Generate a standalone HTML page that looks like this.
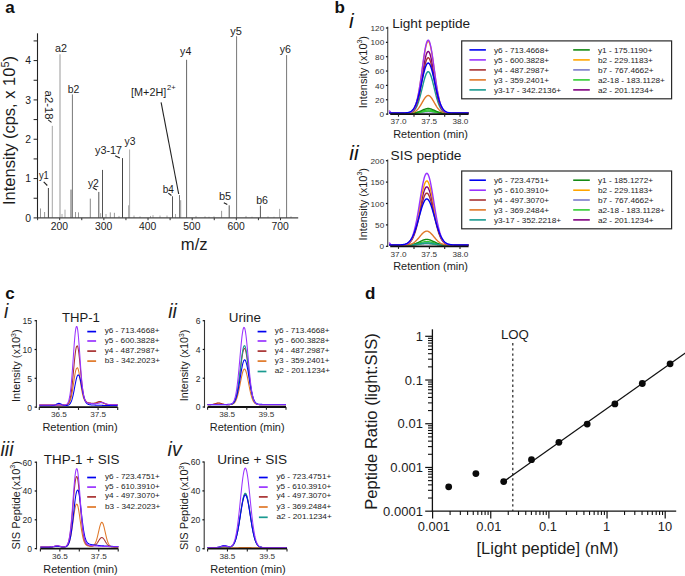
<!DOCTYPE html>
<html><head><meta charset="utf-8"><style>
html,body{margin:0;padding:0;background:#fff;}
svg{display:block;}
text{font-family:"Liberation Sans", sans-serif;}
</style></head><body>
<svg width="685" height="576" viewBox="0 0 685 576">
<rect width="685" height="576" fill="#fff"/>
<text x="5.20" y="12.70" font-size="17" font-weight="bold" fill="#111">a</text>
<line x1="48.40" y1="217.90" x2="48.40" y2="188.01" stroke="#444" stroke-width="1"/>
<line x1="52.30" y1="217.90" x2="52.30" y2="125.87" stroke="#a5a5a5" stroke-width="1"/>
<line x1="60.00" y1="217.90" x2="60.00" y2="54.29" stroke="#999" stroke-width="1"/>
<line x1="72.40" y1="217.90" x2="72.40" y2="94.40" stroke="#777" stroke-width="1"/>
<line x1="40.50" y1="217.90" x2="40.50" y2="208.46" stroke="#999" stroke-width="1"/>
<line x1="44.60" y1="217.90" x2="44.60" y2="212.00" stroke="#999" stroke-width="1"/>
<line x1="65.00" y1="217.90" x2="65.00" y2="209.64" stroke="#aaa" stroke-width="1"/>
<line x1="75.50" y1="217.90" x2="75.50" y2="212.00" stroke="#999" stroke-width="1"/>
<line x1="78.50" y1="217.90" x2="78.50" y2="212.39" stroke="#999" stroke-width="1"/>
<line x1="90.30" y1="217.90" x2="90.30" y2="198.63" stroke="#888" stroke-width="1"/>
<line x1="98.80" y1="217.90" x2="98.80" y2="191.94" stroke="#555" stroke-width="1"/>
<line x1="102.50" y1="217.90" x2="102.50" y2="169.92" stroke="#555" stroke-width="1"/>
<line x1="110.30" y1="217.90" x2="110.30" y2="212.39" stroke="#999" stroke-width="1"/>
<line x1="114.40" y1="217.90" x2="114.40" y2="212.79" stroke="#999" stroke-width="1"/>
<line x1="122.50" y1="217.90" x2="122.50" y2="158.12" stroke="#444" stroke-width="1"/>
<line x1="129.60" y1="217.90" x2="129.60" y2="149.47" stroke="#aaa" stroke-width="1"/>
<line x1="172.50" y1="217.90" x2="172.50" y2="196.27" stroke="#555" stroke-width="1"/>
<line x1="179.50" y1="217.90" x2="179.50" y2="195.09" stroke="#777" stroke-width="1"/>
<line x1="180.70" y1="217.90" x2="180.70" y2="200.20" stroke="#999" stroke-width="1"/>
<line x1="186.60" y1="217.90" x2="186.60" y2="59.79" stroke="#666" stroke-width="1"/>
<line x1="221.60" y1="217.90" x2="221.60" y2="210.82" stroke="#999" stroke-width="1"/>
<line x1="229.20" y1="217.90" x2="229.20" y2="205.31" stroke="#555" stroke-width="1"/>
<line x1="236.60" y1="217.90" x2="236.60" y2="36.20" stroke="#777" stroke-width="1"/>
<line x1="260.40" y1="217.90" x2="260.40" y2="205.71" stroke="#555" stroke-width="1"/>
<line x1="279.60" y1="217.90" x2="279.60" y2="208.85" stroke="#aaa" stroke-width="1"/>
<line x1="286.60" y1="217.90" x2="286.60" y2="55.07" stroke="#777" stroke-width="1"/>
<line x1="128.60" y1="217.90" x2="128.60" y2="205.31" stroke="#aaa" stroke-width="1"/>
<line x1="71.00" y1="217.90" x2="71.00" y2="189.58" stroke="#666" stroke-width="1"/>
<line x1="70.80" y1="217.90" x2="70.80" y2="210.03" stroke="#aaa" stroke-width="1"/>
<line x1="100.60" y1="217.90" x2="100.60" y2="213.18" stroke="#aaa" stroke-width="1"/>
<line x1="106.00" y1="217.90" x2="106.00" y2="213.97" stroke="#aaa" stroke-width="1"/>
<line x1="160.00" y1="217.90" x2="160.00" y2="215.54" stroke="#aaa" stroke-width="1"/>
<line x1="150.50" y1="217.90" x2="150.50" y2="215.93" stroke="#aaa" stroke-width="1"/>
<line x1="153.00" y1="217.90" x2="153.00" y2="215.15" stroke="#aaa" stroke-width="1"/>
<line x1="175.50" y1="217.90" x2="175.50" y2="213.97" stroke="#aaa" stroke-width="1"/>
<line x1="196.00" y1="217.90" x2="196.00" y2="215.93" stroke="#aaa" stroke-width="1"/>
<line x1="205.00" y1="217.90" x2="205.00" y2="216.33" stroke="#aaa" stroke-width="1"/>
<line x1="246.00" y1="217.90" x2="246.00" y2="215.93" stroke="#aaa" stroke-width="1"/>
<line x1="167.00" y1="217.90" x2="167.00" y2="215.54" stroke="#aaa" stroke-width="1"/>
<line x1="140.00" y1="217.90" x2="140.00" y2="216.33" stroke="#aaa" stroke-width="1"/>
<line x1="134.00" y1="217.90" x2="134.00" y2="215.54" stroke="#aaa" stroke-width="1"/>
<line x1="119.00" y1="217.90" x2="119.00" y2="215.93" stroke="#aaa" stroke-width="1"/>
<line x1="62.00" y1="217.90" x2="62.00" y2="213.97" stroke="#aaa" stroke-width="1"/>
<line x1="209.00" y1="217.90" x2="209.00" y2="216.72" stroke="#aaa" stroke-width="1"/>
<line x1="214.00" y1="217.90" x2="214.00" y2="216.33" stroke="#aaa" stroke-width="1"/>
<line x1="252.00" y1="217.90" x2="252.00" y2="216.72" stroke="#aaa" stroke-width="1"/>
<line x1="268.00" y1="217.90" x2="268.00" y2="216.33" stroke="#aaa" stroke-width="1"/>
<line x1="274.00" y1="217.90" x2="274.00" y2="216.72" stroke="#aaa" stroke-width="1"/>
<line x1="291.00" y1="217.90" x2="291.00" y2="216.33" stroke="#aaa" stroke-width="1"/>
<line x1="37.50" y1="33.30" x2="37.50" y2="218.40" stroke="#222" stroke-width="1.1"/>
<line x1="37.00" y1="217.90" x2="298.20" y2="217.90" stroke="#444" stroke-width="1.1"/>
<line x1="33.60" y1="217.90" x2="37.50" y2="217.90" stroke="#222" stroke-width="1"/>
<line x1="33.60" y1="198.24" x2="37.50" y2="198.24" stroke="#222" stroke-width="1"/>
<line x1="33.60" y1="178.57" x2="37.50" y2="178.57" stroke="#222" stroke-width="1"/>
<line x1="33.60" y1="158.91" x2="37.50" y2="158.91" stroke="#222" stroke-width="1"/>
<line x1="33.60" y1="139.24" x2="37.50" y2="139.24" stroke="#222" stroke-width="1"/>
<line x1="33.60" y1="119.58" x2="37.50" y2="119.58" stroke="#222" stroke-width="1"/>
<line x1="33.60" y1="99.91" x2="37.50" y2="99.91" stroke="#222" stroke-width="1"/>
<line x1="33.60" y1="80.25" x2="37.50" y2="80.25" stroke="#222" stroke-width="1"/>
<line x1="33.60" y1="60.58" x2="37.50" y2="60.58" stroke="#222" stroke-width="1"/>
<line x1="33.60" y1="40.92" x2="37.50" y2="40.92" stroke="#222" stroke-width="1"/>
<line x1="37.62" y1="217.90" x2="37.62" y2="220.20" stroke="#333" stroke-width="1"/>
<line x1="59.70" y1="217.90" x2="59.70" y2="220.20" stroke="#333" stroke-width="1"/>
<line x1="81.78" y1="217.90" x2="81.78" y2="220.20" stroke="#333" stroke-width="1"/>
<line x1="103.86" y1="217.90" x2="103.86" y2="220.20" stroke="#333" stroke-width="1"/>
<line x1="125.94" y1="217.90" x2="125.94" y2="220.20" stroke="#333" stroke-width="1"/>
<line x1="148.02" y1="217.90" x2="148.02" y2="220.20" stroke="#333" stroke-width="1"/>
<line x1="170.10" y1="217.90" x2="170.10" y2="220.20" stroke="#333" stroke-width="1"/>
<line x1="192.18" y1="217.90" x2="192.18" y2="220.20" stroke="#333" stroke-width="1"/>
<line x1="214.26" y1="217.90" x2="214.26" y2="220.20" stroke="#333" stroke-width="1"/>
<line x1="236.34" y1="217.90" x2="236.34" y2="220.20" stroke="#333" stroke-width="1"/>
<line x1="258.42" y1="217.90" x2="258.42" y2="220.20" stroke="#333" stroke-width="1"/>
<line x1="280.50" y1="217.90" x2="280.50" y2="220.20" stroke="#333" stroke-width="1"/>
<text x="31.00" y="221.70" font-size="10.4" text-anchor="end" fill="#1c1c1c">0</text>
<text x="31.00" y="182.37" font-size="10.4" text-anchor="end" fill="#1c1c1c">1</text>
<text x="31.00" y="143.04" font-size="10.4" text-anchor="end" fill="#1c1c1c">2</text>
<text x="31.00" y="103.71" font-size="10.4" text-anchor="end" fill="#1c1c1c">3</text>
<text x="31.00" y="64.38" font-size="10.4" text-anchor="end" fill="#1c1c1c">4</text>
<text x="59.40" y="229.70" font-size="10.5" text-anchor="middle" fill="#1c1c1c" textLength="17.30" lengthAdjust="spacingAndGlyphs">200</text>
<text x="103.56" y="229.70" font-size="10.5" text-anchor="middle" fill="#1c1c1c" textLength="17.30" lengthAdjust="spacingAndGlyphs">300</text>
<text x="147.72" y="229.70" font-size="10.5" text-anchor="middle" fill="#1c1c1c" textLength="17.30" lengthAdjust="spacingAndGlyphs">400</text>
<text x="191.88" y="229.70" font-size="10.5" text-anchor="middle" fill="#1c1c1c" textLength="17.30" lengthAdjust="spacingAndGlyphs">500</text>
<text x="236.04" y="229.70" font-size="10.5" text-anchor="middle" fill="#1c1c1c" textLength="17.30" lengthAdjust="spacingAndGlyphs">600</text>
<text x="280.20" y="229.70" font-size="10.5" text-anchor="middle" fill="#1c1c1c" textLength="17.30" lengthAdjust="spacingAndGlyphs">700</text>
<text x="194.20" y="249.70" font-size="16.6" text-anchor="middle" fill="#1c1c1c">m/z</text>
<text transform="translate(14.90,205.00) rotate(-90)" font-size="16.6" fill="#1c1c1c" textLength="149.00" lengthAdjust="spacingAndGlyphs">Intensity (cps, x 10<tspan font-size="11" dy="-5.8">5</tspan><tspan dy="5.8">)</tspan></text>
<text x="55.00" y="51.70" font-size="10.4" fill="#1c1c1c" textLength="12.00" lengthAdjust="spacingAndGlyphs">a2</text>
<text x="67.70" y="92.70" font-size="10.4" fill="#1c1c1c" textLength="11.60" lengthAdjust="spacingAndGlyphs">b2</text>
<text x="180.10" y="55.40" font-size="10.4" fill="#1c1c1c" textLength="11.20" lengthAdjust="spacingAndGlyphs">y4</text>
<text x="230.30" y="34.80" font-size="10.4" fill="#1c1c1c" textLength="11.60" lengthAdjust="spacingAndGlyphs">y5</text>
<text x="279.70" y="52.70" font-size="10.4" fill="#1c1c1c" textLength="11.20" lengthAdjust="spacingAndGlyphs">y6</text>
<text x="38.90" y="179.20" font-size="10.4" fill="#1c1c1c" textLength="9.90" lengthAdjust="spacingAndGlyphs">y1</text>
<text x="87.90" y="186.90" font-size="10.4" fill="#1c1c1c" textLength="11.00" lengthAdjust="spacingAndGlyphs">y2</text>
<text x="95.00" y="153.80" font-size="10.4" fill="#1c1c1c" textLength="27.10" lengthAdjust="spacingAndGlyphs">y3-17</text>
<text x="124.50" y="144.80" font-size="10.4" fill="#1c1c1c" textLength="10.90" lengthAdjust="spacingAndGlyphs">y3</text>
<text x="162.70" y="192.50" font-size="10.4" fill="#1c1c1c" textLength="11.20" lengthAdjust="spacingAndGlyphs">b4</text>
<text x="218.90" y="200.30" font-size="10.4" fill="#1c1c1c" textLength="12.20" lengthAdjust="spacingAndGlyphs">b5</text>
<text x="256.20" y="203.80" font-size="10.4" fill="#1c1c1c" textLength="11.80" lengthAdjust="spacingAndGlyphs">b6</text>
<text transform="translate(44.70,90.60) rotate(90)" font-size="10.4" fill="#1c1c1c" textLength="29.00" lengthAdjust="spacingAndGlyphs">a2-18</text>
<line x1="43.70" y1="181.90" x2="47.30" y2="185.50" stroke="#222" stroke-width="1.1"/>
<line x1="92.70" y1="187.60" x2="96.80" y2="189.90" stroke="#222" stroke-width="1.1"/>
<line x1="115.20" y1="155.70" x2="119.90" y2="157.90" stroke="#222" stroke-width="1.1"/>
<line x1="48.20" y1="119.90" x2="51.50" y2="122.40" stroke="#222" stroke-width="1.1"/>
<line x1="168.30" y1="193.10" x2="171.40" y2="195.50" stroke="#222" stroke-width="1.1"/>
<line x1="223.80" y1="202.70" x2="227.30" y2="204.60" stroke="#222" stroke-width="1.1"/>
<text x="131.10" y="95.90" font-size="11.0" fill="#1c1c1c" textLength="35.10" lengthAdjust="spacingAndGlyphs">[M+2H]</text>
<text x="167.00" y="90.20" font-size="7.6" fill="#1c1c1c" textLength="8.60" lengthAdjust="spacingAndGlyphs">2+</text>
<line x1="161.10" y1="102.40" x2="178.70" y2="194.00" stroke="#222" stroke-width="1.1"/>
<text x="334.60" y="12.80" font-size="17" font-weight="bold" fill="#111">b</text>
<text x="349.00" y="28.30" font-size="21" font-style="italic" fill="#111">i</text>
<text x="392.20" y="27.50" font-size="13.2" fill="#1c1c1c" textLength="78.00" lengthAdjust="spacingAndGlyphs">Light peptide</text>
<path d="M389.00,113.11 L389.50,113.11 L390.00,113.11 L390.50,113.11 L391.00,113.11 L391.50,113.11 L392.00,113.11 L392.50,113.11 L393.00,113.11 L393.50,113.11 L394.00,113.11 L394.50,113.11 L395.00,113.11 L395.50,113.11 L396.00,113.11 L396.50,113.11 L397.00,113.11 L397.50,113.11 L398.00,113.11 L398.50,113.11 L399.00,113.11 L399.50,113.11 L400.00,113.11 L400.50,113.11 L401.00,113.11 L401.50,113.11 L402.00,113.11 L402.50,113.11 L403.00,113.11 L403.50,113.11 L404.00,113.10 L404.50,113.10 L405.00,113.10 L405.50,113.10 L406.00,113.10 L406.50,113.10 L407.00,113.10 L407.50,113.10 L408.00,113.10 L408.50,113.10 L409.00,113.10 L409.50,113.09 L410.00,113.09 L410.50,113.09 L411.00,113.08 L411.50,113.08 L412.00,113.07 L412.50,113.06 L413.00,113.05 L413.50,113.03 L414.00,113.02 L414.50,113.00 L415.00,112.98 L415.50,112.95 L416.00,112.92 L416.50,112.89 L417.00,112.85 L417.50,112.81 L418.00,112.77 L418.50,112.72 L419.00,112.66 L419.50,112.60 L420.00,112.54 L420.50,112.48 L421.00,112.41 L421.50,112.34 L422.00,112.26 L422.50,112.19 L423.00,112.12 L423.50,112.05 L424.00,111.98 L424.50,111.92 L425.00,111.86 L425.50,111.81 L426.00,111.76 L426.50,111.73 L427.00,111.70 L427.50,111.68 L428.00,111.67 L428.50,111.67 L429.00,111.68 L429.50,111.70 L430.00,111.73 L430.50,111.77 L431.00,111.82 L431.50,111.87 L432.00,111.93 L432.50,112.00 L433.00,112.06 L433.50,112.13 L434.00,112.21 L434.50,112.28 L435.00,112.35 L435.50,112.42 L436.00,112.49 L436.50,112.55 L437.00,112.62 L437.50,112.67 L438.00,112.73 L438.50,112.78 L439.00,112.82 L439.50,112.86 L440.00,112.90 L440.50,112.93 L441.00,112.96 L441.50,112.98 L442.00,113.00 L442.50,113.02 L443.00,113.04 L443.50,113.05 L444.00,113.06 L444.50,113.07 L445.00,113.08 L445.50,113.08 L446.00,113.09 L446.50,113.09 L447.00,113.09 L447.50,113.10 L448.00,113.10 L448.50,113.10 L449.00,113.10 L449.50,113.10 L450.00,113.10 L450.50,113.10 L451.00,113.10 L451.50,113.10 L452.00,113.10 L452.50,113.10 L453.00,113.11 L453.50,113.11 L454.00,113.11 L454.50,113.11 L455.00,113.11 L455.50,113.11 L456.00,113.11 L456.50,113.11 L457.00,113.11 L457.50,113.11 L458.00,113.11 L458.50,113.11 L459.00,113.11 L459.50,113.11 L460.00,113.11 L460.50,113.11 L461.00,113.11 L461.50,113.11 L462.00,113.11 L462.50,113.11 L463.00,113.11 L463.50,113.11 L464.00,113.11 L464.50,113.11 L465.00,113.11 L465.50,113.11 L466.00,113.11 L466.50,113.11 L467.00,113.11 L467.50,113.11 L468.00,113.11 L468.50,113.11" fill="none" stroke="#7b7bc8" stroke-width="1.4" stroke-linejoin="round"/>
<path d="M389.00,113.11 L389.50,113.11 L390.00,113.11 L390.50,113.11 L391.00,113.11 L391.50,113.11 L392.00,113.11 L392.50,113.11 L393.00,113.11 L393.50,113.11 L394.00,113.11 L394.50,113.11 L395.00,113.11 L395.50,113.11 L396.00,113.11 L396.50,113.11 L397.00,113.11 L397.50,113.11 L398.00,113.11 L398.50,113.11 L399.00,113.11 L399.50,113.11 L400.00,113.11 L400.50,113.11 L401.00,113.11 L401.50,113.11 L402.00,113.11 L402.50,113.11 L403.00,113.11 L403.50,113.10 L404.00,113.10 L404.50,113.10 L405.00,113.10 L405.50,113.10 L406.00,113.10 L406.50,113.10 L407.00,113.10 L407.50,113.10 L408.00,113.10 L408.50,113.10 L409.00,113.09 L409.50,113.09 L410.00,113.09 L410.50,113.08 L411.00,113.07 L411.50,113.06 L412.00,113.05 L412.50,113.04 L413.00,113.02 L413.50,113.01 L414.00,112.98 L414.50,112.96 L415.00,112.93 L415.50,112.89 L416.00,112.85 L416.50,112.81 L417.00,112.75 L417.50,112.70 L418.00,112.63 L418.50,112.56 L419.00,112.49 L419.50,112.40 L420.00,112.32 L420.50,112.22 L421.00,112.13 L421.50,112.03 L422.00,111.93 L422.50,111.83 L423.00,111.73 L423.50,111.63 L424.00,111.53 L424.50,111.44 L425.00,111.36 L425.50,111.29 L426.00,111.23 L426.50,111.18 L427.00,111.14 L427.50,111.11 L428.00,111.10 L428.50,111.10 L429.00,111.11 L429.50,111.14 L430.00,111.18 L430.50,111.24 L431.00,111.30 L431.50,111.38 L432.00,111.46 L432.50,111.55 L433.00,111.65 L433.50,111.75 L434.00,111.85 L434.50,111.95 L435.00,112.05 L435.50,112.15 L436.00,112.24 L436.50,112.33 L437.00,112.42 L437.50,112.50 L438.00,112.58 L438.50,112.65 L439.00,112.71 L439.50,112.76 L440.00,112.81 L440.50,112.86 L441.00,112.90 L441.50,112.93 L442.00,112.96 L442.50,112.99 L443.00,113.01 L443.50,113.03 L444.00,113.04 L444.50,113.06 L445.00,113.07 L445.50,113.07 L446.00,113.08 L446.50,113.09 L447.00,113.09 L447.50,113.09 L448.00,113.10 L448.50,113.10 L449.00,113.10 L449.50,113.10 L450.00,113.10 L450.50,113.10 L451.00,113.10 L451.50,113.10 L452.00,113.10 L452.50,113.10 L453.00,113.10 L453.50,113.11 L454.00,113.11 L454.50,113.11 L455.00,113.11 L455.50,113.11 L456.00,113.11 L456.50,113.11 L457.00,113.11 L457.50,113.11 L458.00,113.11 L458.50,113.11 L459.00,113.11 L459.50,113.11 L460.00,113.11 L460.50,113.11 L461.00,113.11 L461.50,113.11 L462.00,113.11 L462.50,113.11 L463.00,113.11 L463.50,113.11 L464.00,113.11 L464.50,113.11 L465.00,113.11 L465.50,113.11 L466.00,113.11 L466.50,113.11 L467.00,113.11 L467.50,113.11 L468.00,113.11 L468.50,113.11" fill="none" stroke="#33cc33" stroke-width="1.4" stroke-linejoin="round"/>
<path d="M389.00,113.11 L389.50,113.11 L390.00,113.11 L390.50,113.11 L391.00,113.11 L391.50,113.11 L392.00,113.11 L392.50,113.11 L393.00,113.11 L393.50,113.11 L394.00,113.11 L394.50,113.11 L395.00,113.11 L395.50,113.11 L396.00,113.11 L396.50,113.11 L397.00,113.11 L397.50,113.11 L398.00,113.11 L398.50,113.11 L399.00,113.11 L399.50,113.11 L400.00,113.11 L400.50,113.11 L401.00,113.11 L401.50,113.11 L402.00,113.11 L402.50,113.11 L403.00,113.10 L403.50,113.10 L404.00,113.10 L404.50,113.10 L405.00,113.10 L405.50,113.10 L406.00,113.10 L406.50,113.10 L407.00,113.10 L407.50,113.10 L408.00,113.09 L408.50,113.09 L409.00,113.09 L409.50,113.08 L410.00,113.07 L410.50,113.07 L411.00,113.05 L411.50,113.04 L412.00,113.02 L412.50,113.00 L413.00,112.98 L413.50,112.95 L414.00,112.92 L414.50,112.88 L415.00,112.83 L415.50,112.78 L416.00,112.71 L416.50,112.64 L417.00,112.57 L417.50,112.48 L418.00,112.38 L418.50,112.27 L419.00,112.15 L419.50,112.03 L420.00,111.89 L420.50,111.75 L421.00,111.60 L421.50,111.45 L422.00,111.30 L422.50,111.14 L423.00,110.99 L423.50,110.84 L424.00,110.69 L424.50,110.55 L425.00,110.43 L425.50,110.32 L426.00,110.22 L426.50,110.14 L427.00,110.08 L427.50,110.04 L428.00,110.02 L428.50,110.02 L429.00,110.05 L429.50,110.09 L430.00,110.16 L430.50,110.24 L431.00,110.34 L431.50,110.45 L432.00,110.58 L432.50,110.72 L433.00,110.87 L433.50,111.02 L434.00,111.17 L434.50,111.33 L435.00,111.48 L435.50,111.63 L436.00,111.78 L436.50,111.92 L437.00,112.05 L437.50,112.18 L438.00,112.29 L438.50,112.40 L439.00,112.49 L439.50,112.58 L440.00,112.66 L440.50,112.73 L441.00,112.79 L441.50,112.84 L442.00,112.89 L442.50,112.93 L443.00,112.96 L443.50,112.99 L444.00,113.01 L444.50,113.03 L445.00,113.04 L445.50,113.06 L446.00,113.07 L446.50,113.08 L447.00,113.08 L447.50,113.09 L448.00,113.09 L448.50,113.10 L449.00,113.10 L449.50,113.10 L450.00,113.10 L450.50,113.10 L451.00,113.10 L451.50,113.10 L452.00,113.10 L452.50,113.10 L453.00,113.10 L453.50,113.10 L454.00,113.11 L454.50,113.11 L455.00,113.11 L455.50,113.11 L456.00,113.11 L456.50,113.11 L457.00,113.11 L457.50,113.11 L458.00,113.11 L458.50,113.11 L459.00,113.11 L459.50,113.11 L460.00,113.11 L460.50,113.11 L461.00,113.11 L461.50,113.11 L462.00,113.11 L462.50,113.11 L463.00,113.11 L463.50,113.11 L464.00,113.11 L464.50,113.11 L465.00,113.11 L465.50,113.11 L466.00,113.11 L466.50,113.11 L467.00,113.11 L467.50,113.11 L468.00,113.11 L468.50,113.11" fill="none" stroke="#33cc33" stroke-width="1.4" stroke-linejoin="round"/>
<path d="M389.00,113.11 L389.50,113.11 L390.00,113.11 L390.50,113.11 L391.00,113.11 L391.50,113.11 L392.00,113.11 L392.50,113.11 L393.00,113.11 L393.50,113.11 L394.00,113.11 L394.50,113.11 L395.00,113.11 L395.50,113.11 L396.00,113.11 L396.50,113.11 L397.00,113.11 L397.50,113.11 L398.00,113.11 L398.50,113.11 L399.00,113.11 L399.50,113.11 L400.00,113.11 L400.50,113.11 L401.00,113.11 L401.50,113.11 L402.00,113.11 L402.50,113.10 L403.00,113.10 L403.50,113.10 L404.00,113.10 L404.50,113.10 L405.00,113.10 L405.50,113.10 L406.00,113.10 L406.50,113.10 L407.00,113.10 L407.50,113.09 L408.00,113.09 L408.50,113.08 L409.00,113.08 L409.50,113.07 L410.00,113.06 L410.50,113.05 L411.00,113.03 L411.50,113.01 L412.00,112.99 L412.50,112.96 L413.00,112.92 L413.50,112.88 L414.00,112.83 L414.50,112.77 L415.00,112.70 L415.50,112.62 L416.00,112.52 L416.50,112.42 L417.00,112.30 L417.50,112.17 L418.00,112.02 L418.50,111.86 L419.00,111.69 L419.50,111.50 L420.00,111.30 L420.50,111.09 L421.00,110.87 L421.50,110.64 L422.00,110.41 L422.50,110.18 L423.00,109.95 L423.50,109.73 L424.00,109.51 L424.50,109.31 L425.00,109.12 L425.50,108.96 L426.00,108.81 L426.50,108.69 L427.00,108.60 L427.50,108.54 L428.00,108.52 L428.50,108.52 L429.00,108.55 L429.50,108.62 L430.00,108.72 L430.50,108.84 L431.00,108.99 L431.50,109.16 L432.00,109.35 L432.50,109.55 L433.00,109.77 L433.50,110.00 L434.00,110.23 L434.50,110.46 L435.00,110.69 L435.50,110.91 L436.00,111.13 L436.50,111.34 L437.00,111.54 L437.50,111.72 L438.00,111.90 L438.50,112.05 L439.00,112.20 L439.50,112.33 L440.00,112.44 L440.50,112.54 L441.00,112.63 L441.50,112.71 L442.00,112.78 L442.50,112.84 L443.00,112.89 L443.50,112.93 L444.00,112.96 L444.50,112.99 L445.00,113.01 L445.50,113.03 L446.00,113.05 L446.50,113.06 L447.00,113.07 L447.50,113.08 L448.00,113.09 L448.50,113.09 L449.00,113.09 L449.50,113.10 L450.00,113.10 L450.50,113.10 L451.00,113.10 L451.50,113.10 L452.00,113.10 L452.50,113.10 L453.00,113.10 L453.50,113.10 L454.00,113.10 L454.50,113.11 L455.00,113.11 L455.50,113.11 L456.00,113.11 L456.50,113.11 L457.00,113.11 L457.50,113.11 L458.00,113.11 L458.50,113.11 L459.00,113.11 L459.50,113.11 L460.00,113.11 L460.50,113.11 L461.00,113.11 L461.50,113.11 L462.00,113.11 L462.50,113.11 L463.00,113.11 L463.50,113.11 L464.00,113.11 L464.50,113.11 L465.00,113.11 L465.50,113.11 L466.00,113.11 L466.50,113.11 L467.00,113.11 L467.50,113.11 L468.00,113.11 L468.50,113.11" fill="none" stroke="#148a14" stroke-width="1.4" stroke-linejoin="round"/>
<path d="M389.00,113.11 L389.50,113.11 L390.00,113.11 L390.50,113.11 L391.00,113.11 L391.50,113.11 L392.00,113.11 L392.50,113.11 L393.00,113.11 L393.50,113.11 L394.00,113.11 L394.50,113.11 L395.00,113.11 L395.50,113.11 L396.00,113.11 L396.50,113.11 L397.00,113.11 L397.50,113.11 L398.00,113.11 L398.50,113.11 L399.00,113.11 L399.50,113.11 L400.00,113.11 L400.50,113.10 L401.00,113.10 L401.50,113.10 L402.00,113.10 L402.50,113.10 L403.00,113.10 L403.50,113.10 L404.00,113.10 L404.50,113.10 L405.00,113.10 L405.50,113.09 L406.00,113.09 L406.50,113.08 L407.00,113.07 L407.50,113.06 L408.00,113.04 L408.50,113.03 L409.00,113.00 L409.50,112.97 L410.00,112.93 L410.50,112.88 L411.00,112.82 L411.50,112.74 L412.00,112.65 L412.50,112.53 L413.00,112.40 L413.50,112.23 L414.00,112.04 L414.50,111.81 L415.00,111.54 L415.50,111.23 L416.00,110.88 L416.50,110.48 L417.00,110.03 L417.50,109.52 L418.00,108.96 L418.50,108.35 L419.00,107.68 L419.50,106.96 L420.00,106.20 L420.50,105.39 L421.00,104.55 L421.50,103.68 L422.00,102.80 L422.50,101.91 L423.00,101.03 L423.50,100.17 L424.00,99.35 L424.50,98.57 L425.00,97.86 L425.50,97.22 L426.00,96.67 L426.50,96.22 L427.00,95.87 L427.50,95.65 L428.00,95.54 L428.50,95.55 L429.00,95.68 L429.50,95.93 L430.00,96.30 L430.50,96.77 L431.00,97.34 L431.50,97.99 L432.00,98.72 L432.50,99.51 L433.00,100.34 L433.50,101.21 L434.00,102.09 L434.50,102.98 L435.00,103.86 L435.50,104.72 L436.00,105.55 L436.50,106.35 L437.00,107.11 L437.50,107.82 L438.00,108.47 L438.50,109.08 L439.00,109.63 L439.50,110.12 L440.00,110.56 L440.50,110.96 L441.00,111.30 L441.50,111.60 L442.00,111.86 L442.50,112.08 L443.00,112.27 L443.50,112.42 L444.00,112.56 L444.50,112.67 L445.00,112.76 L445.50,112.83 L446.00,112.89 L446.50,112.94 L447.00,112.98 L447.50,113.01 L448.00,113.03 L448.50,113.05 L449.00,113.06 L449.50,113.07 L450.00,113.08 L450.50,113.09 L451.00,113.09 L451.50,113.10 L452.00,113.10 L452.50,113.10 L453.00,113.10 L453.50,113.10 L454.00,113.10 L454.50,113.10 L455.00,113.10 L455.50,113.10 L456.00,113.10 L456.50,113.11 L457.00,113.11 L457.50,113.11 L458.00,113.11 L458.50,113.11 L459.00,113.11 L459.50,113.11 L460.00,113.11 L460.50,113.11 L461.00,113.11 L461.50,113.11 L462.00,113.11 L462.50,113.11 L463.00,113.11 L463.50,113.11 L464.00,113.11 L464.50,113.11 L465.00,113.11 L465.50,113.11 L466.00,113.11 L466.50,113.11 L467.00,113.11 L467.50,113.11 L468.00,113.11 L468.50,113.11" fill="none" stroke="#e07828" stroke-width="1.4" stroke-linejoin="round"/>
<path d="M389.00,113.11 L389.50,113.11 L390.00,113.11 L390.50,113.11 L391.00,113.11 L391.50,113.11 L392.00,113.11 L392.50,113.11 L393.00,113.11 L393.50,113.11 L394.00,113.11 L394.50,113.11 L395.00,113.11 L395.50,113.11 L396.00,113.11 L396.50,113.11 L397.00,113.11 L397.50,113.11 L398.00,113.11 L398.50,113.11 L399.00,113.11 L399.50,113.10 L400.00,113.10 L400.50,113.10 L401.00,113.10 L401.50,113.10 L402.00,113.10 L402.50,113.10 L403.00,113.10 L403.50,113.10 L404.00,113.09 L404.50,113.09 L405.00,113.08 L405.50,113.07 L406.00,113.06 L406.50,113.05 L407.00,113.02 L407.50,113.00 L408.00,112.96 L408.50,112.92 L409.00,112.86 L409.50,112.78 L410.00,112.69 L410.50,112.57 L411.00,112.43 L411.50,112.24 L412.00,112.02 L412.50,111.76 L413.00,111.43 L413.50,111.05 L414.00,110.59 L414.50,110.05 L415.00,109.42 L415.50,108.70 L416.00,107.87 L416.50,106.92 L417.00,105.86 L417.50,104.66 L418.00,103.35 L418.50,101.90 L419.00,100.33 L419.50,98.64 L420.00,96.83 L420.50,94.93 L421.00,92.95 L421.50,90.91 L422.00,88.83 L422.50,86.74 L423.00,84.67 L423.50,82.64 L424.00,80.70 L424.50,78.87 L425.00,77.19 L425.50,75.69 L426.00,74.40 L426.50,73.33 L427.00,72.53 L427.50,71.99 L428.00,71.73 L428.50,71.76 L429.00,72.07 L429.50,72.67 L430.00,73.53 L430.50,74.64 L431.00,75.98 L431.50,77.52 L432.00,79.23 L432.50,81.08 L433.00,83.04 L433.50,85.08 L434.00,87.16 L434.50,89.25 L435.00,91.32 L435.50,93.36 L436.00,95.32 L436.50,97.20 L437.00,98.98 L437.50,100.65 L438.00,102.20 L438.50,103.62 L439.00,104.91 L439.50,106.08 L440.00,107.12 L440.50,108.04 L441.00,108.85 L441.50,109.56 L442.00,110.17 L442.50,110.69 L443.00,111.13 L443.50,111.50 L444.00,111.81 L444.50,112.07 L445.00,112.28 L445.50,112.46 L446.00,112.60 L446.50,112.71 L447.00,112.80 L447.50,112.87 L448.00,112.93 L448.50,112.97 L449.00,113.00 L449.50,113.03 L450.00,113.05 L450.50,113.06 L451.00,113.08 L451.50,113.08 L452.00,113.09 L452.50,113.09 L453.00,113.10 L453.50,113.10 L454.00,113.10 L454.50,113.10 L455.00,113.10 L455.50,113.10 L456.00,113.10 L456.50,113.10 L457.00,113.10 L457.50,113.11 L458.00,113.11 L458.50,113.11 L459.00,113.11 L459.50,113.11 L460.00,113.11 L460.50,113.11 L461.00,113.11 L461.50,113.11 L462.00,113.11 L462.50,113.11 L463.00,113.11 L463.50,113.11 L464.00,113.11 L464.50,113.11 L465.00,113.11 L465.50,113.11 L466.00,113.11 L466.50,113.11 L467.00,113.11 L467.50,113.11 L468.00,113.11 L468.50,113.11" fill="none" stroke="#1a9a90" stroke-width="1.4" stroke-linejoin="round"/>
<path d="M389.00,113.11 L389.50,113.11 L390.00,113.11 L390.50,113.11 L391.00,113.11 L391.50,113.11 L392.00,113.11 L392.50,113.11 L393.00,113.11 L393.50,113.11 L394.00,113.11 L394.50,113.11 L395.00,113.11 L395.50,113.11 L396.00,113.11 L396.50,113.11 L397.00,113.11 L397.50,113.11 L398.00,113.11 L398.50,113.11 L399.00,113.10 L399.50,113.10 L400.00,113.10 L400.50,113.10 L401.00,113.10 L401.50,113.10 L402.00,113.10 L402.50,113.10 L403.00,113.10 L403.50,113.09 L404.00,113.09 L404.50,113.08 L405.00,113.07 L405.50,113.06 L406.00,113.05 L406.50,113.03 L407.00,113.00 L407.50,112.96 L408.00,112.91 L408.50,112.85 L409.00,112.77 L409.50,112.67 L410.00,112.55 L410.50,112.39 L411.00,112.20 L411.50,111.95 L412.00,111.66 L412.50,111.30 L413.00,110.87 L413.50,110.35 L414.00,109.74 L414.50,109.02 L415.00,108.18 L415.50,107.21 L416.00,106.10 L416.50,104.83 L417.00,103.40 L417.50,101.81 L418.00,100.05 L418.50,98.11 L419.00,96.01 L419.50,93.75 L420.00,91.34 L420.50,88.79 L421.00,86.14 L421.50,83.41 L422.00,80.63 L422.50,77.83 L423.00,75.06 L423.50,72.35 L424.00,69.75 L424.50,67.31 L425.00,65.06 L425.50,63.05 L426.00,61.32 L426.50,59.89 L427.00,58.81 L427.50,58.09 L428.00,57.75 L428.50,57.78 L429.00,58.20 L429.50,59.00 L430.00,60.15 L430.50,61.64 L431.00,63.43 L431.50,65.49 L432.00,67.78 L432.50,70.26 L433.00,72.88 L433.50,75.61 L434.00,78.39 L434.50,81.19 L435.00,83.96 L435.50,86.68 L436.00,89.31 L436.50,91.83 L437.00,94.21 L437.50,96.44 L438.00,98.51 L438.50,100.41 L439.00,102.14 L439.50,103.70 L440.00,105.10 L440.50,106.33 L441.00,107.41 L441.50,108.36 L442.00,109.17 L442.50,109.87 L443.00,110.46 L443.50,110.96 L444.00,111.38 L444.50,111.72 L445.00,112.01 L445.50,112.24 L446.00,112.43 L446.50,112.58 L447.00,112.70 L447.50,112.79 L448.00,112.87 L448.50,112.92 L449.00,112.97 L449.50,113.00 L450.00,113.03 L450.50,113.05 L451.00,113.06 L451.50,113.08 L452.00,113.08 L452.50,113.09 L453.00,113.09 L453.50,113.10 L454.00,113.10 L454.50,113.10 L455.00,113.10 L455.50,113.10 L456.00,113.10 L456.50,113.10 L457.00,113.10 L457.50,113.11 L458.00,113.11 L458.50,113.11 L459.00,113.11 L459.50,113.11 L460.00,113.11 L460.50,113.11 L461.00,113.11 L461.50,113.11 L462.00,113.11 L462.50,113.11 L463.00,113.11 L463.50,113.11 L464.00,113.11 L464.50,113.11 L465.00,113.11 L465.50,113.11 L466.00,113.11 L466.50,113.11 L467.00,113.11 L467.50,113.11 L468.00,113.11 L468.50,113.11" fill="none" stroke="#a83232" stroke-width="1.4" stroke-linejoin="round"/>
<path d="M389.00,113.11 L389.50,113.11 L390.00,113.11 L390.50,113.11 L391.00,113.11 L391.50,113.11 L392.00,113.11 L392.50,113.11 L393.00,113.11 L393.50,113.11 L394.00,113.11 L394.50,113.11 L395.00,113.11 L395.50,113.11 L396.00,113.11 L396.50,113.11 L397.00,113.11 L397.50,113.11 L398.00,113.11 L398.50,113.11 L399.00,113.10 L399.50,113.10 L400.00,113.10 L400.50,113.10 L401.00,113.10 L401.50,113.10 L402.00,113.10 L402.50,113.10 L403.00,113.10 L403.50,113.09 L404.00,113.09 L404.50,113.08 L405.00,113.07 L405.50,113.06 L406.00,113.04 L406.50,113.02 L407.00,112.99 L407.50,112.94 L408.00,112.89 L408.50,112.82 L409.00,112.74 L409.50,112.63 L410.00,112.49 L410.50,112.31 L411.00,112.09 L411.50,111.82 L412.00,111.49 L412.50,111.09 L413.00,110.61 L413.50,110.04 L414.00,109.36 L414.50,108.55 L415.00,107.62 L415.50,106.54 L416.00,105.30 L416.50,103.89 L417.00,102.30 L417.50,100.52 L418.00,98.56 L418.50,96.40 L419.00,94.06 L419.50,91.54 L420.00,88.85 L420.50,86.02 L421.00,83.07 L421.50,80.03 L422.00,76.93 L422.50,73.81 L423.00,70.72 L423.50,67.70 L424.00,64.81 L424.50,62.08 L425.00,59.58 L425.50,57.34 L426.00,55.41 L426.50,53.83 L427.00,52.62 L427.50,51.82 L428.00,51.43 L428.50,51.48 L429.00,51.95 L429.50,52.83 L430.00,54.12 L430.50,55.77 L431.00,57.77 L431.50,60.06 L432.00,62.61 L432.50,65.38 L433.00,68.30 L433.50,71.33 L434.00,74.43 L434.50,77.55 L435.00,80.64 L435.50,83.67 L436.00,86.60 L436.50,89.40 L437.00,92.06 L437.50,94.54 L438.00,96.85 L438.50,98.97 L439.00,100.89 L439.50,102.63 L440.00,104.18 L440.50,105.56 L441.00,106.77 L441.50,107.82 L442.00,108.72 L442.50,109.50 L443.00,110.16 L443.50,110.72 L444.00,111.18 L444.50,111.56 L445.00,111.88 L445.50,112.14 L446.00,112.35 L446.50,112.52 L447.00,112.65 L447.50,112.76 L448.00,112.84 L448.50,112.90 L449.00,112.95 L449.50,112.99 L450.00,113.02 L450.50,113.04 L451.00,113.06 L451.50,113.07 L452.00,113.08 L452.50,113.09 L453.00,113.09 L453.50,113.10 L454.00,113.10 L454.50,113.10 L455.00,113.10 L455.50,113.10 L456.00,113.10 L456.50,113.10 L457.00,113.10 L457.50,113.10 L458.00,113.11 L458.50,113.11 L459.00,113.11 L459.50,113.11 L460.00,113.11 L460.50,113.11 L461.00,113.11 L461.50,113.11 L462.00,113.11 L462.50,113.11 L463.00,113.11 L463.50,113.11 L464.00,113.11 L464.50,113.11 L465.00,113.11 L465.50,113.11 L466.00,113.11 L466.50,113.11 L467.00,113.11 L467.50,113.11 L468.00,113.11 L468.50,113.11" fill="none" stroke="#800080" stroke-width="1.4" stroke-linejoin="round"/>
<path d="M389.00,113.11 L389.50,113.11 L390.00,113.11 L390.50,113.11 L391.00,113.11 L391.50,113.11 L392.00,113.11 L392.50,113.11 L393.00,113.11 L393.50,113.11 L394.00,113.11 L394.50,113.11 L395.00,113.11 L395.50,113.11 L396.00,113.11 L396.50,113.11 L397.00,113.11 L397.50,113.11 L398.00,113.11 L398.50,113.11 L399.00,113.10 L399.50,113.10 L400.00,113.10 L400.50,113.10 L401.00,113.10 L401.50,113.10 L402.00,113.10 L402.50,113.10 L403.00,113.09 L403.50,113.09 L404.00,113.08 L404.50,113.08 L405.00,113.06 L405.50,113.05 L406.00,113.03 L406.50,113.00 L407.00,112.97 L407.50,112.92 L408.00,112.86 L408.50,112.78 L409.00,112.68 L409.50,112.55 L410.00,112.38 L410.50,112.18 L411.00,111.93 L411.50,111.61 L412.00,111.23 L412.50,110.76 L413.00,110.20 L413.50,109.53 L414.00,108.74 L414.50,107.81 L415.00,106.72 L415.50,105.46 L416.00,104.02 L416.50,102.38 L417.00,100.53 L417.50,98.46 L418.00,96.17 L418.50,93.66 L419.00,90.94 L419.50,88.00 L420.00,84.88 L420.50,81.58 L421.00,78.15 L421.50,74.60 L422.00,70.99 L422.50,67.37 L423.00,63.77 L423.50,60.26 L424.00,56.89 L424.50,53.72 L425.00,50.81 L425.50,48.20 L426.00,45.95 L426.50,44.11 L427.00,42.71 L427.50,41.77 L428.00,41.32 L428.50,41.37 L429.00,41.92 L429.50,42.95 L430.00,44.44 L430.50,46.37 L431.00,48.69 L431.50,51.37 L432.00,54.34 L432.50,57.55 L433.00,60.95 L433.50,64.48 L434.00,68.09 L434.50,71.72 L435.00,75.32 L435.50,78.84 L436.00,82.25 L436.50,85.52 L437.00,88.61 L437.50,91.50 L438.00,94.18 L438.50,96.65 L439.00,98.89 L439.50,100.91 L440.00,102.72 L440.50,104.32 L441.00,105.73 L441.50,106.95 L442.00,108.01 L442.50,108.91 L443.00,109.68 L443.50,110.32 L444.00,110.86 L444.50,111.31 L445.00,111.68 L445.50,111.98 L446.00,112.22 L446.50,112.42 L447.00,112.58 L447.50,112.70 L448.00,112.80 L448.50,112.87 L449.00,112.93 L449.50,112.97 L450.00,113.01 L450.50,113.03 L451.00,113.05 L451.50,113.07 L452.00,113.08 L452.50,113.09 L453.00,113.09 L453.50,113.10 L454.00,113.10 L454.50,113.10 L455.00,113.10 L455.50,113.10 L456.00,113.10 L456.50,113.10 L457.00,113.10 L457.50,113.10 L458.00,113.11 L458.50,113.11 L459.00,113.11 L459.50,113.11 L460.00,113.11 L460.50,113.11 L461.00,113.11 L461.50,113.11 L462.00,113.11 L462.50,113.11 L463.00,113.11 L463.50,113.11 L464.00,113.11 L464.50,113.11 L465.00,113.11 L465.50,113.11 L466.00,113.11 L466.50,113.11 L467.00,113.11 L467.50,113.11 L468.00,113.11 L468.50,113.11" fill="none" stroke="#ffa500" stroke-width="1.4" stroke-linejoin="round"/>
<path d="M389.00,111.44 L389.50,110.95 L390.00,111.44 L390.50,112.33 L391.00,112.89 L391.50,113.07 L392.00,113.10 L392.50,113.11 L393.00,113.11 L393.50,113.11 L394.00,113.11 L394.50,113.11 L395.00,113.11 L395.50,113.11 L396.00,113.11 L396.50,113.11 L397.00,113.11 L397.50,113.11 L398.00,113.11 L398.50,113.11 L399.00,113.10 L399.50,113.10 L400.00,113.10 L400.50,113.10 L401.00,113.10 L401.50,113.10 L402.00,113.10 L402.50,113.10 L403.00,113.09 L403.50,113.09 L404.00,113.08 L404.50,113.08 L405.00,113.06 L405.50,113.05 L406.00,113.03 L406.50,113.00 L407.00,112.96 L407.50,112.92 L408.00,112.85 L408.50,112.77 L409.00,112.67 L409.50,112.54 L410.00,112.37 L410.50,112.16 L411.00,111.91 L411.50,111.59 L412.00,111.20 L412.50,110.73 L413.00,110.16 L413.50,109.48 L414.00,108.67 L414.50,107.72 L415.00,106.62 L415.50,105.34 L416.00,103.87 L416.50,102.21 L417.00,100.33 L417.50,98.23 L418.00,95.90 L418.50,93.35 L419.00,90.58 L419.50,87.60 L420.00,84.43 L420.50,81.08 L421.00,77.59 L421.50,73.99 L422.00,70.32 L422.50,66.64 L423.00,62.98 L423.50,59.41 L424.00,55.99 L424.50,52.77 L425.00,49.81 L425.50,47.16 L426.00,44.88 L426.50,43.01 L427.00,41.58 L427.50,40.63 L428.00,40.18 L428.50,40.23 L429.00,40.78 L429.50,41.83 L430.00,43.35 L430.50,45.30 L431.00,47.66 L431.50,50.38 L432.00,53.40 L432.50,56.66 L433.00,60.12 L433.50,63.71 L434.00,67.37 L434.50,71.06 L435.00,74.71 L435.50,78.30 L436.00,81.76 L436.50,85.08 L437.00,88.21 L437.50,91.15 L438.00,93.88 L438.50,96.39 L439.00,98.66 L439.50,100.72 L440.00,102.56 L440.50,104.18 L441.00,105.61 L441.50,106.85 L442.00,107.92 L442.50,108.84 L443.00,109.62 L443.50,110.28 L444.00,110.83 L444.50,111.28 L445.00,111.66 L445.50,111.96 L446.00,112.21 L446.50,112.41 L447.00,112.57 L447.50,112.69 L448.00,112.79 L448.50,112.87 L449.00,112.93 L449.50,112.97 L450.00,113.01 L450.50,113.03 L451.00,113.05 L451.50,113.07 L452.00,113.08 L452.50,113.09 L453.00,113.09 L453.50,113.10 L454.00,113.10 L454.50,113.10 L455.00,113.10 L455.50,113.10 L456.00,113.10 L456.50,113.10 L457.00,113.10 L457.50,113.10 L458.00,113.11 L458.50,113.11 L459.00,113.11 L459.50,113.11 L460.00,113.11 L460.50,113.11 L461.00,113.11 L461.50,113.11 L462.00,113.11 L462.50,113.11 L463.00,113.11 L463.50,113.11 L464.00,113.11 L464.50,113.11 L465.00,113.11 L465.50,113.11 L466.00,113.11 L466.50,113.11 L467.00,113.11 L467.50,113.11 L468.00,113.11 L468.50,113.11" fill="none" stroke="#9933ff" stroke-width="1.4" stroke-linejoin="round"/>
<path d="M389.00,113.00 L389.50,113.00 L390.00,113.00 L390.50,113.00 L391.00,113.00 L391.50,113.00 L392.00,113.00 L392.50,113.00 L393.00,113.00 L393.50,113.00 L394.00,113.00 L394.50,113.00 L395.00,113.00 L395.50,113.00 L396.00,113.00 L396.50,113.00 L397.00,113.00 L397.50,113.00 L398.00,113.00 L398.50,113.00 L399.00,112.99 L399.50,112.99 L400.00,112.99 L400.50,112.99 L401.00,112.99 L401.50,112.98 L402.00,112.98 L402.50,112.97 L403.00,112.96 L403.50,112.95 L404.00,112.94 L404.50,112.92 L405.00,112.89 L405.50,112.86 L406.00,112.82 L406.50,112.77 L407.00,112.71 L407.50,112.63 L408.00,112.54 L408.50,112.42 L409.00,112.27 L409.50,112.09 L410.00,111.88 L410.50,111.63 L411.00,111.32 L411.50,110.96 L412.00,110.54 L412.50,110.04 L413.00,109.47 L413.50,108.81 L414.00,108.06 L414.50,107.20 L415.00,106.23 L415.50,105.15 L416.00,103.94 L416.50,102.61 L417.00,101.15 L417.50,99.56 L418.00,97.85 L418.50,96.01 L419.00,94.07 L419.50,92.02 L420.00,89.88 L420.50,87.68 L421.00,85.42 L421.50,83.12 L422.00,80.83 L422.50,78.56 L423.00,76.33 L423.50,74.19 L424.00,72.15 L424.50,70.26 L425.00,68.53 L425.50,67.00 L426.00,65.69 L426.50,64.62 L427.00,63.81 L427.50,63.27 L428.00,63.01 L428.50,63.04 L429.00,63.35 L429.50,63.95 L430.00,64.81 L430.50,65.93 L431.00,67.29 L431.50,68.86 L432.00,70.63 L432.50,72.55 L433.00,74.61 L433.50,76.77 L434.00,79.01 L434.50,81.29 L435.00,83.58 L435.50,85.87 L436.00,88.12 L436.50,90.32 L437.00,92.44 L437.50,94.47 L438.00,96.39 L438.50,98.20 L439.00,99.89 L439.50,101.45 L440.00,102.88 L440.50,104.19 L441.00,105.37 L441.50,106.43 L442.00,107.38 L442.50,108.22 L443.00,108.95 L443.50,109.59 L444.00,110.15 L444.50,110.63 L445.00,111.04 L445.50,111.39 L446.00,111.68 L446.50,111.93 L447.00,112.13 L447.50,112.30 L448.00,112.44 L448.50,112.56 L449.00,112.65 L449.50,112.72 L450.00,112.78 L450.50,112.83 L451.00,112.87 L451.50,112.90 L452.00,112.92 L452.50,112.94 L453.00,112.95 L453.50,112.97 L454.00,112.97 L454.50,112.98 L455.00,112.98 L455.50,112.99 L456.00,112.99 L456.50,112.99 L457.00,112.99 L457.50,113.00 L458.00,113.00 L458.50,113.00 L459.00,113.00 L459.50,113.00 L460.00,113.00 L460.50,113.00 L461.00,113.00 L461.50,113.00 L462.00,113.00 L462.50,113.00 L463.00,113.00 L463.50,113.00 L464.00,113.00 L464.50,113.00 L465.00,113.00 L465.50,113.00 L466.00,113.00 L466.50,113.00 L467.00,113.00 L467.50,113.00 L468.00,113.00 L468.50,113.00" fill="none" stroke="#0000f0" stroke-width="1.4" stroke-linejoin="round"/>
<line x1="387.70" y1="26.80" x2="387.70" y2="114.90" stroke="#555" stroke-width="1.2"/>
<line x1="390.20" y1="114.20" x2="468.60" y2="114.20" stroke="#111" stroke-width="1.8"/>
<line x1="385.90" y1="114.10" x2="387.70" y2="114.10" stroke="#111" stroke-width="1.2"/>
<text x="384.20" y="117.20" font-size="8.1" text-anchor="end" fill="#333" textLength="4.56" lengthAdjust="spacingAndGlyphs">0</text>
<line x1="385.90" y1="99.75" x2="387.70" y2="99.75" stroke="#111" stroke-width="1.2"/>
<text x="384.20" y="102.85" font-size="8.1" text-anchor="end" fill="#333" textLength="9.12" lengthAdjust="spacingAndGlyphs">20</text>
<line x1="385.90" y1="85.40" x2="387.70" y2="85.40" stroke="#111" stroke-width="1.2"/>
<text x="384.20" y="88.50" font-size="8.1" text-anchor="end" fill="#333" textLength="9.12" lengthAdjust="spacingAndGlyphs">40</text>
<line x1="385.90" y1="71.05" x2="387.70" y2="71.05" stroke="#111" stroke-width="1.2"/>
<text x="384.20" y="74.15" font-size="8.1" text-anchor="end" fill="#333" textLength="9.12" lengthAdjust="spacingAndGlyphs">60</text>
<line x1="385.90" y1="56.70" x2="387.70" y2="56.70" stroke="#111" stroke-width="1.2"/>
<text x="384.20" y="59.80" font-size="8.1" text-anchor="end" fill="#333" textLength="9.12" lengthAdjust="spacingAndGlyphs">80</text>
<line x1="385.90" y1="42.35" x2="387.70" y2="42.35" stroke="#111" stroke-width="1.2"/>
<text x="384.20" y="45.45" font-size="8.1" text-anchor="end" fill="#333" textLength="13.68" lengthAdjust="spacingAndGlyphs">100</text>
<line x1="385.90" y1="28.00" x2="387.70" y2="28.00" stroke="#111" stroke-width="1.2"/>
<text x="384.20" y="31.10" font-size="8.1" text-anchor="end" fill="#333" textLength="13.68" lengthAdjust="spacingAndGlyphs">120</text>
<line x1="398.50" y1="114.10" x2="398.50" y2="116.70" stroke="#222" stroke-width="1.1"/>
<line x1="414.00" y1="114.10" x2="414.00" y2="116.70" stroke="#222" stroke-width="1.1"/>
<line x1="429.40" y1="114.10" x2="429.40" y2="116.70" stroke="#222" stroke-width="1.1"/>
<line x1="444.70" y1="114.10" x2="444.70" y2="116.70" stroke="#222" stroke-width="1.1"/>
<line x1="460.00" y1="114.10" x2="460.00" y2="116.70" stroke="#222" stroke-width="1.1"/>
<text x="398.50" y="124.30" font-size="8.0" text-anchor="middle" fill="#333" textLength="15.90" lengthAdjust="spacingAndGlyphs">37.0</text>
<text x="429.20" y="124.30" font-size="8.0" text-anchor="middle" fill="#333" textLength="15.90" lengthAdjust="spacingAndGlyphs">37.5</text>
<text x="460.40" y="124.30" font-size="8.0" text-anchor="middle" fill="#333" textLength="15.90" lengthAdjust="spacingAndGlyphs">38.0</text>
<text x="430.60" y="138.10" font-size="10.9" text-anchor="middle" fill="#1c1c1c" textLength="74.80" lengthAdjust="spacingAndGlyphs">Retention (min)</text>
<rect x="461.7" y="40.9" width="209.9" height="57.9" fill="none" stroke="#2a2a2a" stroke-width="1.2"/>
<line x1="469.40" y1="49.90" x2="485.90" y2="49.90" stroke="#0000f0" stroke-width="1.6"/>
<line x1="573.20" y1="49.90" x2="589.80" y2="49.90" stroke="#148a14" stroke-width="1.6"/>
<text x="493.90" y="52.65" font-size="7.6" fill="#222" textLength="55.20" lengthAdjust="spacingAndGlyphs">y6 - 713.4668+</text>
<text x="597.90" y="52.65" font-size="7.6" fill="#222" textLength="54.59" lengthAdjust="spacingAndGlyphs">y1 - 175.1190+</text>
<line x1="469.40" y1="59.90" x2="485.90" y2="59.90" stroke="#9933ff" stroke-width="1.6"/>
<line x1="573.20" y1="59.90" x2="589.80" y2="59.90" stroke="#ffa500" stroke-width="1.6"/>
<text x="493.90" y="62.65" font-size="7.6" fill="#222" textLength="55.20" lengthAdjust="spacingAndGlyphs">y5 - 600.3828+</text>
<text x="597.90" y="62.65" font-size="7.6" fill="#222" textLength="55.05" lengthAdjust="spacingAndGlyphs">b2 - 229.1183+</text>
<line x1="469.40" y1="69.90" x2="485.90" y2="69.90" stroke="#a83232" stroke-width="1.6"/>
<line x1="573.20" y1="69.90" x2="589.80" y2="69.90" stroke="#7b7bc8" stroke-width="1.6"/>
<text x="493.90" y="72.65" font-size="7.6" fill="#222" textLength="55.20" lengthAdjust="spacingAndGlyphs">y4 - 487.2987+</text>
<text x="597.90" y="72.65" font-size="7.6" fill="#222" textLength="55.67" lengthAdjust="spacingAndGlyphs">b7 - 767.4662+</text>
<line x1="469.40" y1="79.90" x2="485.90" y2="79.90" stroke="#e07828" stroke-width="1.6"/>
<line x1="573.20" y1="79.90" x2="589.80" y2="79.90" stroke="#33cc33" stroke-width="1.6"/>
<text x="493.90" y="82.65" font-size="7.6" fill="#222" textLength="55.20" lengthAdjust="spacingAndGlyphs">y3 - 359.2401+</text>
<text x="597.90" y="82.65" font-size="7.6" fill="#222" textLength="67.05" lengthAdjust="spacingAndGlyphs">a2-18 - 183.1128+</text>
<line x1="469.40" y1="89.90" x2="485.90" y2="89.90" stroke="#1a9a90" stroke-width="1.6"/>
<line x1="573.20" y1="89.90" x2="589.80" y2="89.90" stroke="#800080" stroke-width="1.6"/>
<text x="493.90" y="92.65" font-size="7.6" fill="#222" textLength="67.20" lengthAdjust="spacingAndGlyphs">y3-17 - 342.2136+</text>
<text x="597.90" y="92.65" font-size="7.6" fill="#222" textLength="55.67" lengthAdjust="spacingAndGlyphs">a2 - 201.1234+</text>
<text x="349.30" y="159.60" font-size="21" font-style="italic" fill="#111">ii</text>
<text x="390.50" y="159.50" font-size="13.2" fill="#1c1c1c" textLength="71.00" lengthAdjust="spacingAndGlyphs">SIS peptide</text>
<path d="M389.00,245.10 L389.50,245.10 L390.00,245.10 L390.50,245.10 L391.00,245.10 L391.50,245.10 L392.00,245.10 L392.50,245.10 L393.00,245.10 L393.50,245.10 L394.00,245.10 L394.50,245.10 L395.00,245.10 L395.50,245.10 L396.00,245.10 L396.50,245.10 L397.00,245.10 L397.50,245.10 L398.00,245.10 L398.50,245.10 L399.00,245.10 L399.50,245.10 L400.00,245.10 L400.50,245.10 L401.00,245.10 L401.50,245.10 L402.00,245.10 L402.50,245.10 L403.00,245.10 L403.50,245.10 L404.00,245.09 L404.50,245.09 L405.00,245.09 L405.50,245.09 L406.00,245.09 L406.50,245.08 L407.00,245.08 L407.50,245.07 L408.00,245.07 L408.50,245.06 L409.00,245.05 L409.50,245.04 L410.00,245.03 L410.50,245.02 L411.00,245.00 L411.50,244.98 L412.00,244.96 L412.50,244.94 L413.00,244.92 L413.50,244.89 L414.00,244.86 L414.50,244.83 L415.00,244.79 L415.50,244.75 L416.00,244.71 L416.50,244.67 L417.00,244.62 L417.50,244.57 L418.00,244.52 L418.50,244.47 L419.00,244.41 L419.50,244.36 L420.00,244.30 L420.50,244.24 L421.00,244.19 L421.50,244.14 L422.00,244.09 L422.50,244.04 L423.00,243.99 L423.50,243.95 L424.00,243.92 L424.50,243.88 L425.00,243.86 L425.50,243.84 L426.00,243.83 L426.50,243.82 L427.00,243.82 L427.50,243.82 L428.00,243.84 L428.50,243.85 L429.00,243.88 L429.50,243.91 L430.00,243.94 L430.50,243.98 L431.00,244.03 L431.50,244.08 L432.00,244.13 L432.50,244.18 L433.00,244.23 L433.50,244.29 L434.00,244.34 L434.50,244.40 L435.00,244.45 L435.50,244.51 L436.00,244.56 L436.50,244.61 L437.00,244.66 L437.50,244.70 L438.00,244.74 L438.50,244.78 L439.00,244.82 L439.50,244.85 L440.00,244.88 L440.50,244.91 L441.00,244.94 L441.50,244.96 L442.00,244.98 L442.50,245.00 L443.00,245.01 L443.50,245.03 L444.00,245.04 L444.50,245.05 L445.00,245.06 L445.50,245.06 L446.00,245.07 L446.50,245.08 L447.00,245.08 L447.50,245.08 L448.00,245.09 L448.50,245.09 L449.00,245.09 L449.50,245.09 L450.00,245.10 L450.50,245.10 L451.00,245.10 L451.50,245.10 L452.00,245.10 L452.50,245.10 L453.00,245.10 L453.50,245.10 L454.00,245.10 L454.50,245.10 L455.00,245.10 L455.50,245.10 L456.00,245.10 L456.50,245.10 L457.00,245.10 L457.50,245.10 L458.00,245.10 L458.50,245.10 L459.00,245.10 L459.50,245.10 L460.00,245.10 L460.50,245.10 L461.00,245.10 L461.50,245.10 L462.00,245.10 L462.50,245.10 L463.00,245.10 L463.50,245.10 L464.00,245.10 L464.50,245.10 L465.00,245.10 L465.50,245.10 L466.00,245.10 L466.50,245.10 L467.00,245.10 L467.50,245.10 L468.00,245.10 L468.50,245.10" fill="none" stroke="#7b7bc8" stroke-width="1.4" stroke-linejoin="round"/>
<path d="M389.00,245.10 L389.50,245.10 L390.00,245.10 L390.50,245.10 L391.00,245.10 L391.50,245.10 L392.00,245.10 L392.50,245.10 L393.00,245.10 L393.50,245.10 L394.00,245.10 L394.50,245.10 L395.00,245.10 L395.50,245.10 L396.00,245.10 L396.50,245.10 L397.00,245.10 L397.50,245.10 L398.00,245.10 L398.50,245.10 L399.00,245.10 L399.50,245.10 L400.00,245.10 L400.50,245.10 L401.00,245.10 L401.50,245.10 L402.00,245.10 L402.50,245.10 L403.00,245.10 L403.50,245.09 L404.00,245.09 L404.50,245.09 L405.00,245.09 L405.50,245.08 L406.00,245.08 L406.50,245.07 L407.00,245.07 L407.50,245.06 L408.00,245.05 L408.50,245.04 L409.00,245.03 L409.50,245.02 L410.00,245.00 L410.50,244.98 L411.00,244.96 L411.50,244.94 L412.00,244.91 L412.50,244.88 L413.00,244.84 L413.50,244.81 L414.00,244.76 L414.50,244.72 L415.00,244.67 L415.50,244.61 L416.00,244.55 L416.50,244.49 L417.00,244.43 L417.50,244.36 L418.00,244.29 L418.50,244.21 L419.00,244.13 L419.50,244.06 L420.00,243.98 L420.50,243.90 L421.00,243.83 L421.50,243.75 L422.00,243.68 L422.50,243.61 L423.00,243.55 L423.50,243.49 L424.00,243.44 L424.50,243.40 L425.00,243.36 L425.50,243.33 L426.00,243.31 L426.50,243.30 L427.00,243.30 L427.50,243.31 L428.00,243.33 L428.50,243.36 L429.00,243.39 L429.50,243.43 L430.00,243.48 L430.50,243.54 L431.00,243.60 L431.50,243.67 L432.00,243.74 L432.50,243.81 L433.00,243.89 L433.50,243.96 L434.00,244.04 L434.50,244.12 L435.00,244.20 L435.50,244.27 L436.00,244.34 L436.50,244.41 L437.00,244.48 L437.50,244.54 L438.00,244.60 L438.50,244.66 L439.00,244.71 L439.50,244.75 L440.00,244.80 L440.50,244.84 L441.00,244.87 L441.50,244.90 L442.00,244.93 L442.50,244.96 L443.00,244.98 L443.50,245.00 L444.00,245.01 L444.50,245.03 L445.00,245.04 L445.50,245.05 L446.00,245.06 L446.50,245.07 L447.00,245.07 L447.50,245.08 L448.00,245.08 L448.50,245.09 L449.00,245.09 L449.50,245.09 L450.00,245.09 L450.50,245.09 L451.00,245.10 L451.50,245.10 L452.00,245.10 L452.50,245.10 L453.00,245.10 L453.50,245.10 L454.00,245.10 L454.50,245.10 L455.00,245.10 L455.50,245.10 L456.00,245.10 L456.50,245.10 L457.00,245.10 L457.50,245.10 L458.00,245.10 L458.50,245.10 L459.00,245.10 L459.50,245.10 L460.00,245.10 L460.50,245.10 L461.00,245.10 L461.50,245.10 L462.00,245.10 L462.50,245.10 L463.00,245.10 L463.50,245.10 L464.00,245.10 L464.50,245.10 L465.00,245.10 L465.50,245.10 L466.00,245.10 L466.50,245.10 L467.00,245.10 L467.50,245.10 L468.00,245.10 L468.50,245.10" fill="none" stroke="#33cc33" stroke-width="1.4" stroke-linejoin="round"/>
<path d="M389.00,245.10 L389.50,245.10 L390.00,245.10 L390.50,245.10 L391.00,245.10 L391.50,245.10 L392.00,245.10 L392.50,245.10 L393.00,245.10 L393.50,245.10 L394.00,245.10 L394.50,245.10 L395.00,245.10 L395.50,245.10 L396.00,245.10 L396.50,245.10 L397.00,245.10 L397.50,245.10 L398.00,245.10 L398.50,245.10 L399.00,245.10 L399.50,245.10 L400.00,245.10 L400.50,245.10 L401.00,245.10 L401.50,245.10 L402.00,245.09 L402.50,245.09 L403.00,245.09 L403.50,245.09 L404.00,245.08 L404.50,245.08 L405.00,245.07 L405.50,245.07 L406.00,245.06 L406.50,245.05 L407.00,245.04 L407.50,245.02 L408.00,245.01 L408.50,244.99 L409.00,244.96 L409.50,244.94 L410.00,244.90 L410.50,244.87 L411.00,244.83 L411.50,244.78 L412.00,244.73 L412.50,244.67 L413.00,244.60 L413.50,244.52 L414.00,244.44 L414.50,244.35 L415.00,244.25 L415.50,244.15 L416.00,244.03 L416.50,243.91 L417.00,243.78 L417.50,243.65 L418.00,243.51 L418.50,243.36 L419.00,243.21 L419.50,243.06 L420.00,242.91 L420.50,242.76 L421.00,242.61 L421.50,242.47 L422.00,242.33 L422.50,242.19 L423.00,242.07 L423.50,241.96 L424.00,241.86 L424.50,241.78 L425.00,241.71 L425.50,241.65 L426.00,241.61 L426.50,241.59 L427.00,241.59 L427.50,241.61 L428.00,241.64 L428.50,241.69 L429.00,241.76 L429.50,241.84 L430.00,241.94 L430.50,242.05 L431.00,242.17 L431.50,242.30 L432.00,242.44 L432.50,242.58 L433.00,242.73 L433.50,242.88 L434.00,243.03 L434.50,243.18 L435.00,243.33 L435.50,243.48 L436.00,243.62 L436.50,243.76 L437.00,243.89 L437.50,244.01 L438.00,244.13 L438.50,244.23 L439.00,244.33 L439.50,244.42 L440.00,244.51 L440.50,244.58 L441.00,244.65 L441.50,244.71 L442.00,244.77 L442.50,244.82 L443.00,244.86 L443.50,244.90 L444.00,244.93 L444.50,244.96 L445.00,244.98 L445.50,245.00 L446.00,245.02 L446.50,245.03 L447.00,245.05 L447.50,245.06 L448.00,245.07 L448.50,245.07 L449.00,245.08 L449.50,245.08 L450.00,245.09 L450.50,245.09 L451.00,245.09 L451.50,245.09 L452.00,245.10 L452.50,245.10 L453.00,245.10 L453.50,245.10 L454.00,245.10 L454.50,245.10 L455.00,245.10 L455.50,245.10 L456.00,245.10 L456.50,245.10 L457.00,245.10 L457.50,245.10 L458.00,245.10 L458.50,245.10 L459.00,245.10 L459.50,245.10 L460.00,245.10 L460.50,245.10 L461.00,245.10 L461.50,245.10 L462.00,245.10 L462.50,245.10 L463.00,245.10 L463.50,245.10 L464.00,245.10 L464.50,245.10 L465.00,245.10 L465.50,245.10 L466.00,245.10 L466.50,245.10 L467.00,245.10 L467.50,245.10 L468.00,245.10 L468.50,245.10" fill="none" stroke="#33cc33" stroke-width="1.4" stroke-linejoin="round"/>
<path d="M389.00,245.10 L389.50,245.10 L390.00,245.10 L390.50,245.10 L391.00,245.10 L391.50,245.10 L392.00,245.10 L392.50,245.10 L393.00,245.10 L393.50,245.10 L394.00,245.10 L394.50,245.10 L395.00,245.10 L395.50,245.10 L396.00,245.10 L396.50,245.10 L397.00,245.10 L397.50,245.10 L398.00,245.10 L398.50,245.10 L399.00,245.10 L399.50,245.10 L400.00,245.10 L400.50,245.10 L401.00,245.09 L401.50,245.09 L402.00,245.09 L402.50,245.09 L403.00,245.08 L403.50,245.08 L404.00,245.07 L404.50,245.07 L405.00,245.06 L405.50,245.05 L406.00,245.03 L406.50,245.02 L407.00,245.00 L407.50,244.97 L408.00,244.95 L408.50,244.91 L409.00,244.88 L409.50,244.83 L410.00,244.78 L410.50,244.72 L411.00,244.66 L411.50,244.58 L412.00,244.49 L412.50,244.39 L413.00,244.29 L413.50,244.16 L414.00,244.03 L414.50,243.89 L415.00,243.73 L415.50,243.55 L416.00,243.37 L416.50,243.17 L417.00,242.96 L417.50,242.75 L418.00,242.52 L418.50,242.28 L419.00,242.04 L419.50,241.80 L420.00,241.55 L420.50,241.30 L421.00,241.06 L421.50,240.83 L422.00,240.60 L422.50,240.39 L423.00,240.19 L423.50,240.01 L424.00,239.85 L424.50,239.71 L425.00,239.59 L425.50,239.51 L426.00,239.45 L426.50,239.41 L427.00,239.41 L427.50,239.44 L428.00,239.49 L428.50,239.57 L429.00,239.68 L429.50,239.82 L430.00,239.97 L430.50,240.15 L431.00,240.35 L431.50,240.56 L432.00,240.78 L432.50,241.01 L433.00,241.26 L433.50,241.50 L434.00,241.75 L434.50,241.99 L435.00,242.23 L435.50,242.47 L436.00,242.70 L436.50,242.92 L437.00,243.13 L437.50,243.33 L438.00,243.52 L438.50,243.69 L439.00,243.85 L439.50,244.00 L440.00,244.14 L440.50,244.26 L441.00,244.37 L441.50,244.47 L442.00,244.56 L442.50,244.64 L443.00,244.71 L443.50,244.77 L444.00,244.82 L444.50,244.87 L445.00,244.91 L445.50,244.94 L446.00,244.97 L446.50,244.99 L447.00,245.01 L447.50,245.03 L448.00,245.04 L448.50,245.05 L449.00,245.06 L449.50,245.07 L450.00,245.08 L450.50,245.08 L451.00,245.09 L451.50,245.09 L452.00,245.09 L452.50,245.09 L453.00,245.10 L453.50,245.10 L454.00,245.10 L454.50,245.10 L455.00,245.10 L455.50,245.10 L456.00,245.10 L456.50,245.10 L457.00,245.10 L457.50,245.10 L458.00,245.10 L458.50,245.10 L459.00,245.10 L459.50,245.10 L460.00,245.10 L460.50,245.10 L461.00,245.10 L461.50,245.10 L462.00,245.10 L462.50,245.10 L463.00,245.10 L463.50,245.10 L464.00,245.10 L464.50,245.10 L465.00,245.10 L465.50,245.10 L466.00,245.10 L466.50,245.10 L467.00,245.10 L467.50,245.10 L468.00,245.10 L468.50,245.10" fill="none" stroke="#148a14" stroke-width="1.4" stroke-linejoin="round"/>
<path d="M389.00,245.10 L389.50,245.10 L390.00,245.10 L390.50,245.10 L391.00,245.10 L391.50,245.10 L392.00,245.10 L392.50,245.10 L393.00,245.10 L393.50,245.10 L394.00,245.10 L394.50,245.10 L395.00,245.10 L395.50,245.10 L396.00,245.10 L396.50,245.10 L397.00,245.10 L397.50,245.10 L398.00,245.10 L398.50,245.10 L399.00,245.10 L399.50,245.10 L400.00,245.10 L400.50,245.10 L401.00,245.10 L401.50,245.10 L402.00,245.10 L402.50,245.10 L403.00,245.09 L403.50,245.09 L404.00,245.09 L404.50,245.09 L405.00,245.08 L405.50,245.08 L406.00,245.07 L406.50,245.07 L407.00,245.06 L407.50,245.05 L408.00,245.04 L408.50,245.03 L409.00,245.02 L409.50,245.00 L410.00,244.98 L410.50,244.96 L411.00,244.93 L411.50,244.90 L412.00,244.87 L412.50,244.84 L413.00,244.79 L413.50,244.75 L414.00,244.70 L414.50,244.64 L415.00,244.58 L415.50,244.52 L416.00,244.45 L416.50,244.38 L417.00,244.30 L417.50,244.22 L418.00,244.13 L418.50,244.04 L419.00,243.95 L419.50,243.86 L420.00,243.77 L420.50,243.67 L421.00,243.58 L421.50,243.49 L422.00,243.41 L422.50,243.33 L423.00,243.25 L423.50,243.19 L424.00,243.13 L424.50,243.07 L425.00,243.03 L425.50,243.00 L426.00,242.97 L426.50,242.96 L427.00,242.96 L427.50,242.97 L428.00,242.99 L428.50,243.02 L429.00,243.06 L429.50,243.11 L430.00,243.17 L430.50,243.24 L431.00,243.31 L431.50,243.39 L432.00,243.48 L432.50,243.56 L433.00,243.66 L433.50,243.75 L434.00,243.84 L434.50,243.93 L435.00,244.02 L435.50,244.11 L436.00,244.20 L436.50,244.28 L437.00,244.36 L437.50,244.44 L438.00,244.51 L438.50,244.57 L439.00,244.63 L439.50,244.69 L440.00,244.74 L440.50,244.79 L441.00,244.83 L441.50,244.86 L442.00,244.90 L442.50,244.93 L443.00,244.95 L443.50,244.98 L444.00,245.00 L444.50,245.01 L445.00,245.03 L445.50,245.04 L446.00,245.05 L446.50,245.06 L447.00,245.07 L447.50,245.07 L448.00,245.08 L448.50,245.08 L449.00,245.09 L449.50,245.09 L450.00,245.09 L450.50,245.09 L451.00,245.10 L451.50,245.10 L452.00,245.10 L452.50,245.10 L453.00,245.10 L453.50,245.10 L454.00,245.10 L454.50,245.10 L455.00,245.10 L455.50,245.10 L456.00,245.10 L456.50,245.10 L457.00,245.10 L457.50,245.10 L458.00,245.10 L458.50,245.10 L459.00,245.10 L459.50,245.10 L460.00,245.10 L460.50,245.10 L461.00,245.10 L461.50,245.10 L462.00,245.10 L462.50,245.10 L463.00,245.10 L463.50,245.10 L464.00,245.10 L464.50,245.10 L465.00,245.10 L465.50,245.10 L466.00,245.10 L466.50,245.10 L467.00,245.10 L467.50,245.10 L468.00,245.10 L468.50,245.10" fill="none" stroke="#1a9a90" stroke-width="1.4" stroke-linejoin="round"/>
<path d="M389.00,245.10 L389.50,245.10 L390.00,245.10 L390.50,245.10 L391.00,245.10 L391.50,245.10 L392.00,245.10 L392.50,245.10 L393.00,245.10 L393.50,245.10 L394.00,245.10 L394.50,245.10 L395.00,245.10 L395.50,245.10 L396.00,245.10 L396.50,245.10 L397.00,245.10 L397.50,245.10 L398.00,245.10 L398.50,245.10 L399.00,245.10 L399.50,245.09 L400.00,245.09 L400.50,245.09 L401.00,245.09 L401.50,245.08 L402.00,245.07 L402.50,245.07 L403.00,245.06 L403.50,245.05 L404.00,245.03 L404.50,245.01 L405.00,244.99 L405.50,244.96 L406.00,244.93 L406.50,244.89 L407.00,244.84 L407.50,244.79 L408.00,244.72 L408.50,244.64 L409.00,244.55 L409.50,244.44 L410.00,244.32 L410.50,244.17 L411.00,244.01 L411.50,243.82 L412.00,243.60 L412.50,243.36 L413.00,243.10 L413.50,242.80 L414.00,242.47 L414.50,242.11 L415.00,241.72 L415.50,241.30 L416.00,240.84 L416.50,240.36 L417.00,239.85 L417.50,239.31 L418.00,238.75 L418.50,238.17 L419.00,237.58 L419.50,236.98 L420.00,236.37 L420.50,235.77 L421.00,235.17 L421.50,234.59 L422.00,234.04 L422.50,233.51 L423.00,233.02 L423.50,232.58 L424.00,232.18 L424.50,231.84 L425.00,231.56 L425.50,231.34 L426.00,231.20 L426.50,231.12 L427.00,231.11 L427.50,231.18 L428.00,231.31 L428.50,231.51 L429.00,231.78 L429.50,232.11 L430.00,232.49 L430.50,232.93 L431.00,233.41 L431.50,233.93 L432.00,234.48 L432.50,235.05 L433.00,235.65 L433.50,236.25 L434.00,236.85 L434.50,237.46 L435.00,238.05 L435.50,238.64 L436.00,239.20 L436.50,239.74 L437.00,240.26 L437.50,240.75 L438.00,241.21 L438.50,241.64 L439.00,242.04 L439.50,242.40 L440.00,242.74 L440.50,243.04 L441.00,243.31 L441.50,243.56 L442.00,243.78 L442.50,243.97 L443.00,244.14 L443.50,244.29 L444.00,244.42 L444.50,244.53 L445.00,244.62 L445.50,244.71 L446.00,244.78 L446.50,244.83 L447.00,244.88 L447.50,244.92 L448.00,244.96 L448.50,244.99 L449.00,245.01 L449.50,245.03 L450.00,245.04 L450.50,245.06 L451.00,245.07 L451.50,245.07 L452.00,245.08 L452.50,245.08 L453.00,245.09 L453.50,245.09 L454.00,245.09 L454.50,245.10 L455.00,245.10 L455.50,245.10 L456.00,245.10 L456.50,245.10 L457.00,245.10 L457.50,245.10 L458.00,245.10 L458.50,245.10 L459.00,245.10 L459.50,245.10 L460.00,245.10 L460.50,245.10 L461.00,245.10 L461.50,245.10 L462.00,245.10 L462.50,245.10 L463.00,245.10 L463.50,245.10 L464.00,245.10 L464.50,245.10 L465.00,245.10 L465.50,245.10 L466.00,245.10 L466.50,245.10 L467.00,245.10 L467.50,245.10 L468.00,245.10 L468.50,245.10" fill="none" stroke="#e07828" stroke-width="1.4" stroke-linejoin="round"/>
<path d="M389.00,245.10 L389.50,245.10 L390.00,245.10 L390.50,245.10 L391.00,245.10 L391.50,245.10 L392.00,245.10 L392.50,245.10 L393.00,245.10 L393.50,245.10 L394.00,245.10 L394.50,245.10 L395.00,245.10 L395.50,245.10 L396.00,245.10 L396.50,245.10 L397.00,245.09 L397.50,245.09 L398.00,245.09 L398.50,245.09 L399.00,245.08 L399.50,245.07 L400.00,245.07 L400.50,245.06 L401.00,245.04 L401.50,245.03 L402.00,245.00 L402.50,244.98 L403.00,244.94 L403.50,244.90 L404.00,244.84 L404.50,244.78 L405.00,244.69 L405.50,244.59 L406.00,244.47 L406.50,244.32 L407.00,244.15 L407.50,243.94 L408.00,243.69 L408.50,243.39 L409.00,243.05 L409.50,242.65 L410.00,242.18 L410.50,241.64 L411.00,241.03 L411.50,240.33 L412.00,239.54 L412.50,238.65 L413.00,237.65 L413.50,236.55 L414.00,235.33 L414.50,233.99 L415.00,232.54 L415.50,230.97 L416.00,229.28 L416.50,227.49 L417.00,225.58 L417.50,223.59 L418.00,221.50 L418.50,219.35 L419.00,217.15 L419.50,214.91 L420.00,212.66 L420.50,210.42 L421.00,208.21 L421.50,206.06 L422.00,203.99 L422.50,202.04 L423.00,200.22 L423.50,198.57 L424.00,197.10 L424.50,195.83 L425.00,194.79 L425.50,193.99 L426.00,193.44 L426.50,193.15 L427.00,193.12 L427.50,193.36 L428.00,193.86 L428.50,194.61 L429.00,195.60 L429.50,196.83 L430.00,198.26 L430.50,199.88 L431.00,201.67 L431.50,203.59 L432.00,205.64 L432.50,207.77 L433.00,209.97 L433.50,212.21 L434.00,214.46 L434.50,216.70 L435.00,218.92 L435.50,221.08 L436.00,223.18 L436.50,225.19 L437.00,227.11 L437.50,228.93 L438.00,230.64 L438.50,232.24 L439.00,233.71 L439.50,235.07 L440.00,236.31 L440.50,237.44 L441.00,238.46 L441.50,239.37 L442.00,240.18 L442.50,240.90 L443.00,241.53 L443.50,242.08 L444.00,242.56 L444.50,242.97 L445.00,243.33 L445.50,243.63 L446.00,243.89 L446.50,244.11 L447.00,244.29 L447.50,244.44 L448.00,244.57 L448.50,244.67 L449.00,244.76 L449.50,244.83 L450.00,244.89 L450.50,244.93 L451.00,244.97 L451.50,245.00 L452.00,245.02 L452.50,245.04 L453.00,245.05 L453.50,245.06 L454.00,245.07 L454.50,245.08 L455.00,245.09 L455.50,245.09 L456.00,245.09 L456.50,245.09 L457.00,245.10 L457.50,245.10 L458.00,245.10 L458.50,245.10 L459.00,245.10 L459.50,245.10 L460.00,245.10 L460.50,245.10 L461.00,245.10 L461.50,245.10 L462.00,245.10 L462.50,245.10 L463.00,245.10 L463.50,245.10 L464.00,245.10 L464.50,245.10 L465.00,245.10 L465.50,245.10 L466.00,245.10 L466.50,245.10 L467.00,245.10 L467.50,245.10 L468.00,245.10 L468.50,245.10" fill="none" stroke="#a83232" stroke-width="1.4" stroke-linejoin="round"/>
<path d="M389.00,245.10 L389.50,245.10 L390.00,245.10 L390.50,245.10 L391.00,245.10 L391.50,245.10 L392.00,245.10 L392.50,245.10 L393.00,245.10 L393.50,245.10 L394.00,245.10 L394.50,245.10 L395.00,245.10 L395.50,245.10 L396.00,245.10 L396.50,245.10 L397.00,245.09 L397.50,245.09 L398.00,245.09 L398.50,245.08 L399.00,245.08 L399.50,245.07 L400.00,245.06 L400.50,245.05 L401.00,245.04 L401.50,245.02 L402.00,244.99 L402.50,244.96 L403.00,244.92 L403.50,244.87 L404.00,244.81 L404.50,244.74 L405.00,244.64 L405.50,244.53 L406.00,244.40 L406.50,244.23 L407.00,244.03 L407.50,243.80 L408.00,243.52 L408.50,243.19 L409.00,242.80 L409.50,242.35 L410.00,241.83 L410.50,241.23 L411.00,240.54 L411.50,239.75 L412.00,238.86 L412.50,237.87 L413.00,236.75 L413.50,235.51 L414.00,234.15 L414.50,232.65 L415.00,231.02 L415.50,229.26 L416.00,227.37 L416.50,225.35 L417.00,223.22 L417.50,220.98 L418.00,218.65 L418.50,216.24 L419.00,213.77 L419.50,211.26 L420.00,208.73 L420.50,206.22 L421.00,203.74 L421.50,201.33 L422.00,199.02 L422.50,196.83 L423.00,194.79 L423.50,192.94 L424.00,191.29 L424.50,189.87 L425.00,188.70 L425.50,187.80 L426.00,187.19 L426.50,186.86 L427.00,186.83 L427.50,187.10 L428.00,187.66 L428.50,188.50 L429.00,189.62 L429.50,190.99 L430.00,192.59 L430.50,194.41 L431.00,196.41 L431.50,198.57 L432.00,200.86 L432.50,203.26 L433.00,205.72 L433.50,208.23 L434.00,210.75 L434.50,213.27 L435.00,215.75 L435.50,218.17 L436.00,220.52 L436.50,222.78 L437.00,224.94 L437.50,226.98 L438.00,228.89 L438.50,230.68 L439.00,232.34 L439.50,233.86 L440.00,235.25 L440.50,236.51 L441.00,237.65 L441.50,238.67 L442.00,239.58 L442.50,240.39 L443.00,241.10 L443.50,241.71 L444.00,242.25 L444.50,242.72 L445.00,243.12 L445.50,243.46 L446.00,243.75 L446.50,243.99 L447.00,244.19 L447.50,244.37 L448.00,244.51 L448.50,244.62 L449.00,244.72 L449.50,244.80 L450.00,244.86 L450.50,244.91 L451.00,244.95 L451.50,244.99 L452.00,245.01 L452.50,245.03 L453.00,245.05 L453.50,245.06 L454.00,245.07 L454.50,245.08 L455.00,245.08 L455.50,245.09 L456.00,245.09 L456.50,245.09 L457.00,245.10 L457.50,245.10 L458.00,245.10 L458.50,245.10 L459.00,245.10 L459.50,245.10 L460.00,245.10 L460.50,245.10 L461.00,245.10 L461.50,245.10 L462.00,245.10 L462.50,245.10 L463.00,245.10 L463.50,245.10 L464.00,245.10 L464.50,245.10 L465.00,245.10 L465.50,245.10 L466.00,245.10 L466.50,245.10 L467.00,245.10 L467.50,245.10 L468.00,245.10 L468.50,245.10" fill="none" stroke="#800080" stroke-width="1.4" stroke-linejoin="round"/>
<path d="M389.00,245.10 L389.50,245.10 L390.00,245.10 L390.50,245.10 L391.00,245.10 L391.50,245.10 L392.00,245.10 L392.50,245.10 L393.00,245.10 L393.50,245.10 L394.00,245.10 L394.50,245.10 L395.00,245.10 L395.50,245.10 L396.00,245.10 L396.50,245.10 L397.00,245.09 L397.50,245.09 L398.00,245.09 L398.50,245.08 L399.00,245.08 L399.50,245.07 L400.00,245.06 L400.50,245.05 L401.00,245.03 L401.50,245.01 L402.00,244.98 L402.50,244.95 L403.00,244.90 L403.50,244.85 L404.00,244.78 L404.50,244.70 L405.00,244.60 L405.50,244.47 L406.00,244.32 L406.50,244.14 L407.00,243.93 L407.50,243.67 L408.00,243.36 L408.50,242.99 L409.00,242.57 L409.50,242.07 L410.00,241.50 L410.50,240.83 L411.00,240.07 L411.50,239.21 L412.00,238.23 L412.50,237.13 L413.00,235.91 L413.50,234.54 L414.00,233.04 L414.50,231.39 L415.00,229.60 L415.50,227.66 L416.00,225.57 L416.50,223.35 L417.00,221.01 L417.50,218.54 L418.00,215.97 L418.50,213.31 L419.00,210.59 L419.50,207.83 L420.00,205.05 L420.50,202.28 L421.00,199.55 L421.50,196.90 L422.00,194.35 L422.50,191.94 L423.00,189.70 L423.50,187.65 L424.00,185.84 L424.50,184.27 L425.00,182.99 L425.50,182.00 L426.00,181.32 L426.50,180.96 L427.00,180.93 L427.50,181.22 L428.00,181.84 L428.50,182.77 L429.00,183.99 L429.50,185.50 L430.00,187.27 L430.50,189.27 L431.00,191.48 L431.50,193.86 L432.00,196.38 L432.50,199.02 L433.00,201.73 L433.50,204.49 L434.00,207.27 L434.50,210.04 L435.00,212.77 L435.50,215.45 L436.00,218.03 L436.50,220.52 L437.00,222.89 L437.50,225.14 L438.00,227.25 L438.50,229.22 L439.00,231.04 L439.50,232.72 L440.00,234.25 L440.50,235.64 L441.00,236.90 L441.50,238.02 L442.00,239.02 L442.50,239.91 L443.00,240.69 L443.50,241.37 L444.00,241.96 L444.50,242.48 L445.00,242.91 L445.50,243.29 L446.00,243.61 L446.50,243.88 L447.00,244.10 L447.50,244.29 L448.00,244.45 L448.50,244.58 L449.00,244.68 L449.50,244.77 L450.00,244.84 L450.50,244.89 L451.00,244.94 L451.50,244.97 L452.00,245.00 L452.50,245.02 L453.00,245.04 L453.50,245.06 L454.00,245.07 L454.50,245.08 L455.00,245.08 L455.50,245.09 L456.00,245.09 L456.50,245.09 L457.00,245.09 L457.50,245.10 L458.00,245.10 L458.50,245.10 L459.00,245.10 L459.50,245.10 L460.00,245.10 L460.50,245.10 L461.00,245.10 L461.50,245.10 L462.00,245.10 L462.50,245.10 L463.00,245.10 L463.50,245.10 L464.00,245.10 L464.50,245.10 L465.00,245.10 L465.50,245.10 L466.00,245.10 L466.50,245.10 L467.00,245.10 L467.50,245.10 L468.00,245.10 L468.50,245.10" fill="none" stroke="#ffa500" stroke-width="1.4" stroke-linejoin="round"/>
<path d="M389.00,243.44 L389.50,242.96 L390.00,243.44 L390.50,244.33 L391.00,244.89 L391.50,245.06 L392.00,245.10 L392.50,245.10 L393.00,245.10 L393.50,245.10 L394.00,245.10 L394.50,245.10 L395.00,245.10 L395.50,245.10 L396.00,245.10 L396.50,245.09 L397.00,245.09 L397.50,245.09 L398.00,245.09 L398.50,245.08 L399.00,245.07 L399.50,245.07 L400.00,245.05 L400.50,245.04 L401.00,245.02 L401.50,245.00 L402.00,244.97 L402.50,244.93 L403.00,244.88 L403.50,244.82 L404.00,244.74 L404.50,244.65 L405.00,244.54 L405.50,244.40 L406.00,244.23 L406.50,244.03 L407.00,243.79 L407.50,243.50 L408.00,243.15 L408.50,242.74 L409.00,242.27 L409.50,241.71 L410.00,241.07 L410.50,240.33 L411.00,239.48 L411.50,238.51 L412.00,237.42 L412.50,236.19 L413.00,234.81 L413.50,233.29 L414.00,231.61 L414.50,229.76 L415.00,227.76 L415.50,225.59 L416.00,223.26 L416.50,220.77 L417.00,218.15 L417.50,215.39 L418.00,212.51 L418.50,209.54 L419.00,206.50 L419.50,203.41 L420.00,200.30 L420.50,197.20 L421.00,194.15 L421.50,191.18 L422.00,188.33 L422.50,185.63 L423.00,183.12 L423.50,180.84 L424.00,178.80 L424.50,177.06 L425.00,175.62 L425.50,174.51 L426.00,173.75 L426.50,173.35 L427.00,173.31 L427.50,173.64 L428.00,174.33 L428.50,175.37 L429.00,176.74 L429.50,178.43 L430.00,180.41 L430.50,182.65 L431.00,185.11 L431.50,187.78 L432.00,190.60 L432.50,193.55 L433.00,196.58 L433.50,199.68 L434.00,202.78 L434.50,205.88 L435.00,208.94 L435.50,211.93 L436.00,214.82 L436.50,217.60 L437.00,220.26 L437.50,222.77 L438.00,225.13 L438.50,227.33 L439.00,229.37 L439.50,231.25 L440.00,232.96 L440.50,234.52 L441.00,235.92 L441.50,237.18 L442.00,238.30 L442.50,239.29 L443.00,240.17 L443.50,240.93 L444.00,241.59 L444.50,242.16 L445.00,242.66 L445.50,243.08 L446.00,243.43 L446.50,243.73 L447.00,243.98 L447.50,244.19 L448.00,244.37 L448.50,244.51 L449.00,244.63 L449.50,244.73 L450.00,244.81 L450.50,244.87 L451.00,244.92 L451.50,244.96 L452.00,244.99 L452.50,245.02 L453.00,245.04 L453.50,245.05 L454.00,245.06 L454.50,245.07 L455.00,245.08 L455.50,245.08 L456.00,245.09 L456.50,245.09 L457.00,245.09 L457.50,245.10 L458.00,245.10 L458.50,245.10 L459.00,245.10 L459.50,245.10 L460.00,245.10 L460.50,245.10 L461.00,245.10 L461.50,245.10 L462.00,245.10 L462.50,245.10 L463.00,245.10 L463.50,245.10 L464.00,245.10 L464.50,245.10 L465.00,245.10 L465.50,245.10 L466.00,245.10 L466.50,245.10 L467.00,245.10 L467.50,245.10 L468.00,245.10 L468.50,245.10" fill="none" stroke="#9933ff" stroke-width="1.4" stroke-linejoin="round"/>
<path d="M389.00,245.01 L389.50,245.01 L390.00,245.01 L390.50,245.01 L391.00,245.01 L391.50,245.01 L392.00,245.01 L392.50,245.01 L393.00,245.01 L393.50,245.01 L394.00,245.01 L394.50,245.01 L395.00,245.01 L395.50,245.00 L396.00,245.00 L396.50,245.00 L397.00,244.99 L397.50,244.98 L398.00,244.97 L398.50,244.96 L399.00,244.95 L399.50,244.93 L400.00,244.91 L400.50,244.88 L401.00,244.85 L401.50,244.81 L402.00,244.76 L402.50,244.70 L403.00,244.63 L403.50,244.54 L404.00,244.44 L404.50,244.32 L405.00,244.18 L405.50,244.01 L406.00,243.82 L406.50,243.59 L407.00,243.33 L407.50,243.02 L408.00,242.68 L408.50,242.28 L409.00,241.83 L409.50,241.32 L410.00,240.75 L410.50,240.11 L411.00,239.40 L411.50,238.61 L412.00,237.75 L412.50,236.80 L413.00,235.76 L413.50,234.64 L414.00,233.44 L414.50,232.15 L415.00,230.77 L415.50,229.31 L416.00,227.78 L416.50,226.17 L417.00,224.51 L417.50,222.79 L418.00,221.02 L418.50,219.23 L419.00,217.42 L419.50,215.61 L420.00,213.80 L420.50,212.03 L421.00,210.31 L421.50,208.64 L422.00,207.06 L422.50,205.57 L423.00,204.20 L423.50,202.96 L424.00,201.87 L424.50,200.93 L425.00,200.16 L425.50,199.57 L426.00,199.17 L426.50,198.95 L427.00,198.94 L427.50,199.11 L428.00,199.48 L428.50,200.03 L429.00,200.76 L429.50,201.67 L430.00,202.73 L430.50,203.95 L431.00,205.29 L431.50,206.75 L432.00,208.32 L432.50,209.97 L433.00,211.68 L433.50,213.45 L434.00,215.24 L434.50,217.06 L435.00,218.87 L435.50,220.67 L436.00,222.44 L436.50,224.17 L437.00,225.85 L437.50,227.46 L438.00,229.01 L438.50,230.48 L439.00,231.88 L439.50,233.19 L440.00,234.41 L440.50,235.55 L441.00,236.60 L441.50,237.56 L442.00,238.45 L442.50,239.25 L443.00,239.97 L443.50,240.63 L444.00,241.21 L444.50,241.73 L445.00,242.19 L445.50,242.60 L446.00,242.96 L446.50,243.27 L447.00,243.54 L447.50,243.77 L448.00,243.97 L448.50,244.15 L449.00,244.29 L449.50,244.42 L450.00,244.52 L450.50,244.61 L451.00,244.69 L451.50,244.75 L452.00,244.80 L452.50,244.84 L453.00,244.87 L453.50,244.90 L454.00,244.93 L454.50,244.94 L455.00,244.96 L455.50,244.97 L456.00,244.98 L456.50,244.99 L457.00,244.99 L457.50,245.00 L458.00,245.00 L458.50,245.01 L459.00,245.01 L459.50,245.01 L460.00,245.01 L460.50,245.01 L461.00,245.01 L461.50,245.01 L462.00,245.01 L462.50,245.01 L463.00,245.01 L463.50,245.01 L464.00,245.01 L464.50,245.01 L465.00,245.01 L465.50,245.02 L466.00,245.02 L466.50,245.02 L467.00,245.02 L467.50,245.02 L468.00,245.02 L468.50,245.02" fill="none" stroke="#0000f0" stroke-width="1.4" stroke-linejoin="round"/>
<line x1="387.70" y1="159.50" x2="387.70" y2="247.10" stroke="#555" stroke-width="1.2"/>
<line x1="390.20" y1="246.40" x2="468.60" y2="246.40" stroke="#111" stroke-width="1.8"/>
<line x1="385.90" y1="246.30" x2="387.70" y2="246.30" stroke="#111" stroke-width="1.2"/>
<text x="384.20" y="249.40" font-size="8.1" text-anchor="end" fill="#333" textLength="4.56" lengthAdjust="spacingAndGlyphs">0</text>
<line x1="385.90" y1="224.90" x2="387.70" y2="224.90" stroke="#111" stroke-width="1.2"/>
<text x="384.20" y="228.00" font-size="8.1" text-anchor="end" fill="#333" textLength="9.12" lengthAdjust="spacingAndGlyphs">50</text>
<line x1="385.90" y1="203.50" x2="387.70" y2="203.50" stroke="#111" stroke-width="1.2"/>
<text x="384.20" y="206.60" font-size="8.1" text-anchor="end" fill="#333" textLength="13.68" lengthAdjust="spacingAndGlyphs">100</text>
<line x1="385.90" y1="182.10" x2="387.70" y2="182.10" stroke="#111" stroke-width="1.2"/>
<text x="384.20" y="185.20" font-size="8.1" text-anchor="end" fill="#333" textLength="13.68" lengthAdjust="spacingAndGlyphs">150</text>
<line x1="385.90" y1="160.70" x2="387.70" y2="160.70" stroke="#111" stroke-width="1.2"/>
<text x="384.20" y="163.80" font-size="8.1" text-anchor="end" fill="#333" textLength="13.68" lengthAdjust="spacingAndGlyphs">200</text>
<line x1="398.50" y1="246.30" x2="398.50" y2="248.90" stroke="#222" stroke-width="1.1"/>
<line x1="414.00" y1="246.30" x2="414.00" y2="248.90" stroke="#222" stroke-width="1.1"/>
<line x1="429.40" y1="246.30" x2="429.40" y2="248.90" stroke="#222" stroke-width="1.1"/>
<line x1="444.70" y1="246.30" x2="444.70" y2="248.90" stroke="#222" stroke-width="1.1"/>
<line x1="460.00" y1="246.30" x2="460.00" y2="248.90" stroke="#222" stroke-width="1.1"/>
<text x="398.50" y="256.50" font-size="8.0" text-anchor="middle" fill="#333" textLength="15.90" lengthAdjust="spacingAndGlyphs">37.0</text>
<text x="429.20" y="256.50" font-size="8.0" text-anchor="middle" fill="#333" textLength="15.90" lengthAdjust="spacingAndGlyphs">37.5</text>
<text x="460.40" y="256.50" font-size="8.0" text-anchor="middle" fill="#333" textLength="15.90" lengthAdjust="spacingAndGlyphs">38.0</text>
<text x="430.60" y="270.30" font-size="10.9" text-anchor="middle" fill="#1c1c1c" textLength="74.80" lengthAdjust="spacingAndGlyphs">Retention (min)</text>
<rect x="461.7" y="171.0" width="209.9" height="57.8" fill="none" stroke="#2a2a2a" stroke-width="1.2"/>
<line x1="469.40" y1="180.20" x2="485.90" y2="180.20" stroke="#0000f0" stroke-width="1.6"/>
<line x1="573.20" y1="180.20" x2="589.80" y2="180.20" stroke="#148a14" stroke-width="1.6"/>
<text x="493.90" y="182.95" font-size="7.6" fill="#222" textLength="55.20" lengthAdjust="spacingAndGlyphs">y6 - 723.4751+</text>
<text x="597.90" y="182.95" font-size="7.6" fill="#222" textLength="55.20" lengthAdjust="spacingAndGlyphs">y1 - 185.1272+</text>
<line x1="469.40" y1="190.20" x2="485.90" y2="190.20" stroke="#9933ff" stroke-width="1.6"/>
<line x1="573.20" y1="190.20" x2="589.80" y2="190.20" stroke="#ffa500" stroke-width="1.6"/>
<text x="493.90" y="192.95" font-size="7.6" fill="#222" textLength="55.20" lengthAdjust="spacingAndGlyphs">y5 - 610.3910+</text>
<text x="597.90" y="192.95" font-size="7.6" fill="#222" textLength="55.05" lengthAdjust="spacingAndGlyphs">b2 - 229.1183+</text>
<line x1="469.40" y1="200.00" x2="485.90" y2="200.00" stroke="#a83232" stroke-width="1.6"/>
<line x1="573.20" y1="200.00" x2="589.80" y2="200.00" stroke="#7b7bc8" stroke-width="1.6"/>
<text x="493.90" y="202.75" font-size="7.6" fill="#222" textLength="55.20" lengthAdjust="spacingAndGlyphs">y4 - 497.3070+</text>
<text x="597.90" y="202.75" font-size="7.6" fill="#222" textLength="55.67" lengthAdjust="spacingAndGlyphs">b7 - 767.4662+</text>
<line x1="469.40" y1="209.90" x2="485.90" y2="209.90" stroke="#e07828" stroke-width="1.6"/>
<line x1="573.20" y1="209.90" x2="589.80" y2="209.90" stroke="#33cc33" stroke-width="1.6"/>
<text x="493.90" y="212.65" font-size="7.6" fill="#222" textLength="55.20" lengthAdjust="spacingAndGlyphs">y3 - 369.2484+</text>
<text x="597.90" y="212.65" font-size="7.6" fill="#222" textLength="67.05" lengthAdjust="spacingAndGlyphs">a2-18 - 183.1128+</text>
<line x1="469.40" y1="219.90" x2="485.90" y2="219.90" stroke="#1a9a90" stroke-width="1.6"/>
<line x1="573.20" y1="219.90" x2="589.80" y2="219.90" stroke="#800080" stroke-width="1.6"/>
<text x="493.90" y="222.65" font-size="7.6" fill="#222" textLength="67.20" lengthAdjust="spacingAndGlyphs">y3-17 - 352.2218+</text>
<text x="597.90" y="222.65" font-size="7.6" fill="#222" textLength="55.67" lengthAdjust="spacingAndGlyphs">a2 - 201.1234+</text>
<text transform="translate(366.80,108.30) rotate(-90)" font-size="11.0" fill="#1c1c1c" textLength="72.30" lengthAdjust="spacingAndGlyphs">Intensity (x10<tspan font-size="7" dy="-4.6">3</tspan><tspan dy="4.6">)</tspan></text>
<text transform="translate(366.80,240.40) rotate(-90)" font-size="11.0" fill="#1c1c1c" textLength="72.30" lengthAdjust="spacingAndGlyphs">Intensity (x10<tspan font-size="7" dy="-4.6">3</tspan><tspan dy="4.6">)</tspan></text>
<text x="5.30" y="299.00" font-size="17" font-weight="bold" fill="#111">c</text>
<text x="4.00" y="317.60" font-size="19.5" font-style="italic" fill="#222">i</text>
<text x="62.00" y="321.80" font-size="13.6" fill="#1c1c1c" textLength="37.90" lengthAdjust="spacingAndGlyphs">THP-1</text>
<path d="M39.30,405.08 L39.70,405.08 L40.10,405.08 L40.50,405.08 L40.90,405.08 L41.30,405.08 L41.70,405.08 L42.10,405.08 L42.50,405.08 L42.90,405.08 L43.30,405.08 L43.70,405.08 L44.10,405.08 L44.50,405.08 L44.90,405.08 L45.30,405.08 L45.70,405.08 L46.10,405.08 L46.50,405.08 L46.90,405.08 L47.30,405.08 L47.70,405.08 L48.10,405.08 L48.50,405.08 L48.90,405.08 L49.30,405.08 L49.70,405.08 L50.10,405.08 L50.50,405.08 L50.90,405.08 L51.30,405.08 L51.70,405.08 L52.10,405.08 L52.50,405.08 L52.90,405.08 L53.30,405.08 L53.70,405.08 L54.10,405.08 L54.50,405.08 L54.90,405.08 L55.30,405.08 L55.70,405.08 L56.10,405.08 L56.50,405.08 L56.90,405.08 L57.30,405.08 L57.70,405.08 L58.10,405.08 L58.50,405.08 L58.90,405.08 L59.30,405.08 L59.70,405.08 L60.10,405.08 L60.50,405.08 L60.90,405.08 L61.30,405.08 L61.70,405.08 L62.10,405.08 L62.50,405.08 L62.90,405.08 L63.30,405.08 L63.70,405.07 L64.10,405.07 L64.50,405.06 L64.90,405.04 L65.30,405.02 L65.70,404.99 L66.10,404.94 L66.50,404.87 L66.90,404.77 L67.30,404.62 L67.70,404.42 L68.10,404.16 L68.50,403.80 L68.90,403.33 L69.30,402.72 L69.70,401.96 L70.10,401.01 L70.50,399.84 L70.90,398.45 L71.30,396.82 L71.70,394.93 L72.10,392.81 L72.50,390.46 L72.90,387.93 L73.30,385.25 L73.70,382.51 L74.10,379.77 L74.50,377.12 L74.90,374.66 L75.30,372.48 L75.70,370.66 L76.10,369.29 L76.50,368.43 L76.90,368.11 L77.30,367.75 L77.70,368.01 L78.10,368.88 L78.50,370.30 L78.90,372.17 L79.30,374.39 L79.70,376.87 L80.10,379.49 L80.50,382.17 L80.90,384.81 L81.30,387.34 L81.70,389.71 L82.10,391.88 L82.50,393.82 L82.90,395.53 L83.30,396.99 L83.70,398.23 L84.10,399.26 L84.50,400.10 L84.90,400.78 L85.30,401.33 L85.70,401.76 L86.10,402.09 L86.50,402.36 L86.90,402.57 L87.30,402.73 L87.70,402.86 L88.10,402.97 L88.50,403.06 L88.90,403.13 L89.30,403.20 L89.70,403.26 L90.10,403.31 L90.50,403.35 L90.90,403.39 L91.30,403.43 L91.70,403.46 L92.10,403.48 L92.50,403.50 L92.90,403.50 L93.30,403.49 L93.70,403.47 L94.10,403.44 L94.50,403.39 L94.90,403.32 L95.30,403.24 L95.70,403.14 L96.10,403.04 L96.50,402.92 L96.90,402.80 L97.30,402.67 L97.70,402.55 L98.10,402.44 L98.50,402.35 L98.90,402.27 L99.30,402.22 L99.70,402.20 L100.10,402.22 L100.50,402.26 L100.90,402.34 L101.30,402.44 L101.70,402.57 L102.10,402.72 L102.50,402.88 L102.90,403.05 L103.30,403.23 L103.70,403.40 L104.10,403.57 L104.50,403.73 L104.90,403.87 L105.30,404.00 L105.70,404.12 L106.10,404.22 L106.50,404.31 L106.90,404.38 L107.30,404.44 L107.70,404.49 L108.10,404.53 L108.50,404.57 L108.90,404.60 L109.30,404.62 L109.70,404.64 L110.10,404.66 L110.50,404.68 L110.90,404.69 L111.30,404.70 L111.70,404.72 L112.10,404.73 L112.50,404.74 L112.90,404.75 L113.30,404.76 L113.70,404.77 L114.10,404.78 L114.50,404.79 L114.90,404.79 L115.30,404.80 L115.70,404.81 L116.10,404.82 L116.50,404.83 L116.90,404.83 L117.30,404.84 L117.70,404.85" fill="none" stroke="#e07828" stroke-width="1.05" stroke-linejoin="round"/>
<path d="M39.30,405.08 L39.70,405.08 L40.10,405.08 L40.50,405.08 L40.90,405.08 L41.30,405.08 L41.70,405.08 L42.10,405.08 L42.50,405.08 L42.90,405.08 L43.30,405.08 L43.70,405.08 L44.10,405.08 L44.50,405.08 L44.90,405.08 L45.30,405.08 L45.70,405.08 L46.10,405.08 L46.50,405.08 L46.90,405.08 L47.30,405.08 L47.70,405.08 L48.10,405.08 L48.50,405.08 L48.90,405.08 L49.30,405.08 L49.70,405.08 L50.10,405.08 L50.50,405.08 L50.90,405.08 L51.30,405.08 L51.70,405.08 L52.10,405.08 L52.50,405.08 L52.90,405.08 L53.30,405.08 L53.70,405.08 L54.10,405.08 L54.50,405.08 L54.90,405.08 L55.30,405.08 L55.70,405.08 L56.10,405.08 L56.50,405.08 L56.90,405.08 L57.30,405.08 L57.70,405.08 L58.10,405.08 L58.50,405.08 L58.90,405.08 L59.30,405.08 L59.70,405.08 L60.10,405.08 L60.50,405.08 L60.90,405.08 L61.30,405.08 L61.70,405.08 L62.10,405.08 L62.50,405.08 L62.90,405.08 L63.30,405.07 L63.70,405.07 L64.10,405.06 L64.50,405.04 L64.90,405.02 L65.30,404.99 L65.70,404.93 L66.10,404.85 L66.50,404.74 L66.90,404.58 L67.30,404.35 L67.70,404.03 L68.10,403.60 L68.50,403.03 L68.90,402.28 L69.30,401.32 L69.70,400.10 L70.10,398.58 L70.50,396.73 L70.90,394.51 L71.30,391.90 L71.70,388.90 L72.10,385.51 L72.50,381.76 L72.90,377.72 L73.30,373.45 L73.70,369.07 L74.10,364.70 L74.50,360.48 L74.90,356.55 L75.30,353.07 L75.70,350.18 L76.10,348.00 L76.50,346.62 L76.90,346.10 L77.30,345.81 L77.70,346.47 L78.10,348.06 L78.50,350.48 L78.90,353.58 L79.30,357.22 L79.70,361.24 L80.10,365.47 L80.50,369.77 L80.90,374.01 L81.30,378.07 L81.70,381.85 L82.10,385.31 L82.50,388.40 L82.90,391.10 L83.30,393.42 L83.70,395.38 L84.10,397.00 L84.50,398.32 L84.90,399.38 L85.30,400.22 L85.70,400.88 L86.10,401.39 L86.50,401.79 L86.90,402.09 L87.30,402.33 L87.70,402.51 L88.10,402.65 L88.50,402.77 L88.90,402.87 L89.30,402.95 L89.70,403.02 L90.10,403.08 L90.50,403.13 L90.90,403.18 L91.30,403.22 L91.70,403.25 L92.10,403.27 L92.50,403.28 L92.90,403.28 L93.30,403.26 L93.70,403.23 L94.10,403.18 L94.50,403.11 L94.90,403.02 L95.30,402.91 L95.70,402.78 L96.10,402.63 L96.50,402.48 L96.90,402.31 L97.30,402.15 L97.70,401.99 L98.10,401.84 L98.50,401.72 L98.90,401.62 L99.30,401.55 L99.70,401.52 L100.10,401.53 L100.50,401.59 L100.90,401.68 L101.30,401.81 L101.70,401.97 L102.10,402.16 L102.50,402.36 L102.90,402.58 L103.30,402.81 L103.70,403.03 L104.10,403.24 L104.50,403.44 L104.90,403.62 L105.30,403.79 L105.70,403.93 L106.10,404.06 L106.50,404.17 L106.90,404.26 L107.30,404.34 L107.70,404.40 L108.10,404.45 L108.50,404.50 L108.90,404.53 L109.30,404.56 L109.70,404.59 L110.10,404.61 L110.50,404.62 L110.90,404.64 L111.30,404.66 L111.70,404.67 L112.10,404.68 L112.50,404.70 L112.90,404.71 L113.30,404.72 L113.70,404.73 L114.10,404.74 L114.50,404.75 L114.90,404.76 L115.30,404.77 L115.70,404.78 L116.10,404.79 L116.50,404.79 L116.90,404.80 L117.30,404.81 L117.70,404.82" fill="none" stroke="#a83232" stroke-width="1.05" stroke-linejoin="round"/>
<path d="M39.30,405.66 L39.70,405.66 L40.10,405.66 L40.50,405.66 L40.90,405.66 L41.30,405.66 L41.70,405.66 L42.10,405.66 L42.50,405.66 L42.90,405.66 L43.30,405.66 L43.70,405.66 L44.10,405.66 L44.50,405.66 L44.90,405.66 L45.30,405.66 L45.70,405.66 L46.10,405.66 L46.50,405.66 L46.90,405.66 L47.30,405.66 L47.70,405.66 L48.10,405.66 L48.50,405.66 L48.90,405.66 L49.30,405.66 L49.70,405.66 L50.10,405.66 L50.50,405.66 L50.90,405.65 L51.30,405.65 L51.70,405.64 L52.10,405.62 L52.50,405.60 L52.90,405.57 L53.30,405.52 L53.70,405.46 L54.10,405.37 L54.50,405.26 L54.90,405.12 L55.30,404.95 L55.70,404.75 L56.10,404.53 L56.50,404.29 L56.90,404.06 L57.30,403.83 L57.70,403.64 L58.10,403.49 L58.50,403.39 L58.90,403.36 L59.30,403.39 L59.70,403.49 L60.10,403.64 L60.50,403.83 L60.90,404.05 L61.30,404.29 L61.70,404.53 L62.10,404.75 L62.50,404.95 L62.90,405.12 L63.30,405.26 L63.70,405.37 L64.10,405.45 L64.50,405.51 L64.90,405.55 L65.30,405.58 L65.70,405.58 L66.10,405.58 L66.50,405.55 L66.90,405.51 L67.30,405.45 L67.70,405.36 L68.10,405.24 L68.50,405.07 L68.90,404.85 L69.30,404.56 L69.70,404.18 L70.10,403.70 L70.50,403.10 L70.90,402.36 L71.30,401.46 L71.70,400.39 L72.10,399.14 L72.50,397.71 L72.90,396.09 L73.30,394.30 L73.70,392.36 L74.10,390.29 L74.50,388.15 L74.90,385.98 L75.30,383.84 L75.70,381.80 L76.10,379.93 L76.50,378.28 L76.90,376.93 L77.30,375.92 L77.70,375.29 L78.10,375.07 L78.50,374.98 L78.90,375.34 L79.30,376.14 L79.70,377.33 L80.10,378.85 L80.50,380.63 L80.90,382.60 L81.30,384.68 L81.70,386.82 L82.10,388.95 L82.50,391.01 L82.90,392.96 L83.30,394.76 L83.70,396.40 L84.10,397.86 L84.50,399.14 L84.90,400.24 L85.30,401.16 L85.70,401.94 L86.10,402.57 L86.50,403.09 L86.90,403.50 L87.30,403.82 L87.70,404.08 L88.10,404.28 L88.50,404.43 L88.90,404.55 L89.30,404.64 L89.70,404.72 L90.10,404.77 L90.50,404.82 L90.90,404.86 L91.30,404.90 L91.70,404.93 L92.10,404.96 L92.50,404.98 L92.90,405.01 L93.30,405.03 L93.70,405.05 L94.10,405.07 L94.50,405.09 L94.90,405.11 L95.30,405.13 L95.70,405.14 L96.10,405.16 L96.50,405.18 L96.90,405.19 L97.30,405.21 L97.70,405.22 L98.10,405.24 L98.50,405.25 L98.90,405.27 L99.30,405.28 L99.70,405.29 L100.10,405.31 L100.50,405.32 L100.90,405.33 L101.30,405.34 L101.70,405.35 L102.10,405.36 L102.50,405.37 L102.90,405.38 L103.30,405.39 L103.70,405.40 L104.10,405.41 L104.50,405.42 L104.90,405.42 L105.30,405.43 L105.70,405.44 L106.10,405.45 L106.50,405.45 L106.90,405.46 L107.30,405.47 L107.70,405.47 L108.10,405.48 L108.50,405.49 L108.90,405.49 L109.30,405.50 L109.70,405.50 L110.10,405.51 L110.50,405.51 L110.90,405.52 L111.30,405.52 L111.70,405.53 L112.10,405.53 L112.50,405.54 L112.90,405.54 L113.30,405.54 L113.70,405.55 L114.10,405.55 L114.50,405.56 L114.90,405.56 L115.30,405.56 L115.70,405.57 L116.10,405.57 L116.50,405.57 L116.90,405.57 L117.30,405.58 L117.70,405.58" fill="none" stroke="#0000f0" stroke-width="1.05" stroke-linejoin="round"/>
<path d="M39.30,405.08 L39.70,405.08 L40.10,405.08 L40.50,405.08 L40.90,405.08 L41.30,405.08 L41.70,405.08 L42.10,405.08 L42.50,405.08 L42.90,405.08 L43.30,405.08 L43.70,405.08 L44.10,405.08 L44.50,405.08 L44.90,405.08 L45.30,405.08 L45.70,405.08 L46.10,405.08 L46.50,405.08 L46.90,405.08 L47.30,405.08 L47.70,405.08 L48.10,405.08 L48.50,405.08 L48.90,405.08 L49.30,405.08 L49.70,405.08 L50.10,405.08 L50.50,405.08 L50.90,405.08 L51.30,405.08 L51.70,405.08 L52.10,405.08 L52.50,405.08 L52.90,405.08 L53.30,405.08 L53.70,405.08 L54.10,405.08 L54.50,405.08 L54.90,405.08 L55.30,405.08 L55.70,405.08 L56.10,405.08 L56.50,405.08 L56.90,405.08 L57.30,405.08 L57.70,405.08 L58.10,405.08 L58.50,405.08 L58.90,405.08 L59.30,405.08 L59.70,405.08 L60.10,405.08 L60.50,405.08 L60.90,405.08 L61.30,405.08 L61.70,405.08 L62.10,405.08 L62.50,405.08 L62.90,405.07 L63.30,405.06 L63.70,405.05 L64.10,405.03 L64.50,405.00 L64.90,404.95 L65.30,404.88 L65.70,404.78 L66.10,404.63 L66.50,404.41 L66.90,404.11 L67.30,403.69 L67.70,403.13 L68.10,402.37 L68.50,401.38 L68.90,400.10 L69.30,398.48 L69.70,396.47 L70.10,394.01 L70.50,391.07 L70.90,387.61 L71.30,383.62 L71.70,379.12 L72.10,374.14 L72.50,368.77 L72.90,363.10 L73.30,357.27 L73.70,351.45 L74.10,345.82 L74.50,340.59 L74.90,335.94 L75.30,332.07 L75.70,329.15 L76.10,327.29 L76.50,326.58 L76.90,326.47 L77.30,327.58 L77.70,329.89 L78.10,333.25 L78.50,337.49 L78.90,342.42 L79.30,347.84 L79.70,353.52 L80.10,359.29 L80.50,364.95 L80.90,370.37 L81.30,375.43 L81.70,380.03 L82.10,384.14 L82.50,387.74 L82.90,390.82 L83.30,393.41 L83.70,395.55 L84.10,397.29 L84.50,398.69 L84.90,399.79 L85.30,400.64 L85.70,401.30 L86.10,401.80 L86.50,402.18 L86.90,402.47 L87.30,402.68 L87.70,402.85 L88.10,402.98 L88.50,403.08 L88.90,403.17 L89.30,403.24 L89.70,403.31 L90.10,403.36 L90.50,403.42 L90.90,403.46 L91.30,403.51 L91.70,403.55 L92.10,403.59 L92.50,403.63 L92.90,403.66 L93.30,403.69 L93.70,403.72 L94.10,403.73 L94.50,403.74 L94.90,403.74 L95.30,403.74 L95.70,403.72 L96.10,403.69 L96.50,403.64 L96.90,403.58 L97.30,403.51 L97.70,403.43 L98.10,403.34 L98.50,403.23 L98.90,403.13 L99.30,403.02 L99.70,402.92 L100.10,402.82 L100.50,402.74 L100.90,402.68 L101.30,402.64 L101.70,402.63 L102.10,402.64 L102.50,402.68 L102.90,402.75 L103.30,402.84 L103.70,402.95 L104.10,403.08 L104.50,403.22 L104.90,403.37 L105.30,403.52 L105.70,403.67 L106.10,403.81 L106.50,403.94 L106.90,404.07 L107.30,404.18 L107.70,404.27 L108.10,404.36 L108.50,404.43 L108.90,404.49 L109.30,404.54 L109.70,404.59 L110.10,404.62 L110.50,404.65 L110.90,404.68 L111.30,404.70 L111.70,404.71 L112.10,404.73 L112.50,404.74 L112.90,404.75 L113.30,404.77 L113.70,404.78 L114.10,404.78 L114.50,404.79 L114.90,404.80 L115.30,404.81 L115.70,404.82 L116.10,404.83 L116.50,404.83 L116.90,404.84 L117.30,404.85 L117.70,404.85" fill="none" stroke="#9933ff" stroke-width="1.05" stroke-linejoin="round"/>
<line x1="36.40" y1="320.10" x2="36.40" y2="407.90" stroke="#333" stroke-width="1.1"/>
<line x1="34.60" y1="407.10" x2="36.40" y2="407.10" stroke="#111" stroke-width="1.2"/>
<text x="32.10" y="410.50" font-size="8.4" text-anchor="end" fill="#2a2a2a" textLength="4.78" lengthAdjust="spacingAndGlyphs">0</text>
<line x1="34.60" y1="378.30" x2="36.40" y2="378.30" stroke="#111" stroke-width="1.2"/>
<text x="32.10" y="381.70" font-size="8.4" text-anchor="end" fill="#2a2a2a" textLength="4.78" lengthAdjust="spacingAndGlyphs">5</text>
<line x1="34.60" y1="349.50" x2="36.40" y2="349.50" stroke="#111" stroke-width="1.2"/>
<text x="32.10" y="352.90" font-size="8.4" text-anchor="end" fill="#2a2a2a" textLength="9.56" lengthAdjust="spacingAndGlyphs">10</text>
<line x1="34.60" y1="320.70" x2="36.40" y2="320.70" stroke="#111" stroke-width="1.2"/>
<text x="32.10" y="324.10" font-size="8.4" text-anchor="end" fill="#2a2a2a" textLength="9.56" lengthAdjust="spacingAndGlyphs">15</text>
<line x1="39.30" y1="407.10" x2="117.70" y2="407.10" stroke="#111" stroke-width="1.8"/>
<line x1="39.30" y1="407.10" x2="39.30" y2="409.90" stroke="#222" stroke-width="1.1"/>
<line x1="58.90" y1="407.10" x2="58.90" y2="409.90" stroke="#222" stroke-width="1.1"/>
<line x1="78.50" y1="407.10" x2="78.50" y2="409.90" stroke="#222" stroke-width="1.1"/>
<line x1="98.10" y1="407.10" x2="98.10" y2="409.90" stroke="#222" stroke-width="1.1"/>
<line x1="117.70" y1="407.10" x2="117.70" y2="409.90" stroke="#222" stroke-width="1.1"/>
<text x="58.90" y="416.80" font-size="7.8" text-anchor="middle" fill="#333" textLength="15.90" lengthAdjust="spacingAndGlyphs">36.5</text>
<text x="98.10" y="416.80" font-size="7.8" text-anchor="middle" fill="#333" textLength="15.90" lengthAdjust="spacingAndGlyphs">37.5</text>
<text x="42.40" y="430.80" font-size="10.8" fill="#1c1c1c" textLength="75.20" lengthAdjust="spacingAndGlyphs">Retention (min)</text>
<text transform="translate(20.30,402.00) rotate(-90)" font-size="10.8" fill="#1c1c1c" textLength="72.60" lengthAdjust="spacingAndGlyphs">Intensity (x10<tspan font-size="6.8" dy="-4.4">3</tspan><tspan dy="4.4">)</tspan></text>
<line x1="87.30" y1="331.60" x2="96.10" y2="331.60" stroke="#0000f0" stroke-width="1.7"/>
<text x="104.70" y="333.10" font-size="7.6" fill="#222" textLength="54.87" lengthAdjust="spacingAndGlyphs">y6 - 713.4668+</text>
<line x1="87.30" y1="341.00" x2="96.10" y2="341.00" stroke="#9933ff" stroke-width="1.7"/>
<text x="104.70" y="342.50" font-size="7.6" fill="#222" textLength="54.87" lengthAdjust="spacingAndGlyphs">y5 - 600.3828+</text>
<line x1="87.30" y1="351.10" x2="96.10" y2="351.10" stroke="#a83232" stroke-width="1.7"/>
<text x="104.70" y="352.60" font-size="7.6" fill="#222" textLength="54.87" lengthAdjust="spacingAndGlyphs">y4 - 487.2987+</text>
<line x1="87.30" y1="361.10" x2="96.10" y2="361.10" stroke="#e07828" stroke-width="1.7"/>
<text x="104.70" y="362.60" font-size="7.6" fill="#222" textLength="55.33" lengthAdjust="spacingAndGlyphs">b3 - 342.2023+</text>
<text x="168.20" y="317.60" font-size="19.5" font-style="italic" fill="#222">ii</text>
<text x="228.80" y="322.00" font-size="13.6" fill="#1c1c1c" textLength="32.10" lengthAdjust="spacingAndGlyphs">Urine</text>
<path d="M207.60,404.70 L208.00,404.69 L208.40,404.69 L208.80,404.69 L209.20,404.68 L209.60,404.67 L210.00,404.66 L210.40,404.65 L210.80,404.63 L211.20,404.61 L211.60,404.58 L212.00,404.54 L212.40,404.49 L212.80,404.43 L213.20,404.37 L213.60,404.29 L214.00,404.20 L214.40,404.11 L214.80,404.00 L215.20,403.89 L215.60,403.78 L216.00,403.67 L216.40,403.57 L216.80,403.47 L217.20,403.39 L217.60,403.33 L218.00,403.28 L218.40,403.26 L218.80,403.26 L219.20,403.29 L219.60,403.34 L220.00,403.40 L220.40,403.48 L220.80,403.58 L221.20,403.69 L221.60,403.80 L222.00,403.91 L222.40,404.01 L222.80,404.12 L223.20,404.21 L223.60,404.30 L224.00,404.38 L224.40,404.44 L224.80,404.50 L225.20,404.54 L225.60,404.58 L226.00,404.61 L226.40,404.63 L226.80,404.65 L227.20,404.66 L227.60,404.67 L228.00,404.67 L228.40,404.67 L228.80,404.67 L229.20,404.66 L229.60,404.64 L230.00,404.62 L230.40,404.59 L230.80,404.55 L231.20,404.50 L231.60,404.43 L232.00,404.33 L232.40,404.21 L232.80,404.05 L233.20,403.85 L233.60,403.59 L234.00,403.28 L234.40,402.89 L234.80,402.41 L235.20,401.84 L235.60,401.16 L236.00,400.36 L236.40,399.42 L236.80,398.35 L237.20,397.13 L237.60,395.76 L238.00,394.24 L238.40,392.58 L238.80,390.79 L239.20,388.88 L239.60,386.87 L240.00,384.80 L240.40,382.71 L240.80,380.61 L241.20,378.57 L241.60,376.62 L242.00,374.81 L242.40,373.18 L242.80,371.78 L243.20,370.63 L243.60,369.78 L244.00,369.24 L244.40,369.03 L244.80,369.16 L245.20,369.62 L245.60,370.40 L246.00,371.48 L246.40,372.82 L246.80,374.40 L247.20,376.17 L247.60,378.09 L248.00,380.12 L248.40,382.20 L248.80,384.30 L249.20,386.38 L249.60,388.40 L250.00,390.34 L250.40,392.16 L250.80,393.86 L251.20,395.41 L251.60,396.82 L252.00,398.07 L252.40,399.18 L252.80,400.15 L253.20,400.98 L253.60,401.69 L254.00,402.28 L254.40,402.78 L254.80,403.19 L255.20,403.52 L255.60,403.79 L256.00,404.00 L256.40,404.17 L256.80,404.30 L257.20,404.40 L257.60,404.48 L258.00,404.54 L258.40,404.58 L258.80,404.62 L259.20,404.64 L259.60,404.66 L260.00,404.67 L260.40,404.68 L260.80,404.69 L261.20,404.69 L261.60,404.69 L262.00,404.69 L262.40,404.70 L262.80,404.70 L263.20,404.70 L263.60,404.70 L264.00,404.70 L264.40,404.70 L264.80,404.70 L265.20,404.70 L265.60,404.70 L266.00,404.70 L266.40,404.70 L266.80,404.70 L267.20,404.70 L267.60,404.70 L268.00,404.70 L268.40,404.70 L268.80,404.70 L269.20,404.70 L269.60,404.70 L270.00,404.70 L270.40,404.70 L270.80,404.70 L271.20,404.70 L271.60,404.70 L272.00,404.70 L272.40,404.70 L272.80,404.70 L273.20,404.70 L273.60,404.70 L274.00,404.70 L274.40,404.70 L274.80,404.70 L275.20,404.70 L275.60,404.70 L276.00,404.70 L276.40,404.70 L276.80,404.70 L277.20,404.70 L277.60,404.70 L278.00,404.70 L278.40,404.70 L278.80,404.70 L279.20,404.70 L279.60,404.70 L280.00,404.70 L280.40,404.70 L280.80,404.70 L281.20,404.70 L281.60,404.70 L282.00,404.70 L282.40,404.70 L282.80,404.70 L283.20,404.70 L283.60,404.70 L284.00,404.70 L284.40,404.70 L284.80,404.70 L285.20,404.70 L285.60,404.70 L286.00,404.70" fill="none" stroke="#e07828" stroke-width="1.05" stroke-linejoin="round"/>
<path d="M207.60,404.69 L208.00,404.69 L208.40,404.69 L208.80,404.69 L209.20,404.68 L209.60,404.67 L210.00,404.66 L210.40,404.64 L210.80,404.62 L211.20,404.59 L211.60,404.55 L212.00,404.51 L212.40,404.45 L212.80,404.38 L213.20,404.30 L213.60,404.21 L214.00,404.10 L214.40,403.99 L214.80,403.86 L215.20,403.73 L215.60,403.60 L216.00,403.47 L216.40,403.34 L216.80,403.23 L217.20,403.13 L217.60,403.05 L218.00,403.00 L218.40,402.98 L218.80,402.98 L219.20,403.01 L219.60,403.06 L220.00,403.14 L220.40,403.24 L220.80,403.36 L221.20,403.48 L221.60,403.61 L222.00,403.75 L222.40,403.88 L222.80,404.00 L223.20,404.12 L223.60,404.22 L224.00,404.31 L224.40,404.39 L224.80,404.46 L225.20,404.51 L225.60,404.56 L226.00,404.59 L226.40,404.62 L226.80,404.64 L227.20,404.65 L227.60,404.66 L228.00,404.66 L228.40,404.66 L228.80,404.65 L229.20,404.63 L229.60,404.61 L230.00,404.58 L230.40,404.53 L230.80,404.47 L231.20,404.38 L231.60,404.27 L232.00,404.12 L232.40,403.92 L232.80,403.67 L233.20,403.35 L233.60,402.95 L234.00,402.45 L234.40,401.83 L234.80,401.08 L235.20,400.18 L235.60,399.10 L236.00,397.84 L236.40,396.36 L236.80,394.67 L237.20,392.74 L237.60,390.57 L238.00,388.17 L238.40,385.54 L238.80,382.71 L239.20,379.69 L239.60,376.52 L240.00,373.25 L240.40,369.94 L240.80,366.63 L241.20,363.40 L241.60,360.32 L242.00,357.46 L242.40,354.88 L242.80,352.66 L243.20,350.85 L243.60,349.50 L244.00,348.65 L244.40,348.32 L244.80,348.52 L245.20,349.25 L245.60,350.48 L246.00,352.19 L246.40,354.31 L246.80,356.81 L247.20,359.61 L247.60,362.65 L248.00,365.85 L248.40,369.14 L248.80,372.46 L249.20,375.74 L249.60,378.94 L250.00,382.00 L250.40,384.88 L250.80,387.56 L251.20,390.02 L251.60,392.24 L252.00,394.22 L252.40,395.98 L252.80,397.50 L253.20,398.82 L253.60,399.94 L254.00,400.88 L254.40,401.67 L254.80,402.31 L255.20,402.84 L255.60,403.26 L256.00,403.60 L256.40,403.87 L256.80,404.07 L257.20,404.23 L257.60,404.36 L258.00,404.45 L258.40,404.52 L258.80,404.57 L259.20,404.61 L259.60,404.63 L260.00,404.65 L260.40,404.67 L260.80,404.68 L261.20,404.68 L261.60,404.69 L262.00,404.69 L262.40,404.69 L262.80,404.70 L263.20,404.70 L263.60,404.70 L264.00,404.70 L264.40,404.70 L264.80,404.70 L265.20,404.70 L265.60,404.70 L266.00,404.70 L266.40,404.70 L266.80,404.70 L267.20,404.70 L267.60,404.70 L268.00,404.70 L268.40,404.70 L268.80,404.70 L269.20,404.70 L269.60,404.70 L270.00,404.70 L270.40,404.70 L270.80,404.70 L271.20,404.70 L271.60,404.70 L272.00,404.70 L272.40,404.70 L272.80,404.70 L273.20,404.70 L273.60,404.70 L274.00,404.70 L274.40,404.70 L274.80,404.70 L275.20,404.70 L275.60,404.70 L276.00,404.70 L276.40,404.70 L276.80,404.70 L277.20,404.70 L277.60,404.70 L278.00,404.70 L278.40,404.70 L278.80,404.70 L279.20,404.70 L279.60,404.70 L280.00,404.70 L280.40,404.70 L280.80,404.70 L281.20,404.70 L281.60,404.70 L282.00,404.70 L282.40,404.70 L282.80,404.70 L283.20,404.70 L283.60,404.70 L284.00,404.70 L284.40,404.70 L284.80,404.70 L285.20,404.70 L285.60,404.70 L286.00,404.70" fill="none" stroke="#a83232" stroke-width="1.05" stroke-linejoin="round"/>
<path d="M207.60,404.70 L208.00,404.70 L208.40,404.70 L208.80,404.70 L209.20,404.70 L209.60,404.70 L210.00,404.70 L210.40,404.70 L210.80,404.70 L211.20,404.70 L211.60,404.70 L212.00,404.70 L212.40,404.70 L212.80,404.70 L213.20,404.70 L213.60,404.70 L214.00,404.70 L214.40,404.70 L214.80,404.70 L215.20,404.70 L215.60,404.70 L216.00,404.70 L216.40,404.70 L216.80,404.70 L217.20,404.70 L217.60,404.70 L218.00,404.70 L218.40,404.70 L218.80,404.70 L219.20,404.70 L219.60,404.70 L220.00,404.70 L220.40,404.70 L220.80,404.70 L221.20,404.70 L221.60,404.70 L222.00,404.70 L222.40,404.70 L222.80,404.70 L223.20,404.70 L223.60,404.70 L224.00,404.70 L224.40,404.70 L224.80,404.70 L225.20,404.70 L225.60,404.70 L226.00,404.70 L226.40,404.69 L226.80,404.69 L227.20,404.69 L227.60,404.69 L228.00,404.68 L228.40,404.67 L228.80,404.66 L229.20,404.64 L229.60,404.61 L230.00,404.57 L230.40,404.52 L230.80,404.46 L231.20,404.37 L231.60,404.25 L232.00,404.09 L232.40,403.88 L232.80,403.62 L233.20,403.29 L233.60,402.86 L234.00,402.34 L234.40,401.70 L234.80,400.91 L235.20,399.96 L235.60,398.83 L236.00,397.51 L236.40,395.96 L236.80,394.18 L237.20,392.16 L237.60,389.89 L238.00,387.37 L238.40,384.61 L238.80,381.64 L239.20,378.48 L239.60,375.16 L240.00,371.73 L240.40,368.25 L240.80,364.78 L241.20,361.40 L241.60,358.17 L242.00,355.17 L242.40,352.47 L242.80,350.14 L243.20,348.24 L243.60,346.82 L244.00,345.93 L244.40,345.59 L244.80,345.80 L245.20,346.56 L245.60,347.85 L246.00,349.64 L246.40,351.87 L246.80,354.49 L247.20,357.42 L247.60,360.61 L248.00,363.96 L248.40,367.42 L248.80,370.90 L249.20,374.34 L249.60,377.69 L250.00,380.90 L250.40,383.92 L250.80,386.73 L251.20,389.30 L251.60,391.63 L252.00,393.72 L252.40,395.55 L252.80,397.15 L253.20,398.53 L253.60,399.71 L254.00,400.70 L254.40,401.52 L254.80,402.20 L255.20,402.75 L255.60,403.19 L256.00,403.55 L256.40,403.83 L256.80,404.04 L257.20,404.21 L257.60,404.34 L258.00,404.44 L258.40,404.51 L258.80,404.56 L259.20,404.60 L259.60,404.63 L260.00,404.65 L260.40,404.67 L260.80,404.68 L261.20,404.68 L261.60,404.69 L262.00,404.69 L262.40,404.69 L262.80,404.70 L263.20,404.70 L263.60,404.70 L264.00,404.70 L264.40,404.70 L264.80,404.70 L265.20,404.70 L265.60,404.70 L266.00,404.70 L266.40,404.70 L266.80,404.70 L267.20,404.70 L267.60,404.70 L268.00,404.70 L268.40,404.70 L268.80,404.70 L269.20,404.70 L269.60,404.70 L270.00,404.70 L270.40,404.70 L270.80,404.70 L271.20,404.70 L271.60,404.70 L272.00,404.70 L272.40,404.70 L272.80,404.70 L273.20,404.70 L273.60,404.70 L274.00,404.70 L274.40,404.70 L274.80,404.70 L275.20,404.70 L275.60,404.70 L276.00,404.70 L276.40,404.70 L276.80,404.70 L277.20,404.70 L277.60,404.70 L278.00,404.70 L278.40,404.70 L278.80,404.70 L279.20,404.70 L279.60,404.70 L280.00,404.70 L280.40,404.70 L280.80,404.70 L281.20,404.70 L281.60,404.70 L282.00,404.70 L282.40,404.70 L282.80,404.70 L283.20,404.70 L283.60,404.70 L284.00,404.70 L284.40,404.70 L284.80,404.70 L285.20,404.70 L285.60,404.70 L286.00,404.70" fill="none" stroke="#1a9a90" stroke-width="1.05" stroke-linejoin="round"/>
<path d="M207.60,404.41 L208.00,404.41 L208.40,404.41 L208.80,404.41 L209.20,404.41 L209.60,404.41 L210.00,404.41 L210.40,404.41 L210.80,404.41 L211.20,404.41 L211.60,404.41 L212.00,404.41 L212.40,404.41 L212.80,404.41 L213.20,404.41 L213.60,404.41 L214.00,404.41 L214.40,404.41 L214.80,404.41 L215.20,404.41 L215.60,404.41 L216.00,404.41 L216.40,404.41 L216.80,404.41 L217.20,404.41 L217.60,404.41 L218.00,404.41 L218.40,404.41 L218.80,404.41 L219.20,404.41 L219.60,404.41 L220.00,404.41 L220.40,404.41 L220.80,404.41 L221.20,404.41 L221.60,404.41 L222.00,404.41 L222.40,404.41 L222.80,404.41 L223.20,404.41 L223.60,404.41 L224.00,404.41 L224.40,404.41 L224.80,404.41 L225.20,404.41 L225.60,404.41 L226.00,404.41 L226.40,404.40 L226.80,404.40 L227.20,404.40 L227.60,404.39 L228.00,404.38 L228.40,404.37 L228.80,404.35 L229.20,404.33 L229.60,404.29 L230.00,404.25 L230.40,404.19 L230.80,404.12 L231.20,404.02 L231.60,403.90 L232.00,403.74 L232.40,403.54 L232.80,403.29 L233.20,402.98 L233.60,402.60 L234.00,402.14 L234.40,401.58 L234.80,400.91 L235.20,400.13 L235.60,399.21 L236.00,398.15 L236.40,396.93 L236.80,395.55 L237.20,394.01 L237.60,392.30 L238.00,390.43 L238.40,388.40 L238.80,386.23 L239.20,383.94 L239.60,381.56 L240.00,379.11 L240.40,376.63 L240.80,374.17 L241.20,371.76 L241.60,369.46 L242.00,367.30 L242.40,365.35 L242.80,363.63 L243.20,362.20 L243.60,361.08 L244.00,360.31 L244.40,359.89 L244.80,359.85 L245.20,360.18 L245.60,360.88 L246.00,361.93 L246.40,363.29 L246.80,364.95 L247.20,366.85 L247.60,368.97 L248.00,371.24 L248.40,373.63 L248.80,376.08 L249.20,378.56 L249.60,381.02 L250.00,383.42 L250.40,385.74 L250.80,387.93 L251.20,389.99 L251.60,391.90 L252.00,393.65 L252.40,395.23 L252.80,396.64 L253.20,397.89 L253.60,398.99 L254.00,399.94 L254.40,400.75 L254.80,401.44 L255.20,402.02 L255.60,402.51 L256.00,402.90 L256.40,403.23 L256.80,403.49 L257.20,403.70 L257.60,403.87 L258.00,404.00 L258.40,404.10 L258.80,404.18 L259.20,404.24 L259.60,404.29 L260.00,404.32 L260.40,404.35 L260.80,404.36 L261.20,404.38 L261.60,404.39 L262.00,404.39 L262.40,404.40 L262.80,404.40 L263.20,404.41 L263.60,404.41 L264.00,404.41 L264.40,404.41 L264.80,404.41 L265.20,404.41 L265.60,404.41 L266.00,404.41 L266.40,404.41 L266.80,404.41 L267.20,404.41 L267.60,404.41 L268.00,404.41 L268.40,404.41 L268.80,404.41 L269.20,404.41 L269.60,404.41 L270.00,404.41 L270.40,404.41 L270.80,404.41 L271.20,404.41 L271.60,404.41 L272.00,404.41 L272.40,404.41 L272.80,404.41 L273.20,404.41 L273.60,404.41 L274.00,404.41 L274.40,404.41 L274.80,404.41 L275.20,404.41 L275.60,404.41 L276.00,404.41 L276.40,404.41 L276.80,404.41 L277.20,404.41 L277.60,404.41 L278.00,404.41 L278.40,404.41 L278.80,404.41 L279.20,404.41 L279.60,404.41 L280.00,404.41 L280.40,404.41 L280.80,404.41 L281.20,404.41 L281.60,404.41 L282.00,404.41 L282.40,404.41 L282.80,404.41 L283.20,404.41 L283.60,404.41 L284.00,404.41 L284.40,404.41 L284.80,404.41 L285.20,404.41 L285.60,404.41 L286.00,404.41" fill="none" stroke="#0000f0" stroke-width="1.05" stroke-linejoin="round"/>
<path d="M207.60,404.70 L208.00,404.70 L208.40,404.70 L208.80,404.70 L209.20,404.70 L209.60,404.70 L210.00,404.70 L210.40,404.70 L210.80,404.70 L211.20,404.70 L211.60,404.70 L212.00,404.70 L212.40,404.70 L212.80,404.70 L213.20,404.70 L213.60,404.70 L214.00,404.70 L214.40,404.70 L214.80,404.70 L215.20,404.70 L215.60,404.70 L216.00,404.70 L216.40,404.70 L216.80,404.70 L217.20,404.70 L217.60,404.70 L218.00,404.70 L218.40,404.70 L218.80,404.70 L219.20,404.70 L219.60,404.70 L220.00,404.70 L220.40,404.70 L220.80,404.70 L221.20,404.70 L221.60,404.70 L222.00,404.70 L222.40,404.70 L222.80,404.70 L223.20,404.70 L223.60,404.70 L224.00,404.70 L224.40,404.70 L224.80,404.70 L225.20,404.70 L225.60,404.70 L226.00,404.69 L226.40,404.69 L226.80,404.69 L227.20,404.68 L227.60,404.67 L228.00,404.66 L228.40,404.64 L228.80,404.62 L229.20,404.58 L229.60,404.54 L230.00,404.47 L230.40,404.38 L230.80,404.27 L231.20,404.11 L231.60,403.90 L232.00,403.64 L232.40,403.30 L232.80,402.86 L233.20,402.31 L233.60,401.63 L234.00,400.79 L234.40,399.76 L234.80,398.53 L235.20,397.05 L235.60,395.32 L236.00,393.30 L236.40,390.98 L236.80,388.34 L237.20,385.37 L237.60,382.08 L238.00,378.48 L238.40,374.60 L238.80,370.46 L239.20,366.12 L239.60,361.63 L240.00,357.08 L240.40,352.54 L240.80,348.11 L241.20,343.87 L241.60,339.94 L242.00,336.39 L242.40,333.33 L242.80,330.84 L243.20,328.97 L243.60,327.79 L244.00,327.32 L244.40,327.59 L244.80,328.57 L245.20,330.25 L245.60,332.57 L246.00,335.48 L246.40,338.90 L246.80,342.74 L247.20,346.90 L247.60,351.28 L248.00,355.80 L248.40,360.36 L248.80,364.87 L249.20,369.26 L249.60,373.46 L250.00,377.42 L250.40,381.11 L250.80,384.48 L251.20,387.54 L251.60,390.27 L252.00,392.68 L252.40,394.78 L252.80,396.60 L253.20,398.14 L253.60,399.44 L254.00,400.52 L254.40,401.41 L254.80,402.13 L255.20,402.72 L255.60,403.18 L256.00,403.55 L256.40,403.84 L256.80,404.06 L257.20,404.23 L257.60,404.35 L258.00,404.45 L258.40,404.52 L258.80,404.57 L259.20,404.61 L259.60,404.64 L260.00,404.66 L260.40,404.67 L260.80,404.68 L261.20,404.69 L261.60,404.69 L262.00,404.69 L262.40,404.69 L262.80,404.70 L263.20,404.70 L263.60,404.70 L264.00,404.70 L264.40,404.70 L264.80,404.70 L265.20,404.70 L265.60,404.70 L266.00,404.70 L266.40,404.70 L266.80,404.70 L267.20,404.70 L267.60,404.70 L268.00,404.70 L268.40,404.70 L268.80,404.70 L269.20,404.70 L269.60,404.70 L270.00,404.70 L270.40,404.70 L270.80,404.70 L271.20,404.70 L271.60,404.70 L272.00,404.70 L272.40,404.70 L272.80,404.70 L273.20,404.70 L273.60,404.70 L274.00,404.70 L274.40,404.70 L274.80,404.70 L275.20,404.70 L275.60,404.70 L276.00,404.70 L276.40,404.70 L276.80,404.70 L277.20,404.70 L277.60,404.70 L278.00,404.70 L278.40,404.70 L278.80,404.70 L279.20,404.70 L279.60,404.70 L280.00,404.70 L280.40,404.70 L280.80,404.70 L281.20,404.70 L281.60,404.70 L282.00,404.70 L282.40,404.70 L282.80,404.70 L283.20,404.70 L283.60,404.70 L284.00,404.70 L284.40,404.70 L284.80,404.70 L285.20,404.70 L285.60,404.70 L286.00,404.70" fill="none" stroke="#9933ff" stroke-width="1.05" stroke-linejoin="round"/>
<line x1="204.50" y1="320.10" x2="204.50" y2="407.80" stroke="#333" stroke-width="1.1"/>
<line x1="202.70" y1="407.00" x2="204.50" y2="407.00" stroke="#111" stroke-width="1.2"/>
<text x="200.60" y="410.40" font-size="8.4" text-anchor="end" fill="#2a2a2a" textLength="4.78" lengthAdjust="spacingAndGlyphs">0</text>
<line x1="202.70" y1="378.23" x2="204.50" y2="378.23" stroke="#111" stroke-width="1.2"/>
<text x="200.60" y="381.63" font-size="8.4" text-anchor="end" fill="#2a2a2a" textLength="4.78" lengthAdjust="spacingAndGlyphs">2</text>
<line x1="202.70" y1="349.47" x2="204.50" y2="349.47" stroke="#111" stroke-width="1.2"/>
<text x="200.60" y="352.87" font-size="8.4" text-anchor="end" fill="#2a2a2a" textLength="4.78" lengthAdjust="spacingAndGlyphs">4</text>
<line x1="202.70" y1="320.70" x2="204.50" y2="320.70" stroke="#111" stroke-width="1.2"/>
<text x="200.60" y="324.10" font-size="8.4" text-anchor="end" fill="#2a2a2a" textLength="4.78" lengthAdjust="spacingAndGlyphs">6</text>
<line x1="207.60" y1="407.00" x2="286.00" y2="407.00" stroke="#111" stroke-width="1.8"/>
<line x1="207.60" y1="407.00" x2="207.60" y2="409.80" stroke="#222" stroke-width="1.1"/>
<line x1="227.20" y1="407.00" x2="227.20" y2="409.80" stroke="#222" stroke-width="1.1"/>
<line x1="246.80" y1="407.00" x2="246.80" y2="409.80" stroke="#222" stroke-width="1.1"/>
<line x1="266.40" y1="407.00" x2="266.40" y2="409.80" stroke="#222" stroke-width="1.1"/>
<line x1="286.00" y1="407.00" x2="286.00" y2="409.80" stroke="#222" stroke-width="1.1"/>
<text x="227.20" y="416.80" font-size="7.8" text-anchor="middle" fill="#333" textLength="15.90" lengthAdjust="spacingAndGlyphs">38.5</text>
<text x="266.40" y="416.80" font-size="7.8" text-anchor="middle" fill="#333" textLength="15.90" lengthAdjust="spacingAndGlyphs">39.5</text>
<text x="209.80" y="431.20" font-size="10.8" fill="#1c1c1c" textLength="74.80" lengthAdjust="spacingAndGlyphs">Retention (min)</text>
<text transform="translate(188.40,401.30) rotate(-90)" font-size="10.8" fill="#1c1c1c" textLength="71.60" lengthAdjust="spacingAndGlyphs">Intensity (x10<tspan font-size="6.8" dy="-4.4">3</tspan><tspan dy="4.4">)</tspan></text>
<line x1="257.60" y1="331.60" x2="266.40" y2="331.60" stroke="#0000f0" stroke-width="1.7"/>
<text x="274.80" y="333.10" font-size="7.6" fill="#222" textLength="54.87" lengthAdjust="spacingAndGlyphs">y6 - 713.4668+</text>
<line x1="257.60" y1="341.00" x2="266.40" y2="341.00" stroke="#9933ff" stroke-width="1.7"/>
<text x="274.80" y="342.50" font-size="7.6" fill="#222" textLength="54.87" lengthAdjust="spacingAndGlyphs">y5 - 600.3828+</text>
<line x1="257.60" y1="351.10" x2="266.40" y2="351.10" stroke="#a83232" stroke-width="1.7"/>
<text x="274.80" y="352.60" font-size="7.6" fill="#222" textLength="54.87" lengthAdjust="spacingAndGlyphs">y4 - 487.2987+</text>
<line x1="257.60" y1="361.10" x2="266.40" y2="361.10" stroke="#e07828" stroke-width="1.7"/>
<text x="274.80" y="362.60" font-size="7.6" fill="#222" textLength="54.87" lengthAdjust="spacingAndGlyphs">y3 - 359.2401+</text>
<line x1="257.60" y1="371.50" x2="266.40" y2="371.50" stroke="#1a9a90" stroke-width="1.7"/>
<text x="274.80" y="373.00" font-size="7.6" fill="#222" textLength="55.33" lengthAdjust="spacingAndGlyphs">a2 - 201.1234+</text>
<text x="0.50" y="456.40" font-size="19.5" font-style="italic" fill="#222">iii</text>
<text x="43.80" y="463.70" font-size="13.6" fill="#1c1c1c" textLength="75.70" lengthAdjust="spacingAndGlyphs">THP-1 + SIS</text>
<path d="M40.40,547.02 L40.80,547.02 L41.20,547.02 L41.60,547.02 L42.00,547.02 L42.40,547.02 L42.80,547.02 L43.20,547.02 L43.60,547.02 L44.00,547.02 L44.40,547.02 L44.80,547.02 L45.20,547.02 L45.60,547.02 L46.00,547.02 L46.40,547.02 L46.80,547.02 L47.20,547.01 L47.60,547.01 L48.00,547.01 L48.40,547.01 L48.80,547.01 L49.20,547.00 L49.60,547.00 L50.00,546.99 L50.40,546.98 L50.80,546.96 L51.20,546.94 L51.60,546.91 L52.00,546.87 L52.40,546.82 L52.80,546.77 L53.20,546.71 L53.60,546.64 L54.00,546.57 L54.40,546.49 L54.80,546.42 L55.20,546.34 L55.60,546.28 L56.00,546.22 L56.40,546.18 L56.80,546.16 L57.20,546.15 L57.60,546.16 L58.00,546.20 L58.40,546.24 L58.80,546.30 L59.20,546.37 L59.60,546.44 L60.00,546.52 L60.40,546.60 L60.80,546.67 L61.20,546.73 L61.60,546.79 L62.00,546.83 L62.40,546.87 L62.80,546.90 L63.20,546.92 L63.60,546.92 L64.00,546.91 L64.40,546.89 L64.80,546.85 L65.20,546.79 L65.60,546.70 L66.00,546.57 L66.40,546.39 L66.80,546.15 L67.20,545.83 L67.60,545.42 L68.00,544.89 L68.40,544.22 L68.80,543.39 L69.20,542.37 L69.60,541.14 L70.00,539.69 L70.40,538.00 L70.80,536.05 L71.20,533.87 L71.60,531.45 L72.00,528.82 L72.40,526.03 L72.80,523.12 L73.20,520.16 L73.60,517.22 L74.00,514.40 L74.40,511.77 L74.80,509.42 L75.20,507.43 L75.60,505.88 L76.00,504.82 L76.40,504.30 L76.80,504.12 L77.20,504.38 L77.60,505.24 L78.00,506.65 L78.40,508.53 L78.80,510.80 L79.20,513.38 L79.60,516.16 L80.00,519.07 L80.40,522.01 L80.80,524.90 L81.20,527.68 L81.60,530.30 L82.00,532.72 L82.40,534.91 L82.80,536.85 L83.20,538.55 L83.60,540.01 L84.00,541.25 L84.40,542.28 L84.80,543.13 L85.20,543.82 L85.60,544.38 L86.00,544.82 L86.40,545.16 L86.80,545.43 L87.20,545.64 L87.60,545.80 L88.00,545.93 L88.40,546.03 L88.80,546.10 L89.20,546.16 L89.60,546.20 L90.00,546.23 L90.40,546.25 L90.80,546.25 L91.20,546.24 L91.60,546.20 L92.00,546.14 L92.40,546.04 L92.80,545.90 L93.20,545.70 L93.60,545.44 L94.00,545.09 L94.40,544.64 L94.80,544.07 L95.20,543.38 L95.60,542.54 L96.00,541.54 L96.40,540.39 L96.80,539.07 L97.20,537.61 L97.60,536.02 L98.00,534.32 L98.40,532.56 L98.80,530.78 L99.20,529.03 L99.60,527.37 L100.00,525.87 L100.40,524.57 L100.80,523.53 L101.20,522.79 L101.60,522.39 L102.00,522.35 L102.40,522.66 L102.80,523.31 L103.20,524.27 L103.60,525.52 L104.00,526.98 L104.40,528.62 L104.80,530.36 L105.20,532.16 L105.60,533.95 L106.00,535.69 L106.40,537.34 L106.80,538.86 L107.20,540.24 L107.60,541.47 L108.00,542.53 L108.40,543.44 L108.80,544.20 L109.20,544.83 L109.60,545.34 L110.00,545.74 L110.40,546.05 L110.80,546.30 L111.20,546.48 L111.60,546.62 L112.00,546.72 L112.40,546.79 L112.80,546.84 L113.20,546.88 L113.60,546.91 L114.00,546.93 L114.40,546.94 L114.80,546.95 L115.20,546.95 L115.60,546.96 L116.00,546.96 L116.40,546.97 L116.80,546.97 L117.20,546.97 L117.60,546.97 L118.00,546.98 L118.40,546.98" fill="none" stroke="#e07828" stroke-width="1.05" stroke-linejoin="round"/>
<path d="M40.40,547.02 L40.80,547.02 L41.20,547.02 L41.60,547.02 L42.00,547.02 L42.40,547.02 L42.80,547.02 L43.20,547.02 L43.60,547.02 L44.00,547.02 L44.40,547.02 L44.80,547.02 L45.20,547.02 L45.60,547.02 L46.00,547.02 L46.40,547.02 L46.80,547.02 L47.20,547.01 L47.60,547.01 L48.00,547.01 L48.40,547.01 L48.80,547.01 L49.20,547.00 L49.60,546.99 L50.00,546.98 L50.40,546.96 L50.80,546.94 L51.20,546.91 L51.60,546.87 L52.00,546.82 L52.40,546.76 L52.80,546.69 L53.20,546.61 L53.60,546.52 L54.00,546.42 L54.40,546.32 L54.80,546.22 L55.20,546.12 L55.60,546.03 L56.00,545.96 L56.40,545.90 L56.80,545.87 L57.20,545.86 L57.60,545.88 L58.00,545.92 L58.40,545.98 L58.80,546.06 L59.20,546.15 L59.60,546.25 L60.00,546.35 L60.40,546.45 L60.80,546.55 L61.20,546.64 L61.60,546.71 L62.00,546.77 L62.40,546.82 L62.80,546.85 L63.20,546.87 L63.60,546.87 L64.00,546.86 L64.40,546.82 L64.80,546.75 L65.20,546.64 L65.60,546.49 L66.00,546.28 L66.40,545.98 L66.80,545.59 L67.20,545.07 L67.60,544.39 L68.00,543.51 L68.40,542.41 L68.80,541.04 L69.20,539.37 L69.60,537.35 L70.00,534.96 L70.40,532.17 L70.80,528.97 L71.20,525.37 L71.60,521.38 L72.00,517.06 L72.40,512.46 L72.80,507.67 L73.20,502.79 L73.60,497.96 L74.00,493.31 L74.40,488.98 L74.80,485.11 L75.20,481.84 L75.60,479.29 L76.00,477.55 L76.40,476.69 L76.80,476.47 L77.20,477.03 L77.60,478.53 L78.00,480.91 L78.40,484.05 L78.80,487.83 L79.20,492.08 L79.60,496.68 L80.00,501.46 L80.40,506.29 L80.80,511.04 L81.20,515.61 L81.60,519.91 L82.00,523.86 L82.40,527.44 L82.80,530.63 L83.20,533.40 L83.60,535.79 L84.00,537.81 L84.40,539.49 L84.80,540.87 L85.20,541.98 L85.60,542.88 L86.00,543.58 L86.40,544.14 L86.80,544.56 L87.20,544.89 L87.60,545.15 L88.00,545.34 L88.40,545.49 L88.80,545.61 L89.20,545.70 L89.60,545.77 L90.00,545.83 L90.40,545.87 L90.80,545.91 L91.20,545.93 L91.60,545.95 L92.00,545.95 L92.40,545.94 L92.80,545.91 L93.20,545.86 L93.60,545.78 L94.00,545.67 L94.40,545.52 L94.80,545.33 L95.20,545.10 L95.60,544.80 L96.00,544.45 L96.40,544.04 L96.80,543.57 L97.20,543.04 L97.60,542.47 L98.00,541.86 L98.40,541.22 L98.80,540.57 L99.20,539.94 L99.60,539.34 L100.00,538.79 L100.40,538.32 L100.80,537.95 L101.20,537.69 L101.60,537.55 L102.00,537.54 L102.40,537.67 L102.80,537.92 L103.20,538.29 L103.60,538.76 L104.00,539.31 L104.40,539.93 L104.80,540.58 L105.20,541.26 L105.60,541.93 L106.00,542.58 L106.40,543.20 L106.80,543.77 L107.20,544.29 L107.60,544.75 L108.00,545.15 L108.40,545.50 L108.80,545.78 L109.20,546.02 L109.60,546.22 L110.00,546.37 L110.40,546.49 L110.80,546.59 L111.20,546.66 L111.60,546.72 L112.00,546.76 L112.40,546.79 L112.80,546.82 L113.20,546.83 L113.60,546.85 L114.00,546.86 L114.40,546.87 L114.80,546.88 L115.20,546.88 L115.60,546.89 L116.00,546.89 L116.40,546.90 L116.80,546.90 L117.20,546.91 L117.60,546.91 L118.00,546.91 L118.40,546.92" fill="none" stroke="#a83232" stroke-width="1.05" stroke-linejoin="round"/>
<path d="M40.40,547.16 L40.80,547.16 L41.20,547.16 L41.60,547.16 L42.00,547.16 L42.40,547.16 L42.80,547.16 L43.20,547.16 L43.60,547.16 L44.00,547.16 L44.40,547.16 L44.80,547.16 L45.20,547.16 L45.60,547.16 L46.00,547.16 L46.40,547.16 L46.80,547.16 L47.20,547.16 L47.60,547.16 L48.00,547.16 L48.40,547.15 L48.80,547.15 L49.20,547.15 L49.60,547.14 L50.00,547.13 L50.40,547.12 L50.80,547.10 L51.20,547.08 L51.60,547.05 L52.00,547.01 L52.40,546.97 L52.80,546.92 L53.20,546.85 L53.60,546.79 L54.00,546.71 L54.40,546.64 L54.80,546.56 L55.20,546.49 L55.60,546.42 L56.00,546.37 L56.40,546.33 L56.80,546.30 L57.20,546.30 L57.60,546.31 L58.00,546.34 L58.40,546.39 L58.80,546.44 L59.20,546.51 L59.60,546.59 L60.00,546.66 L60.40,546.74 L60.80,546.81 L61.20,546.87 L61.60,546.93 L62.00,546.98 L62.40,547.01 L62.80,547.04 L63.20,547.05 L63.60,547.06 L64.00,547.05 L64.40,547.02 L64.80,546.98 L65.20,546.91 L65.60,546.81 L66.00,546.67 L66.40,546.49 L66.80,546.24 L67.20,545.91 L67.60,545.48 L68.00,544.93 L68.40,544.24 L68.80,543.38 L69.20,542.32 L69.60,541.03 L70.00,539.49 L70.40,537.69 L70.80,535.59 L71.20,533.19 L71.60,530.50 L72.00,527.52 L72.40,524.29 L72.80,520.83 L73.20,517.21 L73.60,513.49 L74.00,509.75 L74.40,506.09 L74.80,502.60 L75.20,499.38 L75.60,496.53 L76.00,494.15 L76.40,492.31 L76.80,491.07 L77.20,490.47 L77.60,490.10 L78.00,490.20 L78.40,491.05 L78.80,492.58 L79.20,494.72 L79.60,497.37 L80.00,500.43 L80.40,503.78 L80.80,507.32 L81.20,510.96 L81.60,514.58 L82.00,518.12 L82.40,521.49 L82.80,524.66 L83.20,527.57 L83.60,530.21 L84.00,532.56 L84.40,534.62 L84.80,536.40 L85.20,537.92 L85.60,539.20 L86.00,540.26 L86.40,541.13 L86.80,541.85 L87.20,542.42 L87.60,542.88 L88.00,543.25 L88.40,543.55 L88.80,543.78 L89.20,543.97 L89.60,544.12 L90.00,544.25 L90.40,544.35 L90.80,544.44 L91.20,544.52 L91.60,544.60 L92.00,544.66 L92.40,544.72 L92.80,544.78 L93.20,544.84 L93.60,544.89 L94.00,544.94 L94.40,544.99 L94.80,545.04 L95.20,545.09 L95.60,545.13 L96.00,545.18 L96.40,545.22 L96.80,545.27 L97.20,545.31 L97.60,545.35 L98.00,545.39 L98.40,545.43 L98.80,545.47 L99.20,545.51 L99.60,545.54 L100.00,545.58 L100.40,545.62 L100.80,545.65 L101.20,545.69 L101.60,545.72 L102.00,545.75 L102.40,545.78 L102.80,545.81 L103.20,545.84 L103.60,545.87 L104.00,545.90 L104.40,545.93 L104.80,545.96 L105.20,545.99 L105.60,546.01 L106.00,546.04 L106.40,546.06 L106.80,546.09 L107.20,546.11 L107.60,546.14 L108.00,546.16 L108.40,546.18 L108.80,546.20 L109.20,546.23 L109.60,546.25 L110.00,546.27 L110.40,546.29 L110.80,546.31 L111.20,546.33 L111.60,546.35 L112.00,546.36 L112.40,546.38 L112.80,546.40 L113.20,546.42 L113.60,546.43 L114.00,546.45 L114.40,546.47 L114.80,546.48 L115.20,546.50 L115.60,546.51 L116.00,546.53 L116.40,546.54 L116.80,546.55 L117.20,546.57 L117.60,546.58 L118.00,546.60 L118.40,546.61" fill="none" stroke="#0000f0" stroke-width="1.05" stroke-linejoin="round"/>
<path d="M40.40,547.02 L40.80,547.02 L41.20,547.02 L41.60,547.02 L42.00,547.02 L42.40,547.02 L42.80,547.02 L43.20,547.02 L43.60,547.02 L44.00,547.02 L44.40,547.02 L44.80,547.02 L45.20,547.02 L45.60,547.02 L46.00,547.02 L46.40,547.02 L46.80,547.02 L47.20,547.01 L47.60,547.01 L48.00,547.01 L48.40,547.01 L48.80,547.00 L49.20,547.00 L49.60,546.99 L50.00,546.97 L50.40,546.95 L50.80,546.93 L51.20,546.89 L51.60,546.85 L52.00,546.80 L52.40,546.73 L52.80,546.65 L53.20,546.56 L53.60,546.46 L54.00,546.35 L54.40,546.23 L54.80,546.12 L55.20,546.01 L55.60,545.91 L56.00,545.83 L56.40,545.77 L56.80,545.73 L57.20,545.72 L57.60,545.74 L58.00,545.78 L58.40,545.85 L58.80,545.94 L59.20,546.05 L59.60,546.16 L60.00,546.27 L60.40,546.38 L60.80,546.49 L61.20,546.59 L61.60,546.67 L62.00,546.74 L62.40,546.80 L62.80,546.83 L63.20,546.86 L63.60,546.86 L64.00,546.84 L64.40,546.79 L64.80,546.72 L65.20,546.60 L65.60,546.43 L66.00,546.19 L66.40,545.87 L66.80,545.43 L67.20,544.85 L67.60,544.09 L68.00,543.13 L68.40,541.90 L68.80,540.38 L69.20,538.52 L69.60,536.28 L70.00,533.62 L70.40,530.53 L70.80,526.98 L71.20,522.98 L71.60,518.55 L72.00,513.75 L72.40,508.64 L72.80,503.32 L73.20,497.91 L73.60,492.55 L74.00,487.38 L74.40,482.57 L74.80,478.27 L75.20,474.64 L75.60,471.81 L76.00,469.88 L76.40,468.92 L76.80,468.66 L77.20,469.23 L77.60,470.87 L78.00,473.47 L78.40,476.93 L78.80,481.09 L79.20,485.79 L79.60,490.87 L80.00,496.16 L80.40,501.51 L80.80,506.77 L81.20,511.83 L81.60,516.59 L82.00,520.98 L82.40,524.94 L82.80,528.47 L83.20,531.55 L83.60,534.19 L84.00,536.43 L84.40,538.29 L84.80,539.82 L85.20,541.06 L85.60,542.05 L86.00,542.84 L86.40,543.45 L86.80,543.93 L87.20,544.30 L87.60,544.58 L88.00,544.80 L88.40,544.97 L88.80,545.10 L89.20,545.21 L89.60,545.29 L90.00,545.37 L90.40,545.43 L90.80,545.49 L91.20,545.54 L91.60,545.58 L92.00,545.63 L92.40,545.67 L92.80,545.71 L93.20,545.74 L93.60,545.78 L94.00,545.82 L94.40,545.85 L94.80,545.88 L95.20,545.92 L95.60,545.95 L96.00,545.98 L96.40,546.01 L96.80,546.04 L97.20,546.07 L97.60,546.09 L98.00,546.12 L98.40,546.15 L98.80,546.17 L99.20,546.20 L99.60,546.22 L100.00,546.24 L100.40,546.27 L100.80,546.29 L101.20,546.31 L101.60,546.33 L102.00,546.35 L102.40,546.37 L102.80,546.39 L103.20,546.40 L103.60,546.42 L104.00,546.44 L104.40,546.46 L104.80,546.47 L105.20,546.49 L105.60,546.50 L106.00,546.52 L106.40,546.53 L106.80,546.55 L107.20,546.56 L107.60,546.57 L108.00,546.59 L108.40,546.60 L108.80,546.61 L109.20,546.62 L109.60,546.63 L110.00,546.65 L110.40,546.66 L110.80,546.67 L111.20,546.68 L111.60,546.69 L112.00,546.70 L112.40,546.70 L112.80,546.71 L113.20,546.72 L113.60,546.73 L114.00,546.74 L114.40,546.75 L114.80,546.76 L115.20,546.76 L115.60,546.77 L116.00,546.78 L116.40,546.78 L116.80,546.79 L117.20,546.80 L117.60,546.80 L118.00,546.81 L118.40,546.82" fill="none" stroke="#9933ff" stroke-width="1.05" stroke-linejoin="round"/>
<line x1="36.50" y1="461.60" x2="36.50" y2="549.40" stroke="#333" stroke-width="1.1"/>
<line x1="34.70" y1="548.60" x2="36.50" y2="548.60" stroke="#111" stroke-width="1.2"/>
<text x="32.00" y="552.00" font-size="8.4" text-anchor="end" fill="#2a2a2a" textLength="4.78" lengthAdjust="spacingAndGlyphs">0</text>
<line x1="34.70" y1="519.80" x2="36.50" y2="519.80" stroke="#111" stroke-width="1.2"/>
<text x="32.00" y="523.20" font-size="8.4" text-anchor="end" fill="#2a2a2a" textLength="9.56" lengthAdjust="spacingAndGlyphs">20</text>
<line x1="34.70" y1="491.00" x2="36.50" y2="491.00" stroke="#111" stroke-width="1.2"/>
<text x="32.00" y="494.40" font-size="8.4" text-anchor="end" fill="#2a2a2a" textLength="9.56" lengthAdjust="spacingAndGlyphs">40</text>
<line x1="34.70" y1="462.20" x2="36.50" y2="462.20" stroke="#111" stroke-width="1.2"/>
<text x="32.00" y="465.60" font-size="8.4" text-anchor="end" fill="#2a2a2a" textLength="9.56" lengthAdjust="spacingAndGlyphs">60</text>
<line x1="40.40" y1="548.60" x2="118.20" y2="548.60" stroke="#111" stroke-width="1.8"/>
<line x1="40.40" y1="548.60" x2="40.40" y2="551.40" stroke="#222" stroke-width="1.1"/>
<line x1="59.85" y1="548.60" x2="59.85" y2="551.40" stroke="#222" stroke-width="1.1"/>
<line x1="79.30" y1="548.60" x2="79.30" y2="551.40" stroke="#222" stroke-width="1.1"/>
<line x1="98.75" y1="548.60" x2="98.75" y2="551.40" stroke="#222" stroke-width="1.1"/>
<line x1="118.20" y1="548.60" x2="118.20" y2="551.40" stroke="#222" stroke-width="1.1"/>
<text x="59.85" y="558.80" font-size="7.8" text-anchor="middle" fill="#333" textLength="15.90" lengthAdjust="spacingAndGlyphs">36.5</text>
<text x="98.75" y="558.80" font-size="7.8" text-anchor="middle" fill="#333" textLength="15.90" lengthAdjust="spacingAndGlyphs">37.5</text>
<text x="43.30" y="572.90" font-size="10.8" fill="#1c1c1c" textLength="74.40" lengthAdjust="spacingAndGlyphs">Retention (min)</text>
<text transform="translate(19.80,549.60) rotate(-90)" font-size="10.8" fill="#1c1c1c" textLength="88.50" lengthAdjust="spacingAndGlyphs">SIS Peptide<tspan dx="1.2">(x10</tspan><tspan font-size="6.8" dy="-4.4">3</tspan><tspan dy="4.4">)</tspan></text>
<line x1="87.20" y1="477.50" x2="96.00" y2="477.50" stroke="#0000f0" stroke-width="1.7"/>
<text x="105.00" y="479.00" font-size="7.6" fill="#222" textLength="54.87" lengthAdjust="spacingAndGlyphs">y6 - 723.4751+</text>
<line x1="87.20" y1="487.10" x2="96.00" y2="487.10" stroke="#9933ff" stroke-width="1.7"/>
<text x="105.00" y="488.60" font-size="7.6" fill="#222" textLength="54.87" lengthAdjust="spacingAndGlyphs">y5 - 610.3910+</text>
<line x1="87.20" y1="496.90" x2="96.00" y2="496.90" stroke="#a83232" stroke-width="1.7"/>
<text x="105.00" y="498.40" font-size="7.6" fill="#222" textLength="54.87" lengthAdjust="spacingAndGlyphs">y4 - 497.3070+</text>
<line x1="87.20" y1="507.00" x2="96.00" y2="507.00" stroke="#e07828" stroke-width="1.7"/>
<text x="105.00" y="508.50" font-size="7.6" fill="#222" textLength="55.33" lengthAdjust="spacingAndGlyphs">b3 - 342.2023+</text>
<text x="167.60" y="456.30" font-size="19.5" font-style="italic" fill="#222">iv</text>
<text x="217.20" y="463.60" font-size="13.6" fill="#1c1c1c" textLength="69.90" lengthAdjust="spacingAndGlyphs">Urine + SIS</text>
<path d="M207.60,547.83 L208.00,547.83 L208.40,547.83 L208.80,547.83 L209.20,547.83 L209.60,547.83 L210.00,547.83 L210.40,547.83 L210.80,547.83 L211.20,547.83 L211.60,547.83 L212.00,547.83 L212.40,547.83 L212.80,547.83 L213.20,547.83 L213.60,547.83 L214.00,547.83 L214.40,547.83 L214.80,547.83 L215.20,547.83 L215.60,547.83 L216.00,547.83 L216.40,547.83 L216.80,547.83 L217.20,547.83 L217.60,547.83 L218.00,547.83 L218.40,547.83 L218.80,547.83 L219.20,547.83 L219.60,547.83 L220.00,547.83 L220.40,547.83 L220.80,547.83 L221.20,547.83 L221.60,547.83 L222.00,547.83 L222.40,547.83 L222.80,547.83 L223.20,547.83 L223.60,547.83 L224.00,547.83 L224.40,547.83 L224.80,547.83 L225.20,547.83 L225.60,547.83 L226.00,547.83 L226.40,547.83 L226.80,547.83 L227.20,547.83 L227.60,547.83 L228.00,547.83 L228.40,547.83 L228.80,547.83 L229.20,547.83 L229.60,547.83 L230.00,547.83 L230.40,547.83 L230.80,547.83 L231.20,547.82 L231.60,547.82 L232.00,547.82 L232.40,547.82 L232.80,547.81 L233.20,547.81 L233.60,547.80 L234.00,547.79 L234.40,547.79 L234.80,547.78 L235.20,547.77 L235.60,547.76 L236.00,547.75 L236.40,547.73 L236.80,547.72 L237.20,547.70 L237.60,547.69 L238.00,547.67 L238.40,547.65 L238.80,547.63 L239.20,547.61 L239.60,547.59 L240.00,547.57 L240.40,547.55 L240.80,547.53 L241.20,547.51 L241.60,547.49 L242.00,547.47 L242.40,547.45 L242.80,547.44 L243.20,547.42 L243.60,547.41 L244.00,547.41 L244.40,547.40 L244.80,547.40 L245.20,547.40 L245.60,547.40 L246.00,547.41 L246.40,547.42 L246.80,547.43 L247.20,547.44 L247.60,547.46 L248.00,547.48 L248.40,547.49 L248.80,547.51 L249.20,547.53 L249.60,547.56 L250.00,547.58 L250.40,547.60 L250.80,547.62 L251.20,547.64 L251.60,547.66 L252.00,547.68 L252.40,547.69 L252.80,547.71 L253.20,547.73 L253.60,547.74 L254.00,547.75 L254.40,547.76 L254.80,547.77 L255.20,547.78 L255.60,547.79 L256.00,547.80 L256.40,547.80 L256.80,547.81 L257.20,547.81 L257.60,547.82 L258.00,547.82 L258.40,547.82 L258.80,547.82 L259.20,547.83 L259.60,547.83 L260.00,547.83 L260.40,547.83 L260.80,547.83 L261.20,547.83 L261.60,547.83 L262.00,547.83 L262.40,547.83 L262.80,547.83 L263.20,547.83 L263.60,547.83 L264.00,547.83 L264.40,547.83 L264.80,547.83 L265.20,547.83 L265.60,547.83 L266.00,547.83 L266.40,547.83 L266.80,547.83 L267.20,547.83 L267.60,547.83 L268.00,547.83 L268.40,547.83 L268.80,547.83 L269.20,547.83 L269.60,547.83 L270.00,547.83 L270.40,547.83 L270.80,547.83 L271.20,547.83 L271.60,547.83 L272.00,547.83 L272.40,547.83 L272.80,547.83 L273.20,547.83 L273.60,547.83 L274.00,547.83 L274.40,547.83 L274.80,547.83 L275.20,547.83 L275.60,547.83 L276.00,547.83 L276.40,547.83 L276.80,547.83 L277.20,547.83 L277.60,547.83 L278.00,547.83 L278.40,547.83 L278.80,547.83 L279.20,547.83 L279.60,547.83 L280.00,547.83 L280.40,547.83 L280.80,547.83 L281.20,547.83 L281.60,547.83 L282.00,547.83 L282.40,547.83 L282.80,547.83 L283.20,547.83 L283.60,547.83 L284.00,547.83 L284.40,547.83 L284.80,547.83 L285.20,547.83 L285.60,547.83 L286.00,547.83 L286.40,547.83 L286.80,547.83" fill="none" stroke="#e07828" stroke-width="1.05" stroke-linejoin="round"/>
<path d="M207.60,547.54 L208.00,547.54 L208.40,547.54 L208.80,547.54 L209.20,547.54 L209.60,547.54 L210.00,547.54 L210.40,547.54 L210.80,547.54 L211.20,547.54 L211.60,547.54 L212.00,547.54 L212.40,547.54 L212.80,547.54 L213.20,547.54 L213.60,547.54 L214.00,547.54 L214.40,547.54 L214.80,547.53 L215.20,547.53 L215.60,547.52 L216.00,547.51 L216.40,547.50 L216.80,547.49 L217.20,547.47 L217.60,547.45 L218.00,547.42 L218.40,547.39 L218.80,547.35 L219.20,547.30 L219.60,547.25 L220.00,547.19 L220.40,547.13 L220.80,547.07 L221.20,547.00 L221.60,546.94 L222.00,546.87 L222.40,546.81 L222.80,546.76 L223.20,546.72 L223.60,546.69 L224.00,546.67 L224.40,546.67 L224.80,546.68 L225.20,546.70 L225.60,546.73 L226.00,546.77 L226.40,546.81 L226.80,546.86 L227.20,546.91 L227.60,546.95 L228.00,546.99 L228.40,547.01 L228.80,547.02 L229.20,547.01 L229.60,546.98 L230.00,546.92 L230.40,546.82 L230.80,546.70 L231.20,546.53 L231.60,546.31 L232.00,546.03 L232.40,545.70 L232.80,545.29 L233.20,544.80 L233.60,544.23 L234.00,543.55 L234.40,542.77 L234.80,541.86 L235.20,540.83 L235.60,539.65 L236.00,538.34 L236.40,536.87 L236.80,535.24 L237.20,533.46 L237.60,531.53 L238.00,529.45 L238.40,527.24 L238.80,524.90 L239.20,522.45 L239.60,519.92 L240.00,517.33 L240.40,514.72 L240.80,512.10 L241.20,509.53 L241.60,507.04 L242.00,504.66 L242.40,502.43 L242.80,500.40 L243.20,498.59 L243.60,497.04 L244.00,495.78 L244.40,494.84 L244.80,494.22 L245.20,493.95 L245.60,494.02 L246.00,494.44 L246.40,495.20 L246.80,496.28 L247.20,497.67 L247.60,499.33 L248.00,501.23 L248.40,503.35 L248.80,505.65 L249.20,508.08 L249.60,510.62 L250.00,513.21 L250.40,515.83 L250.80,518.44 L251.20,521.01 L251.60,523.50 L252.00,525.91 L252.40,528.20 L252.80,530.36 L253.20,532.37 L253.60,534.24 L254.00,535.95 L254.40,537.51 L254.80,538.92 L255.20,540.17 L255.60,541.29 L256.00,542.27 L256.40,543.12 L256.80,543.86 L257.20,544.50 L257.60,545.04 L258.00,545.50 L258.40,545.89 L258.80,546.21 L259.20,546.47 L259.60,546.69 L260.00,546.87 L260.40,547.02 L260.80,547.13 L261.20,547.22 L261.60,547.30 L262.00,547.36 L262.40,547.40 L262.80,547.44 L263.20,547.46 L263.60,547.48 L264.00,547.50 L264.40,547.51 L264.80,547.52 L265.20,547.53 L265.60,547.53 L266.00,547.53 L266.40,547.54 L266.80,547.54 L267.20,547.54 L267.60,547.54 L268.00,547.54 L268.40,547.54 L268.80,547.54 L269.20,547.54 L269.60,547.54 L270.00,547.54 L270.40,547.54 L270.80,547.54 L271.20,547.54 L271.60,547.54 L272.00,547.54 L272.40,547.54 L272.80,547.54 L273.20,547.54 L273.60,547.54 L274.00,547.54 L274.40,547.54 L274.80,547.54 L275.20,547.54 L275.60,547.54 L276.00,547.54 L276.40,547.54 L276.80,547.54 L277.20,547.54 L277.60,547.54 L278.00,547.54 L278.40,547.54 L278.80,547.54 L279.20,547.54 L279.60,547.54 L280.00,547.54 L280.40,547.54 L280.80,547.54 L281.20,547.54 L281.60,547.54 L282.00,547.54 L282.40,547.54 L282.80,547.54 L283.20,547.54 L283.60,547.54 L284.00,547.54 L284.40,547.54 L284.80,547.54 L285.20,547.54 L285.60,547.54 L286.00,547.54 L286.40,547.54 L286.80,547.54" fill="none" stroke="#a83232" stroke-width="1.05" stroke-linejoin="round"/>
<path d="M207.60,547.54 L208.00,547.54 L208.40,547.54 L208.80,547.54 L209.20,547.54 L209.60,547.54 L210.00,547.54 L210.40,547.54 L210.80,547.54 L211.20,547.54 L211.60,547.54 L212.00,547.54 L212.40,547.54 L212.80,547.54 L213.20,547.54 L213.60,547.54 L214.00,547.54 L214.40,547.54 L214.80,547.53 L215.20,547.53 L215.60,547.52 L216.00,547.51 L216.40,547.50 L216.80,547.49 L217.20,547.47 L217.60,547.45 L218.00,547.42 L218.40,547.39 L218.80,547.35 L219.20,547.30 L219.60,547.25 L220.00,547.19 L220.40,547.13 L220.80,547.07 L221.20,547.00 L221.60,546.94 L222.00,546.87 L222.40,546.81 L222.80,546.76 L223.20,546.72 L223.60,546.69 L224.00,546.67 L224.40,546.67 L224.80,546.68 L225.20,546.70 L225.60,546.73 L226.00,546.77 L226.40,546.81 L226.80,546.86 L227.20,546.91 L227.60,546.95 L228.00,546.98 L228.40,547.01 L228.80,547.02 L229.20,547.00 L229.60,546.97 L230.00,546.91 L230.40,546.82 L230.80,546.69 L231.20,546.51 L231.60,546.29 L232.00,546.01 L232.40,545.67 L232.80,545.26 L233.20,544.77 L233.60,544.18 L234.00,543.50 L234.40,542.70 L234.80,541.78 L235.20,540.74 L235.60,539.55 L236.00,538.21 L236.40,536.72 L236.80,535.08 L237.20,533.28 L237.60,531.32 L238.00,529.21 L238.40,526.97 L238.80,524.59 L239.20,522.11 L239.60,519.55 L240.00,516.93 L240.40,514.27 L240.80,511.63 L241.20,509.02 L241.60,506.49 L242.00,504.08 L242.40,501.82 L242.80,499.76 L243.20,497.93 L243.60,496.36 L244.00,495.09 L244.40,494.13 L244.80,493.50 L245.20,493.23 L245.60,493.30 L246.00,493.73 L246.40,494.50 L246.80,495.59 L247.20,496.99 L247.60,498.68 L248.00,500.61 L248.40,502.76 L248.80,505.09 L249.20,507.55 L249.60,510.12 L250.00,512.75 L250.40,515.40 L250.80,518.05 L251.20,520.65 L251.60,523.18 L252.00,525.62 L252.40,527.94 L252.80,530.12 L253.20,532.17 L253.60,534.06 L254.00,535.80 L254.40,537.38 L254.80,538.80 L255.20,540.07 L255.60,541.20 L256.00,542.19 L256.40,543.06 L256.80,543.81 L257.20,544.46 L257.60,545.01 L258.00,545.47 L258.40,545.86 L258.80,546.19 L259.20,546.46 L259.60,546.68 L260.00,546.86 L260.40,547.01 L260.80,547.13 L261.20,547.22 L261.60,547.29 L262.00,547.35 L262.40,547.40 L262.80,547.43 L263.20,547.46 L263.60,547.48 L264.00,547.50 L264.40,547.51 L264.80,547.52 L265.20,547.53 L265.60,547.53 L266.00,547.53 L266.40,547.54 L266.80,547.54 L267.20,547.54 L267.60,547.54 L268.00,547.54 L268.40,547.54 L268.80,547.54 L269.20,547.54 L269.60,547.54 L270.00,547.54 L270.40,547.54 L270.80,547.54 L271.20,547.54 L271.60,547.54 L272.00,547.54 L272.40,547.54 L272.80,547.54 L273.20,547.54 L273.60,547.54 L274.00,547.54 L274.40,547.54 L274.80,547.54 L275.20,547.54 L275.60,547.54 L276.00,547.54 L276.40,547.54 L276.80,547.54 L277.20,547.54 L277.60,547.54 L278.00,547.54 L278.40,547.54 L278.80,547.54 L279.20,547.54 L279.60,547.54 L280.00,547.54 L280.40,547.54 L280.80,547.54 L281.20,547.54 L281.60,547.54 L282.00,547.54 L282.40,547.54 L282.80,547.54 L283.20,547.54 L283.60,547.54 L284.00,547.54 L284.40,547.54 L284.80,547.54 L285.20,547.54 L285.60,547.54 L286.00,547.54 L286.40,547.54 L286.80,547.54" fill="none" stroke="#1a9a90" stroke-width="1.05" stroke-linejoin="round"/>
<path d="M207.60,547.54 L208.00,547.54 L208.40,547.54 L208.80,547.54 L209.20,547.54 L209.60,547.54 L210.00,547.54 L210.40,547.54 L210.80,547.54 L211.20,547.54 L211.60,547.54 L212.00,547.54 L212.40,547.54 L212.80,547.54 L213.20,547.54 L213.60,547.54 L214.00,547.53 L214.40,547.53 L214.80,547.52 L215.20,547.51 L215.60,547.50 L216.00,547.48 L216.40,547.45 L216.80,547.42 L217.20,547.37 L217.60,547.32 L218.00,547.26 L218.40,547.18 L218.80,547.09 L219.20,546.98 L219.60,546.86 L220.00,546.73 L220.40,546.58 L220.80,546.43 L221.20,546.28 L221.60,546.12 L222.00,545.98 L222.40,545.84 L222.80,545.73 L223.20,545.63 L223.60,545.56 L224.00,545.52 L224.40,545.52 L224.80,545.54 L225.20,545.59 L225.60,545.67 L226.00,545.77 L226.40,545.89 L226.80,546.02 L227.20,546.15 L227.60,546.28 L228.00,546.41 L228.40,546.52 L228.80,546.60 L229.20,546.67 L229.60,546.70 L230.00,546.70 L230.40,546.65 L230.80,546.57 L231.20,546.44 L231.60,546.25 L232.00,546.00 L232.40,545.69 L232.80,545.30 L233.20,544.83 L233.60,544.27 L234.00,543.62 L234.40,542.85 L234.80,541.96 L235.20,540.95 L235.60,539.80 L236.00,538.51 L236.40,537.07 L236.80,535.47 L237.20,533.73 L237.60,531.84 L238.00,529.80 L238.40,527.62 L238.80,525.33 L239.20,522.93 L239.60,520.44 L240.00,517.90 L240.40,515.34 L240.80,512.77 L241.20,510.25 L241.60,507.80 L242.00,505.46 L242.40,503.28 L242.80,501.29 L243.20,499.51 L243.60,498.00 L244.00,496.76 L244.40,495.83 L244.80,495.23 L245.20,494.96 L245.60,495.03 L246.00,495.44 L246.40,496.19 L246.80,497.25 L247.20,498.61 L247.60,500.24 L248.00,502.11 L248.40,504.19 L248.80,506.44 L249.20,508.83 L249.60,511.31 L250.00,513.86 L250.40,516.43 L250.80,518.99 L251.20,521.51 L251.60,523.96 L252.00,526.32 L252.40,528.56 L252.80,530.68 L253.20,532.66 L253.60,534.49 L254.00,536.17 L254.40,537.70 L254.80,539.08 L255.20,540.31 L255.60,541.40 L256.00,542.36 L256.40,543.20 L256.80,543.93 L257.20,544.56 L257.60,545.09 L258.00,545.54 L258.40,545.92 L258.80,546.23 L259.20,546.49 L259.60,546.71 L260.00,546.88 L260.40,547.03 L260.80,547.14 L261.20,547.23 L261.60,547.30 L262.00,547.36 L262.40,547.40 L262.80,547.44 L263.20,547.46 L263.60,547.48 L264.00,547.50 L264.40,547.51 L264.80,547.52 L265.20,547.53 L265.60,547.53 L266.00,547.54 L266.40,547.54 L266.80,547.54 L267.20,547.54 L267.60,547.54 L268.00,547.54 L268.40,547.54 L268.80,547.54 L269.20,547.54 L269.60,547.54 L270.00,547.54 L270.40,547.54 L270.80,547.54 L271.20,547.54 L271.60,547.54 L272.00,547.54 L272.40,547.54 L272.80,547.54 L273.20,547.54 L273.60,547.54 L274.00,547.54 L274.40,547.54 L274.80,547.54 L275.20,547.54 L275.60,547.54 L276.00,547.54 L276.40,547.54 L276.80,547.54 L277.20,547.54 L277.60,547.54 L278.00,547.54 L278.40,547.54 L278.80,547.54 L279.20,547.54 L279.60,547.54 L280.00,547.54 L280.40,547.54 L280.80,547.54 L281.20,547.54 L281.60,547.54 L282.00,547.54 L282.40,547.54 L282.80,547.54 L283.20,547.54 L283.60,547.54 L284.00,547.54 L284.40,547.54 L284.80,547.54 L285.20,547.54 L285.60,547.54 L286.00,547.54 L286.40,547.54 L286.80,547.54" fill="none" stroke="#0000f0" stroke-width="1.05" stroke-linejoin="round"/>
<path d="M207.60,547.54 L208.00,547.54 L208.40,547.54 L208.80,547.54 L209.20,547.54 L209.60,547.54 L210.00,547.54 L210.40,547.54 L210.80,547.54 L211.20,547.54 L211.60,547.54 L212.00,547.54 L212.40,547.54 L212.80,547.54 L213.20,547.54 L213.60,547.54 L214.00,547.54 L214.40,547.53 L214.80,547.53 L215.20,547.52 L215.60,547.51 L216.00,547.50 L216.40,547.48 L216.80,547.45 L217.20,547.42 L217.60,547.39 L218.00,547.34 L218.40,547.28 L218.80,547.22 L219.20,547.14 L219.60,547.05 L220.00,546.96 L220.40,546.86 L220.80,546.75 L221.20,546.64 L221.60,546.53 L222.00,546.42 L222.40,546.33 L222.80,546.24 L223.20,546.18 L223.60,546.13 L224.00,546.10 L224.40,546.09 L224.80,546.11 L225.20,546.14 L225.60,546.20 L226.00,546.27 L226.40,546.35 L226.80,546.43 L227.20,546.52 L227.60,546.60 L228.00,546.68 L228.40,546.73 L228.80,546.77 L229.20,546.78 L229.60,546.76 L230.00,546.70 L230.40,546.60 L230.80,546.44 L231.20,546.23 L231.60,545.95 L232.00,545.60 L232.40,545.15 L232.80,544.61 L233.20,543.95 L233.60,543.16 L234.00,542.22 L234.40,541.13 L234.80,539.86 L235.20,538.40 L235.60,536.73 L236.00,534.85 L236.40,532.73 L236.80,530.38 L237.20,527.79 L237.60,524.96 L238.00,521.90 L238.40,518.62 L238.80,515.15 L239.20,511.49 L239.60,507.70 L240.00,503.81 L240.40,499.85 L240.80,495.89 L241.20,491.98 L241.60,488.18 L242.00,484.54 L242.40,481.14 L242.80,478.02 L243.20,475.24 L243.60,472.86 L244.00,470.92 L244.40,469.46 L244.80,468.51 L245.20,468.09 L245.60,468.21 L246.00,468.85 L246.40,470.02 L246.80,471.69 L247.20,473.82 L247.60,476.37 L248.00,479.30 L248.40,482.55 L248.80,486.07 L249.20,489.78 L249.60,493.64 L250.00,497.57 L250.40,501.54 L250.80,505.47 L251.20,509.33 L251.60,513.06 L252.00,516.65 L252.40,520.04 L252.80,523.23 L253.20,526.19 L253.60,528.92 L254.00,531.41 L254.40,533.66 L254.80,535.68 L255.20,537.47 L255.60,539.05 L256.00,540.43 L256.40,541.63 L256.80,542.66 L257.20,543.53 L257.60,544.27 L258.00,544.90 L258.40,545.41 L258.80,545.84 L259.20,546.19 L259.60,546.48 L260.00,546.71 L260.40,546.90 L260.80,547.04 L261.20,547.16 L261.60,547.25 L262.00,547.32 L262.40,547.38 L262.80,547.42 L263.20,547.45 L263.60,547.48 L264.00,547.49 L264.40,547.51 L264.80,547.52 L265.20,547.53 L265.60,547.53 L266.00,547.53 L266.40,547.54 L266.80,547.54 L267.20,547.54 L267.60,547.54 L268.00,547.54 L268.40,547.54 L268.80,547.54 L269.20,547.54 L269.60,547.54 L270.00,547.54 L270.40,547.54 L270.80,547.54 L271.20,547.54 L271.60,547.54 L272.00,547.54 L272.40,547.54 L272.80,547.54 L273.20,547.54 L273.60,547.54 L274.00,547.54 L274.40,547.54 L274.80,547.54 L275.20,547.54 L275.60,547.54 L276.00,547.54 L276.40,547.54 L276.80,547.54 L277.20,547.54 L277.60,547.54 L278.00,547.54 L278.40,547.54 L278.80,547.54 L279.20,547.54 L279.60,547.54 L280.00,547.54 L280.40,547.54 L280.80,547.54 L281.20,547.54 L281.60,547.54 L282.00,547.54 L282.40,547.54 L282.80,547.54 L283.20,547.54 L283.60,547.54 L284.00,547.54 L284.40,547.54 L284.80,547.54 L285.20,547.54 L285.60,547.54 L286.00,547.54 L286.40,547.54 L286.80,547.54" fill="none" stroke="#9933ff" stroke-width="1.05" stroke-linejoin="round"/>
<line x1="204.20" y1="461.40" x2="204.20" y2="549.50" stroke="#333" stroke-width="1.1"/>
<line x1="202.40" y1="548.70" x2="204.20" y2="548.70" stroke="#111" stroke-width="1.2"/>
<text x="200.30" y="552.10" font-size="8.4" text-anchor="end" fill="#2a2a2a" textLength="4.78" lengthAdjust="spacingAndGlyphs">0</text>
<line x1="202.40" y1="519.80" x2="204.20" y2="519.80" stroke="#111" stroke-width="1.2"/>
<text x="200.30" y="523.20" font-size="8.4" text-anchor="end" fill="#2a2a2a" textLength="9.56" lengthAdjust="spacingAndGlyphs">20</text>
<line x1="202.40" y1="490.90" x2="204.20" y2="490.90" stroke="#111" stroke-width="1.2"/>
<text x="200.30" y="494.30" font-size="8.4" text-anchor="end" fill="#2a2a2a" textLength="9.56" lengthAdjust="spacingAndGlyphs">40</text>
<line x1="202.40" y1="462.00" x2="204.20" y2="462.00" stroke="#111" stroke-width="1.2"/>
<text x="200.30" y="465.40" font-size="8.4" text-anchor="end" fill="#2a2a2a" textLength="9.56" lengthAdjust="spacingAndGlyphs">60</text>
<line x1="207.60" y1="548.70" x2="287.00" y2="548.70" stroke="#111" stroke-width="1.8"/>
<line x1="207.60" y1="548.70" x2="207.60" y2="551.50" stroke="#222" stroke-width="1.1"/>
<line x1="227.45" y1="548.70" x2="227.45" y2="551.50" stroke="#222" stroke-width="1.1"/>
<line x1="247.30" y1="548.70" x2="247.30" y2="551.50" stroke="#222" stroke-width="1.1"/>
<line x1="267.15" y1="548.70" x2="267.15" y2="551.50" stroke="#222" stroke-width="1.1"/>
<line x1="287.00" y1="548.70" x2="287.00" y2="551.50" stroke="#222" stroke-width="1.1"/>
<text x="227.45" y="558.90" font-size="7.8" text-anchor="middle" fill="#333" textLength="15.90" lengthAdjust="spacingAndGlyphs">38.5</text>
<text x="267.15" y="558.90" font-size="7.8" text-anchor="middle" fill="#333" textLength="15.90" lengthAdjust="spacingAndGlyphs">39.5</text>
<text x="210.30" y="573.20" font-size="10.8" fill="#1c1c1c" textLength="75.40" lengthAdjust="spacingAndGlyphs">Retention (min)</text>
<text transform="translate(188.00,550.10) rotate(-90)" font-size="10.8" fill="#1c1c1c" textLength="88.20" lengthAdjust="spacingAndGlyphs">SIS Peptide<tspan dx="1.2">(x10</tspan><tspan font-size="6.8" dy="-4.4">3</tspan><tspan dy="4.4">)</tspan></text>
<line x1="258.90" y1="477.50" x2="267.70" y2="477.50" stroke="#0000f0" stroke-width="1.7"/>
<text x="276.40" y="479.00" font-size="7.6" fill="#222" textLength="54.87" lengthAdjust="spacingAndGlyphs">y6 - 723.4751+</text>
<line x1="258.90" y1="487.10" x2="267.70" y2="487.10" stroke="#9933ff" stroke-width="1.7"/>
<text x="276.40" y="488.60" font-size="7.6" fill="#222" textLength="54.87" lengthAdjust="spacingAndGlyphs">y5 - 610.3910+</text>
<line x1="258.90" y1="496.90" x2="267.70" y2="496.90" stroke="#a83232" stroke-width="1.7"/>
<text x="276.40" y="498.40" font-size="7.6" fill="#222" textLength="54.87" lengthAdjust="spacingAndGlyphs">y4 - 497.3070+</text>
<line x1="258.90" y1="507.00" x2="267.70" y2="507.00" stroke="#e07828" stroke-width="1.7"/>
<text x="276.40" y="508.50" font-size="7.6" fill="#222" textLength="54.87" lengthAdjust="spacingAndGlyphs">y3 - 369.2484+</text>
<line x1="258.90" y1="517.30" x2="267.70" y2="517.30" stroke="#1a9a90" stroke-width="1.7"/>
<text x="276.40" y="518.80" font-size="7.6" fill="#222" textLength="55.33" lengthAdjust="spacingAndGlyphs">a2 - 201.1234+</text>
<text x="365.00" y="298.60" font-size="17" font-weight="bold" fill="#111">d</text>
<line x1="432.40" y1="329.30" x2="432.40" y2="511.60" stroke="#111" stroke-width="1.3"/>
<line x1="431.80" y1="511.10" x2="676.20" y2="511.10" stroke="#111" stroke-width="1.3"/>
<line x1="425.20" y1="336.30" x2="432.40" y2="336.30" stroke="#111" stroke-width="1.2"/>
<line x1="428.00" y1="366.86" x2="432.40" y2="366.86" stroke="#111" stroke-width="1.1"/>
<line x1="428.00" y1="359.16" x2="432.40" y2="359.16" stroke="#111" stroke-width="1.1"/>
<line x1="428.00" y1="353.70" x2="432.40" y2="353.70" stroke="#111" stroke-width="1.1"/>
<line x1="428.00" y1="349.46" x2="432.40" y2="349.46" stroke="#111" stroke-width="1.1"/>
<line x1="428.00" y1="346.00" x2="432.40" y2="346.00" stroke="#111" stroke-width="1.1"/>
<line x1="428.00" y1="343.07" x2="432.40" y2="343.07" stroke="#111" stroke-width="1.1"/>
<line x1="428.00" y1="340.54" x2="432.40" y2="340.54" stroke="#111" stroke-width="1.1"/>
<line x1="428.00" y1="338.30" x2="432.40" y2="338.30" stroke="#111" stroke-width="1.1"/>
<line x1="425.20" y1="380.02" x2="432.40" y2="380.02" stroke="#111" stroke-width="1.2"/>
<line x1="428.00" y1="410.58" x2="432.40" y2="410.58" stroke="#111" stroke-width="1.1"/>
<line x1="428.00" y1="402.88" x2="432.40" y2="402.88" stroke="#111" stroke-width="1.1"/>
<line x1="428.00" y1="397.42" x2="432.40" y2="397.42" stroke="#111" stroke-width="1.1"/>
<line x1="428.00" y1="393.18" x2="432.40" y2="393.18" stroke="#111" stroke-width="1.1"/>
<line x1="428.00" y1="389.72" x2="432.40" y2="389.72" stroke="#111" stroke-width="1.1"/>
<line x1="428.00" y1="386.79" x2="432.40" y2="386.79" stroke="#111" stroke-width="1.1"/>
<line x1="428.00" y1="384.26" x2="432.40" y2="384.26" stroke="#111" stroke-width="1.1"/>
<line x1="428.00" y1="382.02" x2="432.40" y2="382.02" stroke="#111" stroke-width="1.1"/>
<line x1="425.20" y1="423.74" x2="432.40" y2="423.74" stroke="#111" stroke-width="1.2"/>
<line x1="428.00" y1="454.30" x2="432.40" y2="454.30" stroke="#111" stroke-width="1.1"/>
<line x1="428.00" y1="446.60" x2="432.40" y2="446.60" stroke="#111" stroke-width="1.1"/>
<line x1="428.00" y1="441.14" x2="432.40" y2="441.14" stroke="#111" stroke-width="1.1"/>
<line x1="428.00" y1="436.90" x2="432.40" y2="436.90" stroke="#111" stroke-width="1.1"/>
<line x1="428.00" y1="433.44" x2="432.40" y2="433.44" stroke="#111" stroke-width="1.1"/>
<line x1="428.00" y1="430.51" x2="432.40" y2="430.51" stroke="#111" stroke-width="1.1"/>
<line x1="428.00" y1="427.98" x2="432.40" y2="427.98" stroke="#111" stroke-width="1.1"/>
<line x1="428.00" y1="425.74" x2="432.40" y2="425.74" stroke="#111" stroke-width="1.1"/>
<line x1="425.20" y1="467.46" x2="432.40" y2="467.46" stroke="#111" stroke-width="1.2"/>
<line x1="428.00" y1="498.02" x2="432.40" y2="498.02" stroke="#111" stroke-width="1.1"/>
<line x1="428.00" y1="490.32" x2="432.40" y2="490.32" stroke="#111" stroke-width="1.1"/>
<line x1="428.00" y1="484.86" x2="432.40" y2="484.86" stroke="#111" stroke-width="1.1"/>
<line x1="428.00" y1="480.62" x2="432.40" y2="480.62" stroke="#111" stroke-width="1.1"/>
<line x1="428.00" y1="477.16" x2="432.40" y2="477.16" stroke="#111" stroke-width="1.1"/>
<line x1="428.00" y1="474.23" x2="432.40" y2="474.23" stroke="#111" stroke-width="1.1"/>
<line x1="428.00" y1="471.70" x2="432.40" y2="471.70" stroke="#111" stroke-width="1.1"/>
<line x1="428.00" y1="469.46" x2="432.40" y2="469.46" stroke="#111" stroke-width="1.1"/>
<line x1="425.20" y1="511.18" x2="432.40" y2="511.18" stroke="#111" stroke-width="1.2"/>
<text x="422.90" y="340.80" font-size="12.8" text-anchor="end" fill="#1c1c1c" textLength="7.23" lengthAdjust="spacingAndGlyphs">1</text>
<text x="422.90" y="384.52" font-size="12.8" text-anchor="end" fill="#1c1c1c" textLength="18.07" lengthAdjust="spacingAndGlyphs">0.1</text>
<text x="422.90" y="428.24" font-size="12.8" text-anchor="end" fill="#1c1c1c" textLength="25.30" lengthAdjust="spacingAndGlyphs">0.01</text>
<text x="422.90" y="471.96" font-size="12.8" text-anchor="end" fill="#1c1c1c" textLength="32.53" lengthAdjust="spacingAndGlyphs">0.001</text>
<text x="422.90" y="515.68" font-size="12.8" text-anchor="end" fill="#1c1c1c" textLength="39.76" lengthAdjust="spacingAndGlyphs">0.0001</text>
<line x1="432.60" y1="511.10" x2="432.60" y2="518.60" stroke="#111" stroke-width="1.2"/>
<line x1="450.10" y1="511.10" x2="450.10" y2="515.00" stroke="#111" stroke-width="1.1"/>
<line x1="460.34" y1="511.10" x2="460.34" y2="515.00" stroke="#111" stroke-width="1.1"/>
<line x1="467.61" y1="511.10" x2="467.61" y2="515.00" stroke="#111" stroke-width="1.1"/>
<line x1="473.25" y1="511.10" x2="473.25" y2="515.00" stroke="#111" stroke-width="1.1"/>
<line x1="477.85" y1="511.10" x2="477.85" y2="515.00" stroke="#111" stroke-width="1.1"/>
<line x1="481.74" y1="511.10" x2="481.74" y2="515.00" stroke="#111" stroke-width="1.1"/>
<line x1="485.11" y1="511.10" x2="485.11" y2="515.00" stroke="#111" stroke-width="1.1"/>
<line x1="488.09" y1="511.10" x2="488.09" y2="515.00" stroke="#111" stroke-width="1.1"/>
<line x1="490.75" y1="511.10" x2="490.75" y2="518.60" stroke="#111" stroke-width="1.2"/>
<line x1="508.25" y1="511.10" x2="508.25" y2="515.00" stroke="#111" stroke-width="1.1"/>
<line x1="518.49" y1="511.10" x2="518.49" y2="515.00" stroke="#111" stroke-width="1.1"/>
<line x1="525.76" y1="511.10" x2="525.76" y2="515.00" stroke="#111" stroke-width="1.1"/>
<line x1="531.40" y1="511.10" x2="531.40" y2="515.00" stroke="#111" stroke-width="1.1"/>
<line x1="536.00" y1="511.10" x2="536.00" y2="515.00" stroke="#111" stroke-width="1.1"/>
<line x1="539.89" y1="511.10" x2="539.89" y2="515.00" stroke="#111" stroke-width="1.1"/>
<line x1="543.26" y1="511.10" x2="543.26" y2="515.00" stroke="#111" stroke-width="1.1"/>
<line x1="546.24" y1="511.10" x2="546.24" y2="515.00" stroke="#111" stroke-width="1.1"/>
<line x1="548.90" y1="511.10" x2="548.90" y2="518.60" stroke="#111" stroke-width="1.2"/>
<line x1="566.40" y1="511.10" x2="566.40" y2="515.00" stroke="#111" stroke-width="1.1"/>
<line x1="576.64" y1="511.10" x2="576.64" y2="515.00" stroke="#111" stroke-width="1.1"/>
<line x1="583.91" y1="511.10" x2="583.91" y2="515.00" stroke="#111" stroke-width="1.1"/>
<line x1="589.55" y1="511.10" x2="589.55" y2="515.00" stroke="#111" stroke-width="1.1"/>
<line x1="594.15" y1="511.10" x2="594.15" y2="515.00" stroke="#111" stroke-width="1.1"/>
<line x1="598.04" y1="511.10" x2="598.04" y2="515.00" stroke="#111" stroke-width="1.1"/>
<line x1="601.41" y1="511.10" x2="601.41" y2="515.00" stroke="#111" stroke-width="1.1"/>
<line x1="604.39" y1="511.10" x2="604.39" y2="515.00" stroke="#111" stroke-width="1.1"/>
<line x1="607.05" y1="511.10" x2="607.05" y2="518.60" stroke="#111" stroke-width="1.2"/>
<line x1="624.55" y1="511.10" x2="624.55" y2="515.00" stroke="#111" stroke-width="1.1"/>
<line x1="634.79" y1="511.10" x2="634.79" y2="515.00" stroke="#111" stroke-width="1.1"/>
<line x1="642.06" y1="511.10" x2="642.06" y2="515.00" stroke="#111" stroke-width="1.1"/>
<line x1="647.70" y1="511.10" x2="647.70" y2="515.00" stroke="#111" stroke-width="1.1"/>
<line x1="652.30" y1="511.10" x2="652.30" y2="515.00" stroke="#111" stroke-width="1.1"/>
<line x1="656.19" y1="511.10" x2="656.19" y2="515.00" stroke="#111" stroke-width="1.1"/>
<line x1="659.56" y1="511.10" x2="659.56" y2="515.00" stroke="#111" stroke-width="1.1"/>
<line x1="662.54" y1="511.10" x2="662.54" y2="515.00" stroke="#111" stroke-width="1.1"/>
<line x1="665.20" y1="511.10" x2="665.20" y2="518.60" stroke="#111" stroke-width="1.2"/>
<text x="433.90" y="531.20" font-size="12.8" text-anchor="middle" fill="#1c1c1c" textLength="32.28" lengthAdjust="spacingAndGlyphs">0.001</text>
<text x="488.90" y="531.20" font-size="12.8" text-anchor="middle" fill="#1c1c1c" textLength="25.10" lengthAdjust="spacingAndGlyphs">0.01</text>
<text x="548.05" y="531.20" font-size="12.8" text-anchor="middle" fill="#1c1c1c" textLength="17.93" lengthAdjust="spacingAndGlyphs">0.1</text>
<text x="606.70" y="531.20" font-size="12.8" text-anchor="middle" fill="#1c1c1c" textLength="7.17" lengthAdjust="spacingAndGlyphs">1</text>
<text x="665.00" y="531.20" font-size="12.8" text-anchor="middle" fill="#1c1c1c" textLength="14.35" lengthAdjust="spacingAndGlyphs">10</text>
<text x="476.50" y="554.20" font-size="16.6" fill="#1c1c1c" textLength="142.00" lengthAdjust="spacingAndGlyphs">[Light peptide] (nM)</text>
<text transform="translate(377.40,509.80) rotate(-90)" font-size="17.0" fill="#1c1c1c" textLength="176.60" lengthAdjust="spacingAndGlyphs">Peptide Ratio (light:SIS)</text>
<line x1="512.80" y1="343.00" x2="512.80" y2="511.00" stroke="#222" stroke-width="1.2" stroke-dasharray="2.4 2.8"/>
<text x="500.90" y="339.30" font-size="13.6" fill="#1c1c1c" textLength="28.00" lengthAdjust="spacingAndGlyphs">LOQ</text>
<line x1="503.70" y1="481.60" x2="686.00" y2="352.60" stroke="#111" stroke-width="1.3"/>
<circle cx="448.70" cy="486.80" r="3.4" fill="#0a0a0a"/>
<circle cx="475.90" cy="473.60" r="3.4" fill="#0a0a0a"/>
<circle cx="503.70" cy="481.60" r="3.4" fill="#0a0a0a"/>
<circle cx="531.50" cy="459.70" r="3.4" fill="#0a0a0a"/>
<circle cx="558.90" cy="442.30" r="3.4" fill="#0a0a0a"/>
<circle cx="587.20" cy="424.10" r="3.4" fill="#0a0a0a"/>
<circle cx="614.90" cy="403.90" r="3.4" fill="#0a0a0a"/>
<circle cx="642.30" cy="383.50" r="3.4" fill="#0a0a0a"/>
<circle cx="670.10" cy="363.80" r="3.4" fill="#0a0a0a"/>
</svg>
</body></html>
